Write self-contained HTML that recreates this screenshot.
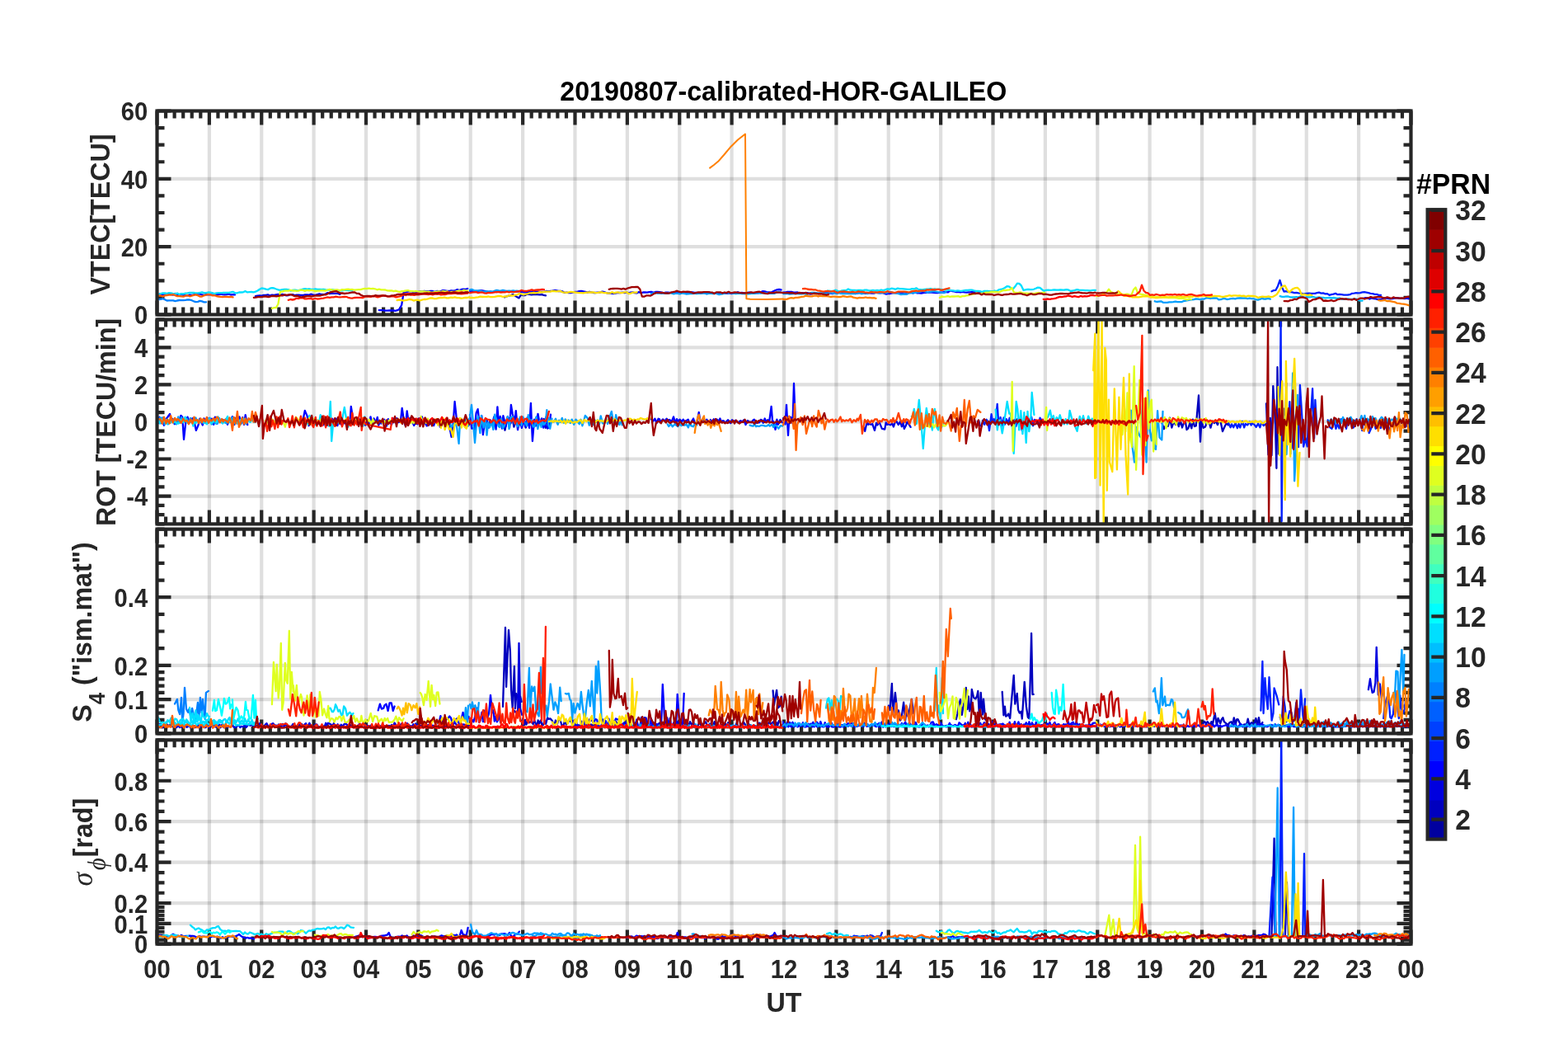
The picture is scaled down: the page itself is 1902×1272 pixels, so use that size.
<!DOCTYPE html><html><head><meta charset="utf-8"><title>20190807-calibrated-HOR-GALILEO</title>
<style>html,body{margin:0;padding:0;background:#fff;}svg{display:block;}text{font-family:"Liberation Sans",Arial,sans-serif;font-weight:bold;fill:#262626;}.tk{font-size:29.2px;}.lb{font-size:32.2px;}.cb{font-size:33.6px;}.pr{font-size:33.8px;}.sym{font-family:"Liberation Serif","DejaVu Serif",serif;font-style:italic;font-weight:normal;}</style></head><body>
<svg width="1902" height="1272" viewBox="0 0 1902 1272">
<rect width="100%" height="100%" fill="#fff"/>
<g>
<path d="M253.88 134.5V381.5M317.25 134.5V381.5M380.62 134.5V381.5M444 134.5V381.5M507.38 134.5V381.5M570.75 134.5V381.5M634.12 134.5V381.5M697.5 134.5V381.5M760.88 134.5V381.5M824.25 134.5V381.5M887.62 134.5V381.5M951 134.5V381.5M1014.38 134.5V381.5M1077.75 134.5V381.5M1141.12 134.5V381.5M1204.5 134.5V381.5M1267.88 134.5V381.5M1331.25 134.5V381.5M1394.62 134.5V381.5M1458 134.5V381.5M1521.38 134.5V381.5M1584.75 134.5V381.5M1648.12 134.5V381.5" stroke="#262626" stroke-opacity="0.15" stroke-width="4.2" fill="none"/>
<path d="M190.5 299.17H1711.5M190.5 216.83H1711.5" stroke="#262626" stroke-opacity="0.15" stroke-width="4.2" fill="none"/>
<path d="M190.5 134.5v17M190.5 381.5v-17M201.06 134.5v9M201.06 381.5v-9M211.62 134.5v9M211.62 381.5v-9M222.19 134.5v9M222.19 381.5v-9M232.75 134.5v9M232.75 381.5v-9M243.31 134.5v9M243.31 381.5v-9M253.88 134.5v17M253.88 381.5v-17M264.44 134.5v9M264.44 381.5v-9M275 134.5v9M275 381.5v-9M285.56 134.5v9M285.56 381.5v-9M296.12 134.5v9M296.12 381.5v-9M306.69 134.5v9M306.69 381.5v-9M317.25 134.5v17M317.25 381.5v-17M327.81 134.5v9M327.81 381.5v-9M338.38 134.5v9M338.38 381.5v-9M348.94 134.5v9M348.94 381.5v-9M359.5 134.5v9M359.5 381.5v-9M370.06 134.5v9M370.06 381.5v-9M380.62 134.5v17M380.62 381.5v-17M391.19 134.5v9M391.19 381.5v-9M401.75 134.5v9M401.75 381.5v-9M412.31 134.5v9M412.31 381.5v-9M422.88 134.5v9M422.88 381.5v-9M433.44 134.5v9M433.44 381.5v-9M444 134.5v17M444 381.5v-17M454.56 134.5v9M454.56 381.5v-9M465.12 134.5v9M465.12 381.5v-9M475.69 134.5v9M475.69 381.5v-9M486.25 134.5v9M486.25 381.5v-9M496.81 134.5v9M496.81 381.5v-9M507.38 134.5v17M507.38 381.5v-17M517.94 134.5v9M517.94 381.5v-9M528.5 134.5v9M528.5 381.5v-9M539.06 134.5v9M539.06 381.5v-9M549.62 134.5v9M549.62 381.5v-9M560.19 134.5v9M560.19 381.5v-9M570.75 134.5v17M570.75 381.5v-17M581.31 134.5v9M581.31 381.5v-9M591.88 134.5v9M591.88 381.5v-9M602.44 134.5v9M602.44 381.5v-9M613 134.5v9M613 381.5v-9M623.56 134.5v9M623.56 381.5v-9M634.12 134.5v17M634.12 381.5v-17M644.69 134.5v9M644.69 381.5v-9M655.25 134.5v9M655.25 381.5v-9M665.81 134.5v9M665.81 381.5v-9M676.38 134.5v9M676.38 381.5v-9M686.94 134.5v9M686.94 381.5v-9M697.5 134.5v17M697.5 381.5v-17M708.06 134.5v9M708.06 381.5v-9M718.62 134.5v9M718.62 381.5v-9M729.19 134.5v9M729.19 381.5v-9M739.75 134.5v9M739.75 381.5v-9M750.31 134.5v9M750.31 381.5v-9M760.88 134.5v17M760.88 381.5v-17M771.44 134.5v9M771.44 381.5v-9M782 134.5v9M782 381.5v-9M792.56 134.5v9M792.56 381.5v-9M803.12 134.5v9M803.12 381.5v-9M813.69 134.5v9M813.69 381.5v-9M824.25 134.5v17M824.25 381.5v-17M834.81 134.5v9M834.81 381.5v-9M845.38 134.5v9M845.38 381.5v-9M855.94 134.5v9M855.94 381.5v-9M866.5 134.5v9M866.5 381.5v-9M877.06 134.5v9M877.06 381.5v-9M887.62 134.5v17M887.62 381.5v-17M898.19 134.5v9M898.19 381.5v-9M908.75 134.5v9M908.75 381.5v-9M919.31 134.5v9M919.31 381.5v-9M929.88 134.5v9M929.88 381.5v-9M940.44 134.5v9M940.44 381.5v-9M951 134.5v17M951 381.5v-17M961.56 134.5v9M961.56 381.5v-9M972.12 134.5v9M972.12 381.5v-9M982.69 134.5v9M982.69 381.5v-9M993.25 134.5v9M993.25 381.5v-9M1003.81 134.5v9M1003.81 381.5v-9M1014.38 134.5v17M1014.38 381.5v-17M1024.94 134.5v9M1024.94 381.5v-9M1035.5 134.5v9M1035.5 381.5v-9M1046.06 134.5v9M1046.06 381.5v-9M1056.62 134.5v9M1056.62 381.5v-9M1067.19 134.5v9M1067.19 381.5v-9M1077.75 134.5v17M1077.75 381.5v-17M1088.31 134.5v9M1088.31 381.5v-9M1098.88 134.5v9M1098.88 381.5v-9M1109.44 134.5v9M1109.44 381.5v-9M1120 134.5v9M1120 381.5v-9M1130.56 134.5v9M1130.56 381.5v-9M1141.12 134.5v17M1141.12 381.5v-17M1151.69 134.5v9M1151.69 381.5v-9M1162.25 134.5v9M1162.25 381.5v-9M1172.81 134.5v9M1172.81 381.5v-9M1183.38 134.5v9M1183.38 381.5v-9M1193.94 134.5v9M1193.94 381.5v-9M1204.5 134.5v17M1204.5 381.5v-17M1215.06 134.5v9M1215.06 381.5v-9M1225.62 134.5v9M1225.62 381.5v-9M1236.19 134.5v9M1236.19 381.5v-9M1246.75 134.5v9M1246.75 381.5v-9M1257.31 134.5v9M1257.31 381.5v-9M1267.88 134.5v17M1267.88 381.5v-17M1278.44 134.5v9M1278.44 381.5v-9M1289 134.5v9M1289 381.5v-9M1299.56 134.5v9M1299.56 381.5v-9M1310.12 134.5v9M1310.12 381.5v-9M1320.69 134.5v9M1320.69 381.5v-9M1331.25 134.5v17M1331.25 381.5v-17M1341.81 134.5v9M1341.81 381.5v-9M1352.38 134.5v9M1352.38 381.5v-9M1362.94 134.5v9M1362.94 381.5v-9M1373.5 134.5v9M1373.5 381.5v-9M1384.06 134.5v9M1384.06 381.5v-9M1394.62 134.5v17M1394.62 381.5v-17M1405.19 134.5v9M1405.19 381.5v-9M1415.75 134.5v9M1415.75 381.5v-9M1426.31 134.5v9M1426.31 381.5v-9M1436.88 134.5v9M1436.88 381.5v-9M1447.44 134.5v9M1447.44 381.5v-9M1458 134.5v17M1458 381.5v-17M1468.56 134.5v9M1468.56 381.5v-9M1479.12 134.5v9M1479.12 381.5v-9M1489.69 134.5v9M1489.69 381.5v-9M1500.25 134.5v9M1500.25 381.5v-9M1510.81 134.5v9M1510.81 381.5v-9M1521.38 134.5v17M1521.38 381.5v-17M1531.94 134.5v9M1531.94 381.5v-9M1542.5 134.5v9M1542.5 381.5v-9M1553.06 134.5v9M1553.06 381.5v-9M1563.62 134.5v9M1563.62 381.5v-9M1574.19 134.5v9M1574.19 381.5v-9M1584.75 134.5v17M1584.75 381.5v-17M1595.31 134.5v9M1595.31 381.5v-9M1605.88 134.5v9M1605.88 381.5v-9M1616.44 134.5v9M1616.44 381.5v-9M1627 134.5v9M1627 381.5v-9M1637.56 134.5v9M1637.56 381.5v-9M1648.12 134.5v17M1648.12 381.5v-17M1658.69 134.5v9M1658.69 381.5v-9M1669.25 134.5v9M1669.25 381.5v-9M1679.81 134.5v9M1679.81 381.5v-9M1690.38 134.5v9M1690.38 381.5v-9M1700.94 134.5v9M1700.94 381.5v-9M1711.5 134.5v17M1711.5 381.5v-17M190.5 381.5h17M1711.5 381.5h-17M190.5 299.17h17M1711.5 299.17h-17M190.5 216.83h17M1711.5 216.83h-17M190.5 134.5h17M1711.5 134.5h-17M190.5 360.92h9M1711.5 360.92h-9M190.5 340.33h9M1711.5 340.33h-9M190.5 319.75h9M1711.5 319.75h-9M190.5 278.58h9M1711.5 278.58h-9M190.5 258h9M1711.5 258h-9M190.5 237.42h9M1711.5 237.42h-9M190.5 196.25h9M1711.5 196.25h-9M190.5 175.67h9M1711.5 175.67h-9M190.5 155.08h9M1711.5 155.08h-9" stroke="#262626" stroke-width="4.2" fill="none"/>
<clipPath id="c_vtec"><rect x="190.5" y="134.5" width="1521" height="247"/></clipPath>
<g clip-path="url(#c_vtec)" fill="none" stroke-linejoin="round" stroke-linecap="round">
<path d="M612.0 360.3L614.5 359.5L617.0 358.7L619.5 358.2L622.0 357.0L624.5 358.4L627.0 360.1L629.5 361.4L632.0 357.4L634.5 358.1L637.0 358.0L639.5 356.6L642.0 356.8L644.5 357.3L647.0 357.0L649.5 356.8L652.0 357.1L654.5 357.3L657.0 357.2L659.5 357.8L662.0 358.3" stroke="#0000bf" stroke-width="2.3"/>
<path d="M309.9 359.2L312.4 358.6L314.9 358.4L317.4 358.6L319.9 357.8L322.4 357.9L324.9 357.3L327.4 358.6L329.9 357.6L332.4 358.0L334.9 357.5L337.4 357.0L339.9 357.5L342.4 356.9L344.9 357.7L347.4 358.4L349.9 358.0L352.4 357.1L354.9 357.2L357.4 358.1L359.9 357.7L362.4 357.7L364.9 357.8L367.4 358.0L369.9 357.4L372.4 357.5L374.9 357.6L377.4 356.6L379.9 357.7L382.4 357.8L384.9 357.1L387.4 356.4L389.9 357.0L392.4 357.2L394.9 356.5L397.4 355.1L399.9 356.2L402.4 355.6L404.9 355.9L407.4 355.9L409.9 355.9L412.4 356.8" stroke="#0000df" stroke-width="2.3"/>
<path d="M190.0 358.1L192.5 357.0L195.0 356.5L197.5 357.0L200.0 356.7L202.5 356.9L205.0 356.8L207.5 357.2L210.0 357.6L212.5 356.0L215.0 357.3L217.5 357.8L220.0 356.9L222.5 357.8L225.0 358.4L227.5 358.4L230.0 357.7L232.5 358.0L235.0 357.4L237.5 356.3L240.0 356.4L242.5 356.5L245.0 357.5L247.5 357.9L250.0 357.1L252.5 357.3L255.0 357.4L257.5 357.6L260.0 357.9L262.5 357.1L265.0 357.2L267.5 356.7L270.0 357.2L272.5 357.4L275.0 357.2L277.5 356.7L280.0 357.5L282.5 357.2L285.0 357.4" stroke="#0000ff" stroke-width="2.3"/>
<path d="M459.7 376.1L462.2 376.1L464.7 376.1L467.2 376.7L469.7 376.7L472.2 376.4L474.7 376.5L477.2 376.5L479.7 376.8L482.2 376.2L484.7 374.6L487.2 369.7L489.7 354.3L492.2 354.0L494.7 353.6L497.2 353.1L499.7 353.4L502.2 354.3L504.7 353.8L507.2 353.8L509.7 353.2L512.2 353.3L514.7 353.0L517.2 353.3L519.7 353.1L522.2 353.0L524.7 353.0L527.2 353.8L529.7 353.0L532.2 353.1L534.7 353.1L537.2 352.2L539.7 352.4L542.2 352.8L544.7 353.0L547.2 352.3L549.7 352.7L552.2 352.4L554.7 351.1L557.2 352.0L559.7 351.0L562.2 350.6L564.7 350.8L567.2 350.0" stroke="#0000ff" stroke-width="2.3"/>
<path d="M570.0 352.9L572.5 352.8L575.0 353.1L577.5 353.8L580.0 353.1L582.5 352.2L585.0 352.3L587.5 352.8L590.0 353.4L592.5 353.9L595.0 353.7L597.5 353.8L600.0 353.5L602.5 354.2L605.0 353.1L607.5 353.3L610.0 353.3L612.5 352.9L615.0 353.2L617.5 353.3L620.0 354.0L622.5 353.6L625.0 353.5L627.5 353.5L630.0 353.0L632.5 354.1L635.0 354.1L637.5 354.5L640.0 354.2L642.5 354.1L645.0 353.5L647.5 353.6L650.0 353.6L652.5 353.7L655.0 353.8L657.5 354.0L660.0 353.8L662.5 353.0L665.0 353.1L667.5 353.0L670.0 352.6L672.5 352.0L675.0 352.5L677.5 353.0L680.0 353.0L682.5 353.5L685.0 354.9L687.5 354.7L690.0 355.1L692.5 355.2L695.0 354.3L697.5 353.8L700.0 353.8L702.5 353.2L705.0 352.8L707.5 353.3L710.0 353.8L712.5 354.6L715.0 353.8L717.5 354.4L720.0 355.0L722.5 355.0L725.0 354.7L727.5 354.7L730.0 353.7L732.5 354.0L735.0 354.9L737.5 355.6L740.0 355.4L742.5 355.8L745.0 356.0L747.5 355.4L750.0 354.8L752.5 355.0L755.0 354.7L757.5 355.0L760.0 354.5L762.5 355.3L765.0 354.6L767.5 354.4L770.0 355.1L772.5 355.4L775.0 354.1L777.5 355.3L780.0 354.5L782.5 354.5L785.0 354.7L787.5 354.1L790.0 353.8L792.5 354.9L795.0 354.0L797.5 353.8L800.0 354.2L802.5 354.7L805.0 355.4L807.5 354.6L810.0 354.6L812.5 354.9L815.0 354.8L817.5 354.4L820.0 354.6L822.5 354.5L825.0 354.6L827.5 354.1L830.0 355.0L832.5 355.1L835.0 355.0L837.5 354.5L840.0 354.4L842.5 354.8L845.0 355.0L847.5 355.4L850.0 355.6L852.5 355.2L855.0 355.2L857.5 356.1L860.0 354.4L862.5 355.5L865.0 355.9L867.5 355.7L870.0 356.2L872.5 355.6L875.0 355.8L877.5 355.4L880.0 355.7L882.5 355.9L885.0 355.3L887.5 356.2L890.0 355.5L892.5 355.5L895.0 354.2L897.5 355.2L900.0 354.9L902.5 355.4L905.0 355.4L907.5 354.7L910.0 354.6L912.5 355.3L915.0 355.7L917.5 355.0L920.0 355.3L922.5 354.2L925.0 353.2L927.5 353.4L930.0 354.2L932.5 354.4L935.0 354.7L937.5 353.5L940.0 352.3L942.5 351.3L945.0 351.0L947.5 351.5" stroke="#0000ff" stroke-width="2.3"/>
<path d="M950.0 354.7L952.5 354.5L955.0 353.9L957.5 353.9L960.0 353.8L962.5 354.7L965.0 354.7L967.5 354.5L970.0 355.3L972.5 355.2L975.0 355.3L977.5 355.8L980.0 355.2L982.5 356.6L985.0 355.8L987.5 355.6L990.0 355.8L992.5 355.8L995.0 356.0L997.5 355.6L1000.0 355.0L1002.5 355.0L1005.0 355.4L1007.5 355.6L1010.0 356.1L1012.5 355.0L1015.0 353.8L1017.5 354.8L1020.0 354.7L1022.5 355.2L1025.0 355.4L1027.5 355.2L1030.0 354.7L1032.5 355.4L1035.0 355.4L1037.5 356.0L1040.0 355.6L1042.5 354.8L1045.0 355.6L1047.5 355.3L1050.0 355.9L1052.5 355.4L1055.0 355.4L1057.5 355.5L1060.0 355.6L1062.5 354.7L1065.0 355.1L1067.5 355.4L1070.0 355.0L1072.5 355.6L1075.0 356.6L1077.5 355.9L1080.0 356.0L1082.5 355.3L1085.0 355.2L1087.5 355.0L1090.0 354.9L1092.5 355.5L1095.0 355.4L1097.5 355.7L1100.0 356.0L1102.5 355.2L1105.0 354.0L1107.5 355.5L1110.0 354.5L1112.5 355.4L1115.0 355.3L1117.5 355.5L1120.0 355.0L1122.5 354.6L1125.0 354.9L1127.5 354.6L1130.0 354.7L1132.5 354.9L1135.0 355.0L1137.5 355.1L1140.0 354.7L1142.5 354.6L1145.0 354.2L1147.5 354.1L1150.0 354.4L1152.5 352.4L1155.0 353.0L1157.5 353.4L1160.0 354.2L1162.5 353.9L1165.0 354.5L1167.5 353.9L1170.0 354.4L1172.5 354.6L1175.0 354.3L1177.5 354.1L1180.0 353.8L1182.5 354.0L1185.0 353.4L1187.5 354.6L1190.0 354.5L1192.5 354.2L1195.0 354.2L1197.5 354.2L1200.0 353.3L1202.5 353.7L1205.0 353.4L1207.5 353.1" stroke="#0000ff" stroke-width="2.3"/>
<path d="M1653.9 361.8L1656.4 361.2L1658.9 361.4L1661.4 362.5L1663.9 361.3L1666.4 362.2L1668.9 362.4L1671.4 363.1L1673.9 362.8L1676.4 362.6L1678.9 361.5L1681.4 361.5L1683.9 361.8L1686.4 362.3L1688.9 362.0L1691.4 361.5L1693.9 361.2L1696.4 361.5L1698.9 361.8L1701.4 361.9L1703.9 362.0L1706.4 361.7L1708.9 362.4" stroke="#0000ff" stroke-width="2.3"/>
<path d="M1542.5 353.2L1545.0 352.1L1547.5 351.8L1550.0 346.9L1552.5 339.8L1555.0 348.2L1557.5 353.5L1560.0 353.2L1562.5 353.8L1565.0 354.2L1567.5 354.4L1570.0 355.1L1572.5 354.9L1575.0 355.4L1577.5 355.7L1580.0 356.2L1582.5 356.5L1585.0 356.0L1587.5 355.7L1590.0 356.0L1592.5 355.8L1595.0 355.9L1597.5 355.1L1600.0 354.6L1602.5 355.6L1605.0 355.4L1607.5 356.4L1610.0 356.1L1612.5 357.8L1615.0 357.2L1617.5 356.7L1620.0 355.8L1622.5 357.2L1625.0 357.0L1627.5 357.1L1630.0 357.6L1632.5 357.6L1635.0 357.5L1637.5 357.2L1640.0 355.8L1642.5 355.6L1645.0 355.2L1647.5 355.3L1650.0 355.1L1652.5 354.4L1655.0 354.2L1657.5 354.6L1660.0 355.1L1662.5 355.8L1665.0 356.1L1667.5 356.9L1670.0 356.9L1672.5 357.8L1675.0 357.9" stroke="#0020ff" stroke-width="2.3"/>
<path d="M190.0 362.7L192.5 363.0L195.0 362.8L197.5 362.2L200.0 363.2L202.5 364.5L205.0 364.4L207.5 364.4L210.0 364.4L212.5 365.1L215.0 364.5L217.5 364.0L220.0 364.2L222.5 364.2L225.0 363.9L227.5 363.4L230.0 363.5L232.5 364.2L235.0 365.3L237.5 366.1L240.0 365.8L242.5 364.9L245.0 365.4L247.5 366.3L250.0 366.3" stroke="#0080ff" stroke-width="2.3"/>
<path d="M570.0 351.5L572.5 351.0L575.0 352.1L577.5 352.3L580.0 352.3L582.5 352.5L585.0 353.4L587.5 353.7L590.0 353.3L592.5 353.6L595.0 353.3L597.5 354.1L600.0 352.7L602.5 351.9L605.0 352.4L607.5 352.7L610.0 351.9L612.5 352.7L615.0 353.0L617.5 352.7L620.0 352.8L622.5 352.3L625.0 352.8L627.5 352.7" stroke="#009fff" stroke-width="2.3"/>
<path d="M789.8 356.1L792.3 355.5L794.8 355.0L797.3 355.6L799.8 355.3L802.3 355.8L804.8 355.3L807.3 355.5L809.8 355.9L812.3 355.2L814.8 355.7L817.3 356.4L819.8 355.7L822.3 355.9L824.8 356.3L827.3 355.5L829.8 355.8L832.3 356.5L834.8 356.3L837.3 356.1L839.8 356.0L842.3 355.6L844.8 356.0L847.3 355.8L849.8 355.7L852.3 355.3L854.8 355.6L857.3 356.4L859.8 355.8L862.3 355.8L864.8 356.0L867.3 355.8L869.8 355.9L872.3 357.2L874.8 356.6L877.3 356.1L879.8 355.0L882.3 355.4L884.8 355.4L887.3 355.5L889.8 355.6L892.3 356.1L894.8 355.8L897.3 355.7L899.8 356.1L902.3 356.0L904.8 356.3L907.3 356.4L909.8 356.2L912.3 355.6L914.8 355.9L917.3 355.6L919.8 355.1L922.3 355.6L924.8 355.4L927.3 355.3L929.8 355.5L932.3 355.8L934.8 355.7L937.3 355.8L939.8 355.8L942.3 354.5L944.8 354.1L947.3 354.5" stroke="#009fff" stroke-width="2.3"/>
<path d="M950.0 356.0L952.5 356.1L955.0 355.8L957.5 356.6L960.0 356.3L962.5 356.2L965.0 356.1L967.5 356.0L970.0 356.4L972.5 356.3L975.0 355.8L977.5 356.8L980.0 356.3L982.5 355.7L985.0 354.8L987.5 355.0L990.0 355.2L992.5 355.6L995.0 355.4L997.5 355.5L1000.0 356.0L1002.5 355.7L1005.0 355.6L1007.5 355.0L1010.0 355.6L1012.5 355.7L1015.0 356.2L1017.5 355.1L1020.0 355.9L1022.5 356.2L1025.0 356.2L1027.5 356.0L1030.0 355.9L1032.5 356.0L1035.0 355.8L1037.5 356.2L1040.0 355.7L1042.5 355.1L1045.0 356.3L1047.5 355.6L1050.0 355.2L1052.5 356.0L1055.0 354.6L1057.5 354.1L1060.0 354.8L1062.5 355.0L1065.0 354.8L1067.5 355.1L1070.0 354.8L1072.5 355.0L1075.0 355.1L1077.5 354.4L1080.0 353.8L1082.5 354.8L1085.0 355.3L1087.5 355.6L1090.0 356.1L1092.5 357.0L1095.0 356.9L1097.5 356.5L1100.0 356.8L1102.5 355.1L1105.0 355.3L1107.5 355.1L1110.0 355.0L1112.5 354.3L1115.0 354.0L1117.5 352.9L1120.0 352.8L1122.5 353.6L1125.0 354.8L1127.5 354.0L1130.0 353.5L1132.5 353.0L1135.0 353.5L1137.5 354.2L1140.0 354.4L1142.5 354.8L1145.0 355.2L1147.5 354.0" stroke="#009fff" stroke-width="2.3"/>
<path d="M1400.8 365.3L1403.3 366.0L1405.8 365.6L1408.3 365.3L1410.8 366.8L1413.3 366.9L1415.8 366.9L1418.3 366.3L1420.8 366.3L1423.3 366.2L1425.8 365.6L1428.3 366.1L1430.8 366.2L1433.3 366.2L1435.8 365.0L1438.3 364.6L1440.8 364.1L1443.3 363.7L1445.8 363.4L1448.3 363.1L1450.8 362.3L1453.3 362.6L1455.8 363.2L1458.3 362.6L1460.8 362.6L1463.3 361.2L1465.8 361.3L1468.3 362.0L1470.8 361.4L1473.3 361.5L1475.8 361.4L1478.3 363.3L1480.8 363.2L1483.3 362.2L1485.8 362.2L1488.3 363.0L1490.8 362.7L1493.3 362.2L1495.8 361.9L1498.3 362.4L1500.8 361.7L1503.3 361.5L1505.8 361.4L1508.3 361.7L1510.8 361.4L1513.3 362.1L1515.8 361.6L1518.3 362.1L1520.8 362.2L1523.3 363.2L1525.8 363.7L1528.3 362.9L1530.8 361.8L1533.3 362.6L1535.8 362.5L1538.3 361.9L1540.8 362.6" stroke="#009fff" stroke-width="2.3"/>
<path d="M1552.7 359.1L1555.2 359.9L1557.7 359.9L1560.2 359.4L1562.7 359.5L1565.2 360.3L1567.7 360.5L1570.2 360.4L1572.7 360.1L1575.2 360.6L1577.7 359.1L1580.2 359.9L1582.7 360.8L1585.2 360.1L1587.7 360.3L1590.2 360.2L1592.7 359.8L1595.2 360.8L1597.7 360.7L1600.2 360.5L1602.7 361.0L1605.2 361.0L1607.7 361.3L1610.2 361.1L1612.7 361.0L1615.2 361.5L1617.7 361.0L1620.2 361.5L1622.7 361.9L1625.2 361.5L1627.7 362.9L1630.2 362.6L1632.7 362.8L1635.2 362.5L1637.7 362.9L1640.2 362.8L1642.7 362.5L1645.2 362.6L1647.7 363.8L1650.2 364.6L1652.7 364.6" stroke="#00bfff" stroke-width="2.3"/>
<path d="M190.0 356.3L192.5 357.0L195.0 356.0L197.5 355.3L200.0 355.5L202.5 355.9L205.0 355.2L207.5 355.4L210.0 356.1L212.5 356.4L215.0 355.6L217.5 356.9L220.0 356.1L222.5 356.4L225.0 355.7L227.5 355.4L230.0 355.0L232.5 355.0L235.0 354.9L237.5 355.5L240.0 355.4L242.5 355.0L245.0 354.3L247.5 355.1L250.0 355.1L252.5 354.5L255.0 354.7L257.5 355.2L260.0 356.1L262.5 355.3L265.0 355.1L267.5 355.1L270.0 355.0L272.5 354.8L275.0 354.8L277.5 354.8L280.0 354.4L282.5 353.8L285.0 355.3L287.5 355.3L290.0 354.5L292.5 354.5L295.0 354.3L297.5 353.1L300.0 354.4L302.5 354.2L305.0 354.0L307.5 354.3L310.0 353.6L312.5 352.5L315.0 350.7L317.5 349.5L320.0 349.8L322.5 350.7L325.0 351.2L327.5 349.7L330.0 349.1L332.5 349.5L335.0 350.5L337.5 351.3L340.0 351.8L342.5 351.1L345.0 351.0L347.5 351.0L350.0 351.3L352.5 352.6L355.0 351.9L357.5 351.6L360.0 351.9L362.5 352.1L365.0 351.3L367.5 350.7L370.0 350.1L372.5 350.7L375.0 350.5L377.5 351.0L380.0 351.0L382.5 350.3L385.0 350.8L387.5 350.8L390.0 351.2L392.5 351.0L395.0 351.5L397.5 351.7L400.0 351.6L402.5 351.0L405.0 351.6L407.5 352.5L410.0 352.4L412.5 352.1L415.0 352.3L417.5 351.8L420.0 351.7L422.5 352.1L425.0 352.2L427.5 352.3" stroke="#00dfff" stroke-width="2.3"/>
<path d="M1003.9 352.6L1006.4 352.8L1008.9 353.2L1011.4 352.5L1013.9 351.7L1016.4 352.8L1018.9 353.6L1021.4 352.4L1023.9 352.1L1026.4 352.2L1028.9 350.4L1031.4 351.7L1033.9 351.8L1036.4 351.9L1038.9 352.2L1041.4 352.0L1043.9 351.8L1046.4 352.4L1048.9 351.7L1051.4 351.6L1053.9 352.3L1056.4 352.4L1058.9 351.9L1061.4 352.3L1063.9 352.0L1066.4 352.3L1068.9 351.5L1071.4 352.2L1073.9 351.4L1076.4 350.4L1078.9 350.7L1081.4 349.7L1083.9 350.2L1086.4 350.8L1088.9 349.6L1091.4 350.2L1093.9 350.1L1096.4 350.3L1098.9 350.6L1101.4 350.9L1103.9 350.9L1106.4 350.2L1108.9 350.5L1111.4 349.3L1113.9 350.9L1116.4 351.1L1118.9 351.4L1121.4 351.0L1123.9 350.6L1126.4 350.7L1128.9 350.0L1131.4 351.0L1133.9 350.3L1136.4 351.0L1138.9 350.6L1141.4 350.8L1143.9 351.4L1146.4 351.5L1148.9 351.7L1151.4 351.9L1153.9 352.2L1156.4 352.3L1158.9 352.9L1161.4 352.4L1163.9 352.7L1166.4 352.8L1168.9 352.3L1171.4 352.0L1173.9 352.0L1176.4 351.6L1178.9 351.7L1181.4 352.4L1183.9 352.8L1186.4 352.9L1188.9 353.2L1191.4 354.0L1193.9 352.9L1196.4 352.8L1198.9 353.0L1201.4 353.1L1203.9 353.4L1206.4 352.5L1208.9 353.2L1211.4 351.4L1213.9 350.8L1216.4 350.3L1218.9 349.0L1221.4 347.2L1223.9 347.4L1226.4 349.3L1228.9 350.3L1231.4 347.3L1233.9 343.7L1236.4 343.9L1238.9 346.4L1241.4 351.8L1243.9 351.4L1246.4 350.8L1248.9 351.0L1251.4 351.1L1253.9 350.8L1256.4 349.8L1258.9 348.6L1261.4 348.9L1263.9 351.0L1266.4 352.9L1268.9 351.8L1271.4 351.7L1273.9 351.8L1276.4 351.7L1278.9 351.4L1281.4 351.7L1283.9 351.7L1286.4 351.3L1288.9 351.7L1291.4 351.5L1293.9 351.1L1296.4 351.7L1298.9 353.0L1301.4 352.5L1303.9 351.9L1306.4 351.2L1308.9 351.6L1311.4 351.9L1313.9 351.9L1316.4 352.1L1318.9 352.1L1321.4 352.4L1323.9 352.2L1326.4 351.8L1328.9 351.9" stroke="#00dfff" stroke-width="2.3"/>
<path d="M329.9 374.0L332.4 373.2L334.9 373.1L337.4 368.7L339.9 353.6L342.4 353.6L344.9 352.7L347.4 352.7L349.9 352.6L352.4 351.8L354.9 352.5L357.4 352.4L359.9 352.8L362.4 352.5L364.9 351.6L367.4 351.9L369.9 352.9L372.4 351.8L374.9 352.3L377.4 351.8L379.9 352.2L382.4 353.1L384.9 352.6L387.4 352.7L389.9 352.2L392.4 352.4L394.9 352.5L397.4 351.5L399.9 350.8L402.4 351.4L404.9 351.8L407.4 351.4L409.9 351.5L412.4 352.1L414.9 351.2L417.4 351.5L419.9 350.9L422.4 350.7L424.9 351.1L427.4 351.0L429.9 351.6L432.4 351.3L434.9 351.2L437.4 351.2L439.9 350.4L442.4 350.0L444.9 350.2L447.4 349.6L449.9 350.1L452.4 349.9L454.9 350.3L457.4 351.3L459.9 350.6L462.4 351.3L464.9 351.4L467.4 351.5L469.9 352.3L472.4 352.5L474.9 352.4L477.4 353.1L479.9 352.6L482.4 353.3L484.9 353.9L487.4 353.1L489.9 353.0L492.4 352.5L494.9 352.2L497.4 353.0L499.9 353.1L502.4 353.4L504.9 353.0L507.4 353.7L509.9 353.3L512.4 353.5L514.9 353.5L517.4 353.8L519.9 353.7L522.4 354.6L524.9 354.7L527.4 354.0L529.9 353.7L532.4 353.4L534.9 354.1L537.4 353.0L539.9 353.7L542.4 353.3L544.9 355.0L547.4 353.8L549.9 354.0L552.4 353.7L554.9 352.9L557.4 352.5L559.9 353.2L562.4 351.9L564.9 352.4L567.4 352.9" stroke="#dfff20" stroke-width="2.3"/>
<path d="M1139.8 360.9L1142.3 359.5L1144.8 359.8L1147.3 359.6L1149.8 359.1L1152.3 359.8L1154.8 359.4L1157.3 359.5L1159.8 359.3L1162.3 359.2L1164.8 360.1L1167.3 359.2L1169.8 359.2L1172.3 358.3L1174.8 358.1L1177.3 357.0L1179.8 356.8L1182.3 356.3L1184.8 355.3L1187.3 356.0L1189.8 355.9L1192.3 355.9L1194.8 355.0L1197.3 354.6L1199.8 354.7L1202.3 353.8L1204.8 354.0L1207.3 353.8L1209.8 354.2L1212.3 354.3L1214.8 353.0L1217.3 351.9L1219.8 352.0L1222.3 351.6L1224.8 351.4L1227.3 349.0L1229.8 354.3L1232.3 355.0L1234.8 355.2L1237.3 354.3L1239.8 355.2L1242.3 355.6L1244.8 355.6L1247.3 355.9L1249.8 356.0L1252.3 355.8L1254.8 356.2L1257.3 355.3L1259.8 355.0L1262.3 355.6L1264.8 354.9L1267.3 354.8" stroke="#dfff20" stroke-width="2.3"/>
<path d="M1330.0 359.0L1332.5 358.6L1335.0 357.8L1337.5 357.2L1340.0 355.6L1342.5 354.3L1345.0 350.7L1347.5 354.1L1350.0 355.1L1352.5 355.3L1355.0 355.9L1357.5 357.2L1360.0 356.6L1362.5 357.1L1365.0 356.9L1367.5 356.6L1370.0 357.4L1372.5 357.7L1375.0 351.2L1377.5 348.5L1380.0 355.0L1382.5 356.4L1385.0 357.0L1387.5 357.3L1390.0 358.0L1392.5 358.5L1395.0 359.5L1397.5 359.4L1400.0 360.7L1402.5 360.0L1405.0 360.5L1407.5 360.5L1410.0 360.4L1412.5 360.8L1415.0 360.5L1417.5 361.0L1420.0 361.1L1422.5 360.8L1425.0 361.1L1427.5 361.3L1430.0 361.8L1432.5 361.9L1435.0 361.9L1437.5 362.6L1440.0 363.3L1442.5 362.4L1445.0 363.0" stroke="#dfff20" stroke-width="2.3"/>
<path d="M481.7 364.0L484.2 363.5L486.7 363.8L489.2 364.6L491.7 364.0L494.2 363.7L496.7 363.0L499.2 363.3L501.7 364.6L504.2 363.9L506.7 363.7L509.2 364.5L511.7 363.7L514.2 363.0L516.7 363.0L519.2 362.4L521.7 361.5L524.2 361.4L526.7 362.2L529.2 362.2L531.7 361.3L534.2 361.0L536.7 361.1L539.2 360.6L541.7 361.4L544.2 361.4L546.7 360.7L549.2 361.0L551.7 360.4L554.2 361.2L556.7 361.1L559.2 361.7L561.7 361.3L564.2 360.8L566.7 361.0L569.2 360.3" stroke="#ffdf00" stroke-width="2.3"/>
<path d="M570.0 361.0L572.5 361.0L575.0 361.1L577.5 360.7L580.0 360.4L582.5 359.7L585.0 360.0L587.5 359.8L590.0 359.9L592.5 359.5L595.0 360.1L597.5 360.1L600.0 359.9L602.5 359.4L605.0 358.9L607.5 359.2L610.0 360.0L612.5 359.3L615.0 359.6L617.5 358.2L620.0 358.5L622.5 358.5L625.0 357.7L627.5 357.3L630.0 355.9L632.5 356.4L635.0 357.3L637.5 356.7L640.0 356.3L642.5 355.3L645.0 355.3L647.5 355.0L650.0 355.4L652.5 354.9L655.0 354.2L657.5 354.4L660.0 353.9L662.5 353.6L665.0 353.7L667.5 353.6L670.0 352.9L672.5 353.0L675.0 353.4L677.5 353.1L680.0 353.1L682.5 354.4L685.0 354.6L687.5 354.9L690.0 354.4L692.5 353.9L695.0 354.1L697.5 354.5L700.0 354.8L702.5 355.1L705.0 355.1L707.5 355.4L710.0 354.9L712.5 354.6L715.0 354.3L717.5 354.5L720.0 354.5L722.5 355.2L725.0 354.9L727.5 354.5L730.0 354.3L732.5 355.2L735.0 355.2L737.5 355.7L740.0 355.4L742.5 354.2L745.0 355.4L747.5 354.7L750.0 354.5L752.5 355.2L755.0 355.0L757.5 354.3L760.0 354.3L762.5 356.0L765.0 355.8L767.5 354.7L770.0 354.6L772.5 354.5" stroke="#ffdf00" stroke-width="2.3"/>
<path d="M1356.3 352.9L1358.8 355.1L1361.3 357.5L1363.8 358.8L1366.3 358.7L1368.8 359.1L1371.3 359.7L1373.8 360.3L1376.3 360.4L1378.8 360.2L1381.3 360.3L1383.8 359.8L1386.3 359.4L1388.8 359.4L1391.3 359.2L1393.8 359.7L1396.3 360.7L1398.8 360.4L1401.3 361.0L1403.8 361.0L1406.3 360.5L1408.8 360.6L1411.3 360.4L1413.8 359.6L1416.3 360.6L1418.8 360.2L1421.3 359.9L1423.8 359.8L1426.3 360.2L1428.8 359.6L1431.3 359.5L1433.8 359.9L1436.3 359.8L1438.8 360.2L1441.3 359.9L1443.8 359.5L1446.3 359.8L1448.8 359.0L1451.3 359.3L1453.8 359.6L1456.3 358.9L1458.8 358.7L1461.3 358.9L1463.8 359.3L1466.3 359.9L1468.8 359.8L1471.3 359.2L1473.8 358.8L1476.3 359.1L1478.8 359.2L1481.3 359.7L1483.8 360.0L1486.3 359.3L1488.8 359.0L1491.3 358.2L1493.8 358.9L1496.3 358.4L1498.8 358.4L1501.3 358.7L1503.8 358.3L1506.3 359.0L1508.8 358.6L1511.3 359.7L1513.8 358.7L1516.3 358.8L1518.8 359.0L1521.3 359.2L1523.8 359.7L1526.3 361.0L1528.8 360.1L1531.3 359.7L1533.8 359.8L1536.3 359.8L1538.8 359.4L1541.3 360.1L1543.8 359.9L1546.3 358.6L1548.8 356.9L1551.3 353.1L1553.8 349.0L1556.3 346.8L1558.8 346.5L1561.3 351.6L1563.8 354.6L1566.3 352.0L1568.8 350.0L1571.3 349.1L1573.8 348.8L1576.3 351.3L1578.8 357.5L1581.3 357.0L1583.8 357.4L1586.3 358.1L1588.8 357.3L1591.3 358.1" stroke="#ffdf00" stroke-width="2.3"/>
<path d="M861.1 203.6L866.0 200.0L871.1 195.8L878.0 188.0L886.7 177.7L895.0 169.5L904.0 162.5L905.4 362.2L910.0 362.8L930.0 363.0L950.0 362.6" stroke="#ff8000" stroke-width="2.0"/>
<path d="M950.0 362.8L952.5 363.0L955.0 362.6L957.5 361.6L960.0 361.1L962.5 361.6L965.0 360.9L967.5 360.8L970.0 360.5L972.5 359.9L975.0 359.6L977.5 358.5L980.0 359.0L982.5 359.4L985.0 359.3L987.5 358.7L990.0 358.3L992.5 359.5L995.0 358.6L997.5 359.1L1000.0 359.2L1002.5 359.2L1005.0 359.3L1007.5 360.0L1010.0 359.6L1012.5 359.7L1015.0 359.8L1017.5 360.2L1020.0 360.0L1022.5 359.1L1025.0 359.5L1027.5 360.1L1030.0 359.7L1032.5 359.5L1035.0 360.6L1037.5 361.1L1040.0 361.7L1042.5 360.9L1045.0 361.2L1047.5 361.1L1050.0 360.5L1052.5 361.2L1055.0 360.9L1057.5 361.3L1060.0 361.1L1062.5 361.8" stroke="#ff8000" stroke-width="2.3"/>
<path d="M1672.1 364.0L1674.6 364.6L1677.1 364.3L1679.6 363.8L1682.1 365.1L1684.6 364.8L1687.1 365.3L1689.6 365.9L1692.1 366.3L1694.6 367.7L1697.1 367.8L1699.6 368.4L1702.1 368.7L1704.6 369.0L1707.1 369.6L1709.6 370.5" stroke="#ff8000" stroke-width="2.3"/>
<path d="M190.0 359.0L192.5 358.7L195.0 358.5L197.5 359.3L200.0 358.4L202.5 358.0L205.0 357.7L207.5 357.6L210.0 357.0L212.5 358.1L215.0 359.1L217.5 359.1L220.0 359.3L222.5 359.6L225.0 358.7L227.5 358.2L230.0 359.3L232.5 358.7L235.0 357.9L237.5 357.3L240.0 358.2L242.5 359.6L245.0 359.5L247.5 358.3L250.0 357.7L252.5 357.0L255.0 357.3L257.5 358.4L260.0 358.1L262.5 359.0L265.0 359.5L267.5 359.9L270.0 360.1L272.5 359.9L275.0 359.8L277.5 360.1L280.0 359.9L282.5 360.4" stroke="#ff6000" stroke-width="2.3"/>
<path d="M974.0 350.2L976.5 349.8L979.0 350.5L981.5 351.0L984.0 350.9L986.5 351.4L989.0 351.3L991.5 352.3L994.0 352.6L996.5 353.2L999.0 353.6L1001.5 353.1L1004.0 352.8L1006.5 353.3L1009.0 353.4L1011.5 352.8L1014.0 354.3L1016.5 354.9L1019.0 353.7L1021.5 353.7L1024.0 353.5L1026.5 353.9L1029.0 354.2L1031.5 354.4L1034.0 353.9L1036.5 354.3L1039.0 354.2L1041.5 353.3L1044.0 354.0L1046.5 354.0L1049.0 354.5L1051.5 354.7L1054.0 355.1L1056.5 354.0L1059.0 354.4L1061.5 354.5L1064.0 354.7L1066.5 354.1L1069.0 354.1L1071.5 354.4L1074.0 354.3L1076.5 353.2L1079.0 354.1L1081.5 354.3L1084.0 354.6L1086.5 354.8L1089.0 353.7L1091.5 353.6L1094.0 353.6L1096.5 353.6L1099.0 353.9L1101.5 354.3L1104.0 354.1L1106.5 353.1L1109.0 352.9L1111.5 352.5L1114.0 353.1L1116.5 352.7L1119.0 352.3L1121.5 352.7L1124.0 351.4L1126.5 351.5L1129.0 351.4L1131.5 351.0L1134.0 351.4L1136.5 350.9L1139.0 350.8L1141.5 351.9L1144.0 351.5L1146.5 350.6L1149.0 350.0L1151.5 349.4" stroke="#ff4000" stroke-width="2.3"/>
<path d="M349.8 363.8L352.3 363.0L354.8 363.5L357.3 363.0L359.8 361.6L362.3 362.0L364.8 361.2L367.3 361.3L369.8 362.4L372.3 362.4L374.8 361.9L377.3 362.1L379.8 362.8L382.3 361.8L384.8 362.5L387.3 362.4L389.8 361.9L392.3 361.7L394.8 361.0L397.3 360.4L399.8 360.9L402.3 360.3L404.8 360.3L407.3 359.6L409.8 360.2L412.3 360.3L414.8 360.2L417.3 360.0L419.8 359.8L422.3 360.8L424.8 361.4L427.3 361.7L429.8 361.0L432.3 360.8L434.8 360.9L437.3 360.9L439.8 361.1L442.3 360.0L444.8 359.3L447.3 359.6L449.8 359.9L452.3 358.7L454.8 359.3L457.3 360.3L459.8 360.0L462.3 359.1L464.8 358.2L467.3 358.9L469.8 359.4L472.3 359.7L474.8 359.3L477.3 359.2L479.8 360.3L482.3 360.0L484.8 359.4L487.3 358.6L489.8 357.3L492.3 358.0L494.8 356.5L497.3 357.5L499.8 357.4L502.3 357.9L504.8 357.4L507.3 357.4L509.8 356.8L512.3 356.1L514.8 356.7L517.3 356.8L519.8 357.0L522.3 356.6L524.8 357.4L527.3 356.6L529.8 356.4L532.3 356.5L534.8 357.3L537.3 357.0L539.8 357.2L542.3 356.4L544.8 355.8L547.3 356.2L549.8 355.9L552.3 355.5L554.8 356.1L557.3 356.1L559.8 356.3L562.3 356.1L564.8 355.8L567.3 355.7" stroke="#ff2000" stroke-width="2.3"/>
<path d="M570.0 355.1L572.5 354.7L575.0 354.3L577.5 354.2L580.0 355.1L582.5 354.7L585.0 354.5L587.5 355.3L590.0 355.7L592.5 354.9L595.0 355.1L597.5 354.8L600.0 354.4L602.5 354.1L605.0 354.2L607.5 354.5L610.0 354.4L612.5 354.4L615.0 353.7L617.5 354.5L620.0 353.7L622.5 354.1L625.0 353.8L627.5 353.3L630.0 353.3L632.5 352.0L635.0 352.7L637.5 353.0L640.0 352.6L642.5 352.0L645.0 351.3L647.5 352.1L650.0 351.7L652.5 351.5L655.0 351.4L657.5 350.9L660.0 351.2" stroke="#ff2000" stroke-width="2.3"/>
<path d="M1330.0 357.6L1332.5 358.7L1335.0 358.2L1337.5 357.8L1340.0 357.7L1342.5 358.6L1345.0 358.4L1347.5 358.3L1350.0 358.3L1352.5 358.2L1355.0 358.0L1357.5 357.9L1360.0 357.3L1362.5 358.2L1365.0 357.8L1367.5 358.5L1370.0 359.0L1372.5 358.6L1375.0 358.2L1377.5 358.0L1380.0 355.7L1382.5 353.6L1385.0 345.6L1387.5 352.5L1390.0 354.8L1392.5 355.4L1395.0 357.8L1397.5 357.4L1400.0 357.8L1402.5 356.9L1405.0 357.5L1407.5 358.2L1410.0 357.7L1412.5 357.9L1415.0 357.0L1417.5 357.3L1420.0 357.2L1422.5 357.5L1425.0 356.9L1427.5 357.7L1430.0 357.2L1432.5 357.7L1435.0 356.8L1437.5 357.6L1440.0 357.8L1442.5 357.2L1445.0 356.9L1447.5 357.7L1450.0 358.3L1452.5 358.6L1455.0 358.2L1457.5 358.0L1460.0 357.0L1462.5 358.1L1465.0 357.9L1467.5 357.8L1470.0 357.5" stroke="#ff2000" stroke-width="2.3"/>
<path d="M489.7 357.0L492.2 356.7L494.7 356.4L497.2 356.2L499.7 356.4L502.2 356.6L504.7 355.8L507.2 356.0L509.7 356.5L512.2 356.1L514.7 355.7L517.2 356.2L519.7 356.2L522.2 355.3L524.7 355.3L527.2 355.3L529.7 355.1L532.2 354.9L534.7 354.8L537.2 354.6L539.7 355.3L542.2 354.5L544.7 354.7L547.2 355.2L549.7 354.5L552.2 354.4L554.7 354.7L557.2 354.9L559.7 354.4L562.2 355.1L564.7 354.6L567.2 354.3" stroke="#ff0000" stroke-width="2.3"/>
<path d="M1265.7 362.8L1268.2 363.0L1270.7 362.5L1273.2 362.8L1275.7 362.3L1278.2 362.2L1280.7 361.6L1283.2 360.7L1285.7 359.9L1288.2 360.2L1290.7 359.5L1293.2 359.4L1295.7 358.5L1298.2 359.0L1300.7 359.9L1303.2 359.1L1305.7 359.7L1308.2 360.2L1310.7 358.9L1313.2 359.7L1315.7 359.1L1318.2 359.4L1320.7 358.9L1323.2 357.9L1325.7 358.1L1328.2 358.4" stroke="#ff0000" stroke-width="2.3"/>
<path d="M307.9 360.9L310.4 360.6L312.9 360.1L315.4 360.2L317.9 360.1L320.4 359.5L322.9 359.5L325.4 360.0L327.9 359.5L330.4 358.9L332.9 359.0L335.4 359.4L337.9 358.9L340.4 358.1L342.9 358.3L345.4 357.5L347.9 357.8L350.4 357.3L352.9 357.2L355.4 358.1L357.9 359.2L360.4 358.7L362.9 359.8L365.4 360.3L367.9 360.0L370.4 359.5L372.9 359.1L375.4 359.1L377.9 359.5L380.4 358.9L382.9 358.4L385.4 358.5L387.9 358.7L390.4 358.0L392.9 357.4L395.4 357.3L397.9 355.9L400.4 354.4L402.9 353.9L405.4 353.4L407.9 353.1L410.4 354.2L412.9 355.5L415.4 355.5L417.9 356.0L420.4 355.6L422.9 355.3L425.4 354.8L427.9 354.4L430.4 354.5L432.9 355.9L435.4 356.0L437.9 357.9L440.4 358.8L442.9 359.1L445.4 358.8L447.9 359.0L450.4 359.2L452.9 359.4L455.4 358.1L457.9 358.6L460.4 358.6L462.9 358.3L465.4 358.7L467.9 358.5L470.4 359.3L472.9 359.2L475.4 358.3L477.9 358.2L480.4 357.7L482.9 356.9L485.4 357.0L487.9 356.7L490.4 356.7L492.9 356.8L495.4 357.4L497.9 356.5L500.4 356.1L502.9 356.1L505.4 356.5L507.9 356.6L510.4 356.1L512.9 356.4L515.4 355.9L517.9 355.5L520.4 356.0L522.9 355.8L525.4 356.1L527.9 355.6L530.4 356.1L532.9 355.1L535.4 354.9L537.9 355.5L540.4 355.3L542.9 355.3L545.4 355.0L547.9 355.2L550.4 354.6L552.9 355.0L555.4 355.9L557.9 355.5L560.4 355.0L562.9 354.8L565.4 354.5L567.9 354.6" stroke="#9f0000" stroke-width="2.3"/>
<path d="M738.8 350.8L741.3 350.1L743.8 350.0L746.3 349.9L748.8 349.8L751.3 350.2L753.8 350.7L756.3 349.9L758.8 350.8L761.3 349.5L763.8 348.8L766.3 348.1L768.8 348.1L771.3 348.0L773.8 347.9L776.3 350.7L778.8 359.5L781.3 359.7L783.8 358.4L786.3 358.4L788.8 358.7L791.3 357.4L793.8 355.8L796.3 354.9L798.8 354.8L801.3 355.0L803.8 354.9L806.3 355.5L808.8 355.3L811.3 355.7L813.8 354.7L816.3 354.2L818.8 353.6L821.3 352.7L823.8 353.7L826.3 354.3L828.8 353.7L831.3 353.8L833.8 353.6L836.3 354.0L838.8 354.5L841.3 355.7L843.8 355.1L846.3 354.5L848.8 354.3L851.3 354.5L853.8 354.2L856.3 354.2L858.8 354.1L861.3 354.4L863.8 354.6L866.3 356.0L868.8 354.4L871.3 354.4L873.8 354.3L876.3 355.5L878.8 354.5L881.3 355.1L883.8 353.8L886.3 355.2L888.8 354.9L891.3 354.5L893.8 354.6L896.3 354.8L898.8 355.2L901.3 355.4L903.8 355.3L906.3 355.2L908.8 354.8L911.3 354.3L913.8 354.8L916.3 354.4L918.8 354.0L921.3 353.7L923.8 354.8L926.3 355.3L928.8 355.9L931.3 356.1L933.8 354.9L936.3 355.1L938.8 355.1L941.3 354.4L943.8 354.7L946.3 354.7L948.8 354.9" stroke="#9f0000" stroke-width="2.3"/>
<path d="M950.0 355.1L952.5 355.2L955.0 354.9L957.5 355.3L960.0 355.0L962.5 355.3L965.0 356.1L967.5 355.3L970.0 355.0L972.5 355.4L975.0 355.5L977.5 354.8L980.0 356.2L982.5 355.7L985.0 356.3L987.5 355.7L990.0 355.9L992.5 356.5L995.0 356.2L997.5 356.6L1000.0 357.0L1002.5 357.6L1005.0 356.8" stroke="#9f0000" stroke-width="2.3"/>
<path d="M1175.8 356.8L1178.3 356.3L1180.8 355.7L1183.3 356.0L1185.8 355.6L1188.3 355.9L1190.8 357.4L1193.3 356.1L1195.8 357.1L1198.3 356.8L1200.8 357.0L1203.3 357.0L1205.8 358.0L1208.3 357.3L1210.8 356.8L1213.3 357.5L1215.8 357.8L1218.3 357.2L1220.8 357.0L1223.3 356.8L1225.8 356.2L1228.3 356.7L1230.8 356.6L1233.3 356.4L1235.8 356.2L1238.3 356.0L1240.8 356.9L1243.3 357.3L1245.8 358.3L1248.3 357.1L1250.8 356.1L1253.3 357.2L1255.8 357.2L1258.3 356.5L1260.8 355.8L1263.3 356.0L1265.8 357.0L1268.3 356.7L1270.8 357.1L1273.3 357.6L1275.8 357.6L1278.3 356.8L1280.8 356.5L1283.3 356.4L1285.8 356.0L1288.3 355.9L1290.8 356.2L1293.3 356.2L1295.8 356.4L1298.3 355.5L1300.8 355.3L1303.3 354.8L1305.8 354.8L1308.3 354.3L1310.8 355.0L1313.3 355.3L1315.8 355.3L1318.3 355.6L1320.8 355.0L1323.3 355.0L1325.8 355.3L1328.3 354.7" stroke="#9f0000" stroke-width="2.3"/>
<path d="M1330.0 355.3L1332.5 355.5L1335.0 355.4L1337.5 354.9L1340.0 354.9L1342.5 355.4L1345.0 355.6L1347.5 355.7L1350.0 355.4L1352.5 355.7L1355.0 354.4" stroke="#9f0000" stroke-width="2.3"/>
<path d="M1557.7 365.1L1560.2 365.1L1562.7 365.3L1565.2 364.1L1567.7 363.9L1570.2 362.7L1572.7 363.2L1575.2 361.3L1577.7 360.7L1580.2 360.4L1582.7 361.1L1585.2 362.0L1587.7 366.0L1590.2 364.7L1592.7 363.2L1595.2 363.1L1597.7 362.1L1600.2 361.1L1602.7 362.0L1605.2 364.8L1607.7 364.5L1610.2 364.8L1612.7 364.6L1615.2 364.2L1617.7 365.2L1620.2 364.5L1622.7 363.1L1625.2 362.7L1627.7 362.1L1630.2 362.6L1632.7 362.3L1635.2 363.1L1637.7 363.1L1640.2 363.5L1642.7 362.3L1645.2 363.9L1647.7 362.7L1650.2 361.6L1652.7 361.6L1655.2 362.5L1657.7 361.6L1660.2 361.2L1662.7 360.0L1665.2 360.9L1667.7 360.5L1670.2 360.2L1672.7 360.2L1675.2 360.2L1677.7 361.1L1680.2 361.3L1682.7 360.4L1685.2 361.2L1687.7 361.9L1690.2 360.4L1692.7 361.3L1695.2 361.4L1697.7 361.6L1700.2 361.3L1702.7 361.7L1705.2 360.4L1707.7 359.9L1710.2 359.7" stroke="#9f0000" stroke-width="2.3"/>
</g>
<rect x="190.5" y="134.5" width="1521" height="247" stroke="#262626" stroke-width="4.2" fill="none"/>
<text class="tk" transform="translate(179.2,393.3) scale(1,1.06)" text-anchor="end">0</text>
<text class="tk" transform="translate(179.2,310.97) scale(1,1.06)" text-anchor="end">20</text>
<text class="tk" transform="translate(179.2,228.63) scale(1,1.06)" text-anchor="end">40</text>
<text class="tk" transform="translate(179.2,146.3) scale(1,1.06)" text-anchor="end">60</text>
</g>
<g>
<path d="M253.88 387.5V635.4M317.25 387.5V635.4M380.62 387.5V635.4M444 387.5V635.4M507.38 387.5V635.4M570.75 387.5V635.4M634.12 387.5V635.4M697.5 387.5V635.4M760.88 387.5V635.4M824.25 387.5V635.4M887.62 387.5V635.4M951 387.5V635.4M1014.38 387.5V635.4M1077.75 387.5V635.4M1141.12 387.5V635.4M1204.5 387.5V635.4M1267.88 387.5V635.4M1331.25 387.5V635.4M1394.62 387.5V635.4M1458 387.5V635.4M1521.38 387.5V635.4M1584.75 387.5V635.4M1648.12 387.5V635.4" stroke="#262626" stroke-opacity="0.15" stroke-width="4.2" fill="none"/>
<path d="M190.5 601.6H1711.5M190.5 556.52H1711.5M190.5 511.45H1711.5M190.5 466.38H1711.5M190.5 421.3H1711.5" stroke="#262626" stroke-opacity="0.15" stroke-width="4.2" fill="none"/>
<path d="M190.5 387.5v17M190.5 635.4v-17M201.06 387.5v9M201.06 635.4v-9M211.62 387.5v9M211.62 635.4v-9M222.19 387.5v9M222.19 635.4v-9M232.75 387.5v9M232.75 635.4v-9M243.31 387.5v9M243.31 635.4v-9M253.88 387.5v17M253.88 635.4v-17M264.44 387.5v9M264.44 635.4v-9M275 387.5v9M275 635.4v-9M285.56 387.5v9M285.56 635.4v-9M296.12 387.5v9M296.12 635.4v-9M306.69 387.5v9M306.69 635.4v-9M317.25 387.5v17M317.25 635.4v-17M327.81 387.5v9M327.81 635.4v-9M338.38 387.5v9M338.38 635.4v-9M348.94 387.5v9M348.94 635.4v-9M359.5 387.5v9M359.5 635.4v-9M370.06 387.5v9M370.06 635.4v-9M380.62 387.5v17M380.62 635.4v-17M391.19 387.5v9M391.19 635.4v-9M401.75 387.5v9M401.75 635.4v-9M412.31 387.5v9M412.31 635.4v-9M422.88 387.5v9M422.88 635.4v-9M433.44 387.5v9M433.44 635.4v-9M444 387.5v17M444 635.4v-17M454.56 387.5v9M454.56 635.4v-9M465.12 387.5v9M465.12 635.4v-9M475.69 387.5v9M475.69 635.4v-9M486.25 387.5v9M486.25 635.4v-9M496.81 387.5v9M496.81 635.4v-9M507.38 387.5v17M507.38 635.4v-17M517.94 387.5v9M517.94 635.4v-9M528.5 387.5v9M528.5 635.4v-9M539.06 387.5v9M539.06 635.4v-9M549.62 387.5v9M549.62 635.4v-9M560.19 387.5v9M560.19 635.4v-9M570.75 387.5v17M570.75 635.4v-17M581.31 387.5v9M581.31 635.4v-9M591.88 387.5v9M591.88 635.4v-9M602.44 387.5v9M602.44 635.4v-9M613 387.5v9M613 635.4v-9M623.56 387.5v9M623.56 635.4v-9M634.12 387.5v17M634.12 635.4v-17M644.69 387.5v9M644.69 635.4v-9M655.25 387.5v9M655.25 635.4v-9M665.81 387.5v9M665.81 635.4v-9M676.38 387.5v9M676.38 635.4v-9M686.94 387.5v9M686.94 635.4v-9M697.5 387.5v17M697.5 635.4v-17M708.06 387.5v9M708.06 635.4v-9M718.62 387.5v9M718.62 635.4v-9M729.19 387.5v9M729.19 635.4v-9M739.75 387.5v9M739.75 635.4v-9M750.31 387.5v9M750.31 635.4v-9M760.88 387.5v17M760.88 635.4v-17M771.44 387.5v9M771.44 635.4v-9M782 387.5v9M782 635.4v-9M792.56 387.5v9M792.56 635.4v-9M803.12 387.5v9M803.12 635.4v-9M813.69 387.5v9M813.69 635.4v-9M824.25 387.5v17M824.25 635.4v-17M834.81 387.5v9M834.81 635.4v-9M845.38 387.5v9M845.38 635.4v-9M855.94 387.5v9M855.94 635.4v-9M866.5 387.5v9M866.5 635.4v-9M877.06 387.5v9M877.06 635.4v-9M887.62 387.5v17M887.62 635.4v-17M898.19 387.5v9M898.19 635.4v-9M908.75 387.5v9M908.75 635.4v-9M919.31 387.5v9M919.31 635.4v-9M929.88 387.5v9M929.88 635.4v-9M940.44 387.5v9M940.44 635.4v-9M951 387.5v17M951 635.4v-17M961.56 387.5v9M961.56 635.4v-9M972.12 387.5v9M972.12 635.4v-9M982.69 387.5v9M982.69 635.4v-9M993.25 387.5v9M993.25 635.4v-9M1003.81 387.5v9M1003.81 635.4v-9M1014.38 387.5v17M1014.38 635.4v-17M1024.94 387.5v9M1024.94 635.4v-9M1035.5 387.5v9M1035.5 635.4v-9M1046.06 387.5v9M1046.06 635.4v-9M1056.62 387.5v9M1056.62 635.4v-9M1067.19 387.5v9M1067.19 635.4v-9M1077.75 387.5v17M1077.75 635.4v-17M1088.31 387.5v9M1088.31 635.4v-9M1098.88 387.5v9M1098.88 635.4v-9M1109.44 387.5v9M1109.44 635.4v-9M1120 387.5v9M1120 635.4v-9M1130.56 387.5v9M1130.56 635.4v-9M1141.12 387.5v17M1141.12 635.4v-17M1151.69 387.5v9M1151.69 635.4v-9M1162.25 387.5v9M1162.25 635.4v-9M1172.81 387.5v9M1172.81 635.4v-9M1183.38 387.5v9M1183.38 635.4v-9M1193.94 387.5v9M1193.94 635.4v-9M1204.5 387.5v17M1204.5 635.4v-17M1215.06 387.5v9M1215.06 635.4v-9M1225.62 387.5v9M1225.62 635.4v-9M1236.19 387.5v9M1236.19 635.4v-9M1246.75 387.5v9M1246.75 635.4v-9M1257.31 387.5v9M1257.31 635.4v-9M1267.88 387.5v17M1267.88 635.4v-17M1278.44 387.5v9M1278.44 635.4v-9M1289 387.5v9M1289 635.4v-9M1299.56 387.5v9M1299.56 635.4v-9M1310.12 387.5v9M1310.12 635.4v-9M1320.69 387.5v9M1320.69 635.4v-9M1331.25 387.5v17M1331.25 635.4v-17M1341.81 387.5v9M1341.81 635.4v-9M1352.38 387.5v9M1352.38 635.4v-9M1362.94 387.5v9M1362.94 635.4v-9M1373.5 387.5v9M1373.5 635.4v-9M1384.06 387.5v9M1384.06 635.4v-9M1394.62 387.5v17M1394.62 635.4v-17M1405.19 387.5v9M1405.19 635.4v-9M1415.75 387.5v9M1415.75 635.4v-9M1426.31 387.5v9M1426.31 635.4v-9M1436.88 387.5v9M1436.88 635.4v-9M1447.44 387.5v9M1447.44 635.4v-9M1458 387.5v17M1458 635.4v-17M1468.56 387.5v9M1468.56 635.4v-9M1479.12 387.5v9M1479.12 635.4v-9M1489.69 387.5v9M1489.69 635.4v-9M1500.25 387.5v9M1500.25 635.4v-9M1510.81 387.5v9M1510.81 635.4v-9M1521.38 387.5v17M1521.38 635.4v-17M1531.94 387.5v9M1531.94 635.4v-9M1542.5 387.5v9M1542.5 635.4v-9M1553.06 387.5v9M1553.06 635.4v-9M1563.62 387.5v9M1563.62 635.4v-9M1574.19 387.5v9M1574.19 635.4v-9M1584.75 387.5v17M1584.75 635.4v-17M1595.31 387.5v9M1595.31 635.4v-9M1605.88 387.5v9M1605.88 635.4v-9M1616.44 387.5v9M1616.44 635.4v-9M1627 387.5v9M1627 635.4v-9M1637.56 387.5v9M1637.56 635.4v-9M1648.12 387.5v17M1648.12 635.4v-17M1658.69 387.5v9M1658.69 635.4v-9M1669.25 387.5v9M1669.25 635.4v-9M1679.81 387.5v9M1679.81 635.4v-9M1690.38 387.5v9M1690.38 635.4v-9M1700.94 387.5v9M1700.94 635.4v-9M1711.5 387.5v17M1711.5 635.4v-17M190.5 601.6h17M1711.5 601.6h-17M190.5 556.52h17M1711.5 556.52h-17M190.5 511.45h17M1711.5 511.45h-17M190.5 466.38h17M1711.5 466.38h-17M190.5 421.3h17M1711.5 421.3h-17M190.5 635.4h9M1711.5 635.4h-9M190.5 624.13h9M1711.5 624.13h-9M190.5 612.86h9M1711.5 612.86h-9M190.5 590.33h9M1711.5 590.33h-9M190.5 579.06h9M1711.5 579.06h-9M190.5 567.79h9M1711.5 567.79h-9M190.5 545.25h9M1711.5 545.25h-9M190.5 533.99h9M1711.5 533.99h-9M190.5 522.72h9M1711.5 522.72h-9M190.5 500.18h9M1711.5 500.18h-9M190.5 488.91h9M1711.5 488.91h-9M190.5 477.65h9M1711.5 477.65h-9M190.5 455.11h9M1711.5 455.11h-9M190.5 443.84h9M1711.5 443.84h-9M190.5 432.57h9M1711.5 432.57h-9M190.5 410.04h9M1711.5 410.04h-9M190.5 398.77h9M1711.5 398.77h-9M190.5 387.5h9M1711.5 387.5h-9" stroke="#262626" stroke-width="4.2" fill="none"/>
<clipPath id="c_rot"><rect x="190.5" y="387.5" width="1521" height="247.9"/></clipPath>
<g clip-path="url(#c_rot)" fill="none" stroke-linejoin="round" stroke-linecap="round">
<path d="M600.0 506.8L601.9 513.4L603.8 507.5L605.8 509.7L608.2 515.0L609.9 506.2L612.5 521.7L614.8 510.3L617.2 507.0L619.4 513.4L621.4 505.8L623.4 517.6L625.7 511.3L627.4 511.1L628.8 517.6L631.1 511.4L633.3 516.4L635.4 508.8L637.8 518.6L639.8 510.3L642.0 516.8L643.9 509.0L646.1 514.1L648.7 515.5L650.6 506.3L652.9 513.9L655.2 510.7L657.8 516.0L659.6 507.8L661.8 518.8L663.8 516.4L665.6 515.9" stroke="#0000bf" stroke-width="2.3"/>
<path d="M1409.3 512.4L1411.9 520.2L1413.8 516.3L1415.4 513.6L1416.9 516.7L1418.9 506.6L1421.4 518.5L1423.8 511.1L1426.0 515.0L1427.9 509.8L1429.8 517.1L1431.9 510.3L1434.0 518.5L1435.5 514.0L1437.8 510.9L1439.5 521.0L1441.3 519.3L1443.3 513.1L1445.4 519.4L1446.9 508.7L1448.9 517.0L1450.8 516.3L1454.0 479.5L1456.0 535.6L1457.5 509.6L1459.7 518.8L1462.1 517.4L1464.3 511.1L1466.7 511.6L1468.5 518.7L1470.8 510.1L1472.9 513.0L1474.5 510.4L1477.0 515.1L1478.4 510.0L1480.2 509.2L1483.0 523.1L1485.9 516.5L1488.3 512.4L1489.7 515.4" stroke="#0000bf" stroke-width="2.3"/>
<path d="M1536.0 489.3L1538.5 551.4L1540.8 506.8L1542.5 552.2L1544.3 468.1L1547.0 515.7L1548.4 567.8L1549.5 445.2L1551.3 550.7L1553.0 485.7L1555.2 541.1L1556.9 495.4L1558.4 548.3L1560.4 464.9" stroke="#0000bf" stroke-width="2.3"/>
<path d="M1045.9 517.6L1047.8 518.6L1049.2 522.8L1051.6 511.9L1053.3 514.9L1054.7 513.6L1056.5 514.8L1058.3 514.1L1060.9 521.9L1063.0 512.9L1064.4 515.4L1066.3 511.3L1069.9 519.9L1073.2 520.5L1074.7 512.3L1076.2 514.8L1077.8 514.2L1080.0 515.3L1082.3 513.5L1083.9 517.5L1085.9 511.5L1087.7 511.2L1089.7 515.1L1092.0 511.3L1093.8 517.2L1095.2 510.9L1096.8 519.9L1098.8 516.2L1100.4 511.7L1102.8 514.9L1104.6 517.9" stroke="#0000df" stroke-width="2.3"/>
<path d="M190.0 513.9L191.6 513.4L193.3 505.7L195.2 513.1L197.2 509.2L198.9 515.8L200.6 508.9L202.8 506.5L206.0 501.9L207.9 509.9L209.3 507.9L211.6 514.2L213.5 513.6L215.5 508.7L217.4 512.2L219.4 503.8L221.2 505.5L223.0 532.9L225.3 511.9L227.5 505.6L229.3 510.1L231.5 511.3L233.4 507.2L235.9 513.1L237.9 521.9L240.6 515.2L242.4 507.6L244.3 511.8L245.8 515.5L247.4 507.3L249.2 510.3L251.7 507.0L253.2 512.1L255.2 509.9L256.8 507.7L259.2 514.8L260.9 505.7L263.3 513.9L265.7 507.1L268.2 511.7L270.6 509.0L272.1 511.2L274.4 507.9L276.0 514.8L277.8 508.3L279.5 511.5L281.8 505.1L284.3 514.9L286.3 506.6L288.1 511.1L290.4 505.4L292.6 513.4L294.3 506.2L296.0 514.8L297.7 503.2L300.2 515.0" stroke="#0000ff" stroke-width="2.3"/>
<path d="M365.8 512.3L367.5 509.3L369.8 497.9L372.6 504.4L374.5 516.2L376.1 509.4L378.6 513.8L381.0 511.2L383.2 512.3L384.7 510.9L386.2 513.8L388.5 510.3L390.8 513.8L393.0 515.2L395.1 509.5L397.2 515.4L399.3 510.5L400.9 510.1L403.2 507.8L405.8 513.4L407.7 507.7L409.3 516.2L410.9 507.5L412.4 512.2L414.1 514.8L415.8 512.0L418.2 513.4L420.3 511.0L422.4 514.3L424.3 515.0L425.8 492.9L428.6 510.4L430.5 510.3L432.5 512.9L434.8 507.2L436.7 508.8L438.8 508.7L441.0 512.4L443.2 515.6L445.0 508.4L447.2 516.0L449.5 505.3L452.0 516.5L453.5 507.3L456.0 512.5L457.8 505.8L459.2 515.8L460.8 511.6L462.4 513.6L464.3 510.6L466.2 508.8L468.8 516.6L470.9 508.1L473.0 512.8L475.1 514.6L477.3 507.7L479.3 512.3L481.0 507.2L483.5 512.0L485.9 510.9L487.7 494.9L490.0 510.4L491.9 516.3L493.7 498.3L495.8 513.5L497.3 506.9L499.8 510.8L502.2 516.0L504.8 510.7L506.4 514.4L508.2 507.4L509.7 512.6L511.9 505.4L513.6 515.4L515.0 511.0L517.6 516.4L520.1 515.4L522.0 513.5L523.6 510.9L526.1 516.1L528.2 510.2L530.6 513.5L532.5 511.1L533.9 517.7L535.6 516.1L537.6 508.5L539.4 515.5L541.3 509.9L543.2 512.4L544.6 514.1L547.6 529.9L549.6 514.6L551.6 487.0L554.4 513.1L556.4 508.4L558.7 508.3L561.1 513.9L563.6 508.1L565.2 515.0L566.7 512.5L568.8 515.4" stroke="#0000ff" stroke-width="2.3"/>
<path d="M570.0 503.2L572.2 519.7L574.3 519.2L575.7 520.9L577.6 501.0L579.6 496.1L581.1 508.8L582.9 518.5L584.3 504.2L585.9 527.2L588.2 511.3L590.4 508.8L592.9 518.7L594.6 509.2L597.0 514.5L599.3 505.4L601.6 520.7L603.4 493.4L605.2 516.7L606.8 504.9L609.0 519.7L610.4 504.2L611.9 510.0L613.4 517.4L615.7 505.3L618.1 518.3L619.9 490.9L621.7 502.0L624.3 511.4L625.8 498.1L628.0 521.2L630.3 508.0L632.9 518.9L635.4 507.6L637.3 517.4L639.7 506.3L642.1 518.9L643.9 488.9L645.9 534.9L648.0 508.7L650.1 516.4L652.5 501.8L654.5 513.1L657.1 507.4L659.1 518.6L660.6 515.9L662.3 506.0L664.1 519.5L666.5 518.4L667.9 502.6" stroke="#0000ff" stroke-width="2.3"/>
<path d="M789.8 508.0L792.2 510.6L794.4 507.7L796.5 513.0L798.6 507.7L800.0 508.4L801.5 512.0L804.0 508.4L806.5 510.6L808.6 507.6L810.2 509.7L812.3 509.0L814.7 511.4L817.0 505.4L819.2 512.8L820.9 508.1L822.3 510.7L824.7 508.7L827.0 511.5L828.7 508.6L830.6 511.4L832.9 509.9L834.7 508.7L836.8 515.0L838.8 511.5L841.1 507.5L843.2 514.3L845.5 511.8L847.7 499.9L849.2 509.5L851.0 510.0L853.5 508.8L855.0 510.4L857.4 508.8L860.0 514.1L861.9 509.0L864.1 513.5L865.8 508.3L867.4 510.9L869.3 508.4L871.9 510.8L873.4 507.5L875.0 511.6L877.4 510.1L879.0 512.0L880.5 512.1L883.0 509.2L884.4 511.4L886.2 513.1L888.0 509.2L890.0 511.1L892.5 509.8L894.7 512.1L896.3 511.8L898.3 510.1L900.5 511.7L902.3 509.2L904.5 515.0L907.0 510.0L908.7 511.8L910.3 511.6L911.8 512.4L913.3 509.7L914.9 508.6L917.1 513.0L919.6 512.4L921.2 512.4L922.7 508.9L924.2 509.3L925.7 512.9L927.7 507.5L929.5 511.6L931.2 509.1L933.2 510.8L935.6 492.9L937.0 510.1L938.4 511.8L940.6 520.9L942.4 508.7L943.8 514.8L946.4 509.0L948.8 512.2" stroke="#0000ff" stroke-width="2.3"/>
<path d="M950.0 507.1L952.6 514.5L954.0 490.9L956.0 527.9L957.3 506.9L959.1 505.8L961.5 513.3L963.0 465.0L965.0 516.9" stroke="#0000ff" stroke-width="2.3"/>
<path d="M1185.8 511.1L1187.2 510.1L1188.8 516.0L1190.8 517.0L1192.2 509.7L1194.2 514.9L1196.7 508.8L1198.4 511.5L1200.0 522.0L1202.6 502.1L1204.1 512.3L1205.7 508.2L1207.4 513.1L1209.7 489.9L1211.4 515.4L1213.6 506.0L1216.0 516.3L1217.5 506.4L1219.0 514.7L1220.8 508.1L1222.9 512.9L1224.6 506.8L1227.0 515.7L1228.6 518.1L1230.5 509.2L1232.5 516.8L1234.1 508.2L1235.7 514.5L1237.5 510.0L1239.7 522.1L1241.2 511.5L1243.5 514.3L1245.3 509.7L1247.3 513.3L1248.8 509.2L1251.2 505.6L1253.1 516.3L1254.8 508.9L1257.4 511.3L1259.6 514.9L1261.5 506.7L1263.0 508.8L1264.9 510.9L1267.2 514.0L1269.6 511.5L1271.6 512.5L1274.0 508.2L1275.6 513.7" stroke="#0020ff" stroke-width="2.3"/>
<path d="M1490.3 513.3L1492.6 518.3L1494.0 514.4L1496.2 518.2L1498.6 513.0L1500.9 519.2L1502.6 514.0L1504.3 518.5L1506.9 510.9L1509.2 518.3L1510.8 514.0L1513.3 515.4L1515.8 511.4L1517.6 515.6L1519.3 513.2L1521.2 514.5L1523.7 517.8L1526.2 513.7L1528.4 518.2L1530.3 512.1L1532.8 516.1L1535.3 514.3" stroke="#0020ff" stroke-width="2.3"/>
<path d="M1552.6 511.7L1553.6 388.1L1554.7 632.1L1555.7 511.7" stroke="#0020ff" stroke-width="2.3"/>
<path d="M1550.5 498.7L1553.0 519.0L1554.7 490.4L1557.0 523.6L1559.1 511.9L1560.6 503.3L1562.3 522.4L1564.4 487.2L1566.7 543.6L1568.4 512.1L1570.4 521.4L1572.9 493.0L1575.0 542.1L1576.9 467.0L1579.3 504.2L1581.2 541.6L1583.6 531.4L1585.7 541.4L1587.4 500.9L1589.2 515.9L1592.1 471.2L1594.1 531.4L1595.4 485.0L1597.8 525.5" stroke="#0020ff" stroke-width="2.3"/>
<path d="M1610.7 509.4L1613.3 518.4L1615.5 519.8L1618.1 509.5L1620.5 519.9L1622.2 513.9L1624.5 519.5L1627.1 508.1L1629.4 510.8L1631.5 509.2L1633.0 519.8L1634.5 511.8L1636.0 515.2L1637.5 511.3L1639.6 508.3L1641.7 518.7L1643.5 511.0L1645.6 508.1L1647.3 515.6L1649.8 508.6L1652.3 522.0L1654.0 508.4L1656.4 517.4L1658.5 509.2L1660.7 525.1L1662.9 520.0L1665.2 512.3L1667.0 510.7L1668.6 519.9L1670.5 514.0L1672.8 517.4L1674.8 519.0L1677.3 513.4L1679.7 519.1L1681.9 508.4L1683.3 513.7L1685.3 524.1L1687.8 514.0L1690.2 516.8L1692.2 510.2L1694.7 517.8L1697.2 512.0L1699.6 520.2L1701.4 516.3L1703.5 513.6L1705.6 517.3L1707.7 511.7L1709.1 518.9L1711.7 509.2" stroke="#0020ff" stroke-width="2.3"/>
<path d="M190.0 507.0L191.6 512.3L194.1 506.3L196.1 506.8L198.1 506.2L199.9 514.7L202.3 510.1L203.9 514.4L206.0 510.8L207.9 507.2L210.4 512.4L211.9 507.1L213.9 514.4L216.3 505.3L218.2 512.7L220.0 506.1L222.5 511.6L224.7 511.0L226.7 507.6L229.1 513.3L231.0 507.0L233.3 512.8L234.9 510.4L237.3 506.4L239.3 511.2L240.8 509.9L242.6 509.0L245.1 512.2L247.3 511.6L248.9 512.7L250.8 507.4L252.7 513.0L254.4 506.6L256.7 514.5L259.1 509.2L261.0 513.2L263.4 513.9L265.9 507.4L268.5 512.2L271.1 509.8L273.4 512.7L275.0 513.3L276.4 507.6L277.9 510.9L279.5 512.0L281.8 506.0L283.7 514.1L285.7 510.1L288.0 513.5L290.5 509.9L292.1 514.4L293.6 510.0L295.3 511.8L297.1 508.3L298.5 514.0L300.2 509.1" stroke="#009fff" stroke-width="2.3"/>
<path d="M545.6 511.9L547.4 518.1L549.9 515.2L552.0 511.4L554.2 518.2L556.6 537.9L557.8 514.1L560.3 510.5L562.0 509.5L563.4 511.4L565.8 516.1L567.7 516.6L569.2 507.6" stroke="#009fff" stroke-width="2.3"/>
<path d="M570.0 505.3L572.0 490.9L574.0 512.8L576.0 536.9L578.1 512.7L579.8 504.8L582.4 525.1L583.9 503.9L586.4 518.6L588.8 507.6L590.5 527.6L592.2 512.1L594.0 518.2L596.2 511.6L598.4 520.9L600.1 502.7L602.5 509.5L604.7 516.9L606.1 518.1L608.1 507.8L609.9 519.4L611.3 517.2L613.4 512.5L615.9 505.0L617.5 520.2L619.5 506.0L621.7 505.4L624.0 513.2L626.1 510.5L628.3 517.3L630.9 505.7L632.7 515.7L634.3 505.5L636.5 512.2L639.0 516.4L640.8 503.2L642.5 510.6L644.9 509.1L646.6 517.4L648.4 517.3L650.6 505.3L652.3 520.2L654.8 509.9L656.6 518.0L658.1 511.2L659.7 515.0L661.8 512.2L663.3 497.2L665.3 515.8L667.2 519.8L669.5 507.7" stroke="#009fff" stroke-width="2.3"/>
<path d="M665.9 506.9L667.8 511.9L669.2 510.8L671.6 511.5L674.0 507.8L676.6 514.8L678.2 509.6L679.8 511.7L681.8 506.9L683.8 512.7L685.7 508.4L688.0 511.7L689.6 509.4L691.7 512.9L693.7 508.6L696.2 514.8L698.5 508.7L700.1 510.6L702.7 514.2L704.5 508.8L706.4 516.3L709.9 503.9L712.7 507.0L714.8 515.7L716.4 507.9L718.0 510.0L719.9 515.1L721.5 509.3L723.1 511.8L724.7 509.5L726.9 514.7L728.7 504.4L731.1 513.4L733.3 513.3L735.1 507.4L737.1 514.0L738.7 508.0L741.8 498.9L743.2 507.0L745.6 514.1L747.1 503.1L749.2 512.4L751.5 515.1L753.0 507.6L754.7 515.4" stroke="#009fff" stroke-width="2.3"/>
<path d="M809.7 514.4L811.2 517.0L813.7 514.2L815.8 517.3L817.3 515.8L818.9 514.2L820.3 515.8L822.3 517.1L824.3 514.2L826.5 516.2L828.4 514.7L830.4 515.7L832.4 514.4L834.9 518.4L836.8 512.1L838.2 516.1L840.8 517.3L842.8 514.4L845.2 515.5" stroke="#009fff" stroke-width="2.3"/>
<path d="M909.6 515.6L911.9 516.3L913.6 516.6L915.2 514.2L917.1 517.2L918.8 516.5L920.8 517.0L923.4 515.8L925.5 515.8L928.1 516.6L930.5 516.4L932.4 514.9L933.9 516.7L936.5 514.6L938.3 518.1L939.8 515.2L941.8 516.6L944.4 519.7L946.8 516.2L949.1 516.6" stroke="#009fff" stroke-width="2.3"/>
<path d="M1371.9 497.7L1373.5 541.7L1376.1 560.5L1378.7 518.0L1381.0 525.9L1383.5 530.0L1386.1 489.6L1387.7 498.9L1390.6 560.5L1392.7 473.3L1394.8 522.0L1396.9 534.4L1398.3 521.8L1400.2 543.7L1402.0 544.9L1404.1 498.2L1406.5 530.5L1409.3 533.5L1410.5 498.9" stroke="#009fff" stroke-width="2.3"/>
<path d="M1558.8 504.8L1560.5 551.0L1562.3 511.1L1564.0 515.1L1565.6 550.2L1568.2 452.5L1570.2 583.3L1572.3 544.2L1574.0 478.9" stroke="#009fff" stroke-width="2.3"/>
<path d="M1610.7 511.1L1612.8 510.7L1614.8 508.3L1616.5 511.6L1618.9 507.0L1620.5 512.4L1622.6 511.0L1624.7 508.0L1627.0 512.9L1629.0 505.9L1630.8 509.5L1633.4 510.3L1635.9 507.9L1638.5 505.8L1640.8 510.6L1643.0 515.3L1645.2 509.0L1647.4 512.7L1649.6 509.6L1651.5 504.2L1653.9 511.4L1655.4 504.0L1656.9 514.1L1658.6 507.6L1661.0 509.6L1663.3 511.5L1665.0 505.2L1666.6 510.5L1668.4 507.0L1670.2 511.7L1671.7 512.5L1674.3 507.9L1675.9 505.8L1677.8 508.0L1680.3 511.4L1682.1 508.0L1683.6 511.4L1685.5 512.3L1687.7 508.7L1689.8 509.2L1692.2 506.0L1694.5 509.5L1696.6 506.4L1698.6 508.3L1700.4 512.7L1702.9 507.5L1704.6 509.6L1706.0 509.2L1708.2 511.5L1710.6 511.7L1712.0 502.1" stroke="#009fff" stroke-width="2.3"/>
<path d="M190.0 508.1L192.2 510.0L194.0 513.5L196.4 508.9L198.9 511.3L201.0 508.7L203.2 514.3L204.9 509.2L207.0 512.0L209.1 511.4L210.6 512.5L212.2 510.7L214.0 513.4L216.6 513.5L218.4 509.4L220.2 509.5L222.1 512.2L224.6 505.6L226.5 512.0L228.8 513.5L231.2 510.6L232.6 510.0L234.5 516.6L235.9 508.3L237.4 513.2L239.7 509.6L241.9 512.3L244.4 509.7L246.5 512.7L248.9 512.7L251.0 514.3L252.8 508.1L254.5 509.1L256.1 513.3L258.1 512.3L260.1 508.6L262.6 512.4L264.5 505.4L266.3 509.7L268.6 509.5L270.1 513.6L272.3 510.7L274.2 508.5L276.0 504.9L277.6 512.3L280.1 508.5L281.8 512.5L284.1 510.2L286.0 512.1L288.2 512.9L290.5 510.2L292.2 508.5L293.8 508.0L296.2 507.9L297.9 510.8L299.5 511.4L301.6 510.1L303.5 511.9L305.9 508.4L308.0 512.0L309.7 508.9" stroke="#00dfff" stroke-width="2.3"/>
<path d="M369.8 508.9L371.4 510.7L373.9 514.8L375.4 503.9L376.9 508.4L379.0 515.5L380.8 510.8L383.2 515.1L385.2 509.5L387.1 512.5L388.7 503.1L390.6 513.4L392.5 509.9L394.1 515.1L396.6 510.2L399.0 516.7L400.8 487.0L402.2 534.9L404.3 510.9L406.3 514.0L408.7 510.7L411.1 513.3L413.0 507.9L415.0 509.3L417.8 493.9L420.6 511.0L422.4 517.6L424.3 509.3L426.4 513.5L428.1 510.7L430.7 512.4L432.1 513.1L433.6 508.7L435.8 512.9L438.1 510.3L440.5 516.6L442.2 505.4" stroke="#00dfff" stroke-width="2.3"/>
<path d="M1105.8 505.0L1107.3 505.1L1108.8 495.9L1111.8 514.0L1114.8 485.0L1117.5 513.9L1119.8 543.9L1122.6 505.8L1123.8 494.9L1126.9 516.4L1128.4 508.6L1130.9 521.5L1132.6 501.3L1133.8 495.9L1136.6 518.6L1138.2 521.3L1139.8 511.9L1141.9 518.3L1144.2 514.1" stroke="#00dfff" stroke-width="2.3"/>
<path d="M1207.7 496.6L1209.8 521.4L1211.4 510.0L1213.1 509.3L1215.7 525.4L1218.2 511.4L1221.7 487.0L1224.2 501.5L1225.7 501.4L1228.0 519.4L1229.7 549.9L1232.7 487.0L1234.3 496.1L1236.2 521.4L1238.3 498.2L1240.4 526.1L1242.3 500.1L1244.7 536.9L1246.5 498.9L1248.3 523.1L1250.3 508.0L1251.7 476.0L1254.4 503.0" stroke="#00dfff" stroke-width="2.3"/>
<path d="M1269.7 507.2L1271.5 505.0L1273.9 497.7L1276.0 509.7L1277.8 504.0L1279.6 513.8L1281.7 506.1L1283.6 509.9L1285.7 503.3L1288.3 512.0L1290.8 514.4L1292.7 508.1L1294.6 514.3L1296.0 511.8L1297.6 497.9L1300.4 508.6L1302.9 514.1L1306.6 522.9L1309.7 504.9L1312.0 512.4L1314.0 504.2L1315.7 511.4L1318.2 513.9L1320.2 504.6L1322.8 512.9L1324.7 507.7L1326.2 512.5L1328.0 506.5L1329.6 510.2" stroke="#00dfff" stroke-width="2.3"/>
<path d="M321.9 510.0L324.0 512.7L325.9 511.0L327.7 509.1L329.2 514.4L330.6 508.6L333.2 513.9L334.8 507.7L336.7 507.8L338.3 511.8L340.3 508.2L342.4 512.6L344.1 512.7L345.8 517.7L348.1 509.8L350.1 512.0L352.5 512.6L354.6 509.7L356.6 511.5L358.9 505.8L361.4 508.7L362.8 511.6L364.7 505.6L366.8 512.3L368.7 507.4L370.3 513.8L372.0 510.3L373.5 511.6L375.4 506.6L377.2 514.2L379.6 510.6L381.8 507.1L383.8 512.7L385.6 509.8L387.8 513.5L389.5 508.1L391.3 512.1L393.4 508.7L395.9 514.2L398.2 510.5L399.9 513.2L401.3 511.5L402.9 510.8L405.3 512.7L407.0 511.1L408.7 509.9L410.4 511.0L412.8 509.7L415.4 511.3L418.0 510.4L419.9 507.7L422.4 510.1L423.9 512.1L426.5 510.2L428.5 513.8L430.0 511.2L431.6 508.2L433.0 514.0L435.0 507.8L437.0 514.3L439.4 507.2L441.4 513.1L444.0 507.7L446.2 511.4L447.8 508.6L450.2 513.9L452.3 508.4L454.0 513.3L455.5 510.9L457.8 513.1L459.2 511.8L461.6 510.3L464.2 512.9L466.2 510.3L468.3 513.7L470.1 512.0L472.4 509.3L474.4 511.8L476.1 509.4L477.9 511.6L479.8 508.6L482.4 509.9L484.7 508.8L486.5 512.7L488.9 508.1L491.5 512.9L493.8 513.8L496.3 509.0L498.4 513.3L500.0 509.9L501.6 513.1L503.2 510.8L504.9 512.2L507.4 509.9L509.1 513.9L510.6 505.0L512.9 512.3L515.2 507.6L516.7 512.8L518.8 507.6L520.7 512.3L522.9 511.0L524.9 511.0L527.3 509.0L529.3 513.1L531.0 508.6L533.3 511.3L535.7 511.9L537.1 507.4L539.5 508.9L541.2 512.2L543.0 510.9L545.4 512.3L547.9 510.2L549.6 511.6L551.5 509.5L553.3 508.9L554.9 512.0L557.3 513.1L559.4 507.5L560.8 513.4L562.2 509.6L564.4 516.7L566.3 509.2L567.8 511.3" stroke="#dfff20" stroke-width="2.3"/>
<path d="M1119.8 514.6L1122.0 516.2L1123.9 516.8L1125.7 515.1L1127.6 518.0L1129.7 515.1L1131.3 514.1L1133.1 518.5L1134.7 514.7L1137.1 516.7L1139.7 515.1L1141.2 516.7L1142.8 514.7L1145.1 516.7L1147.1 516.2L1149.3 512.9" stroke="#dfff20" stroke-width="2.3"/>
<path d="M1226.7 511.9L1227.7 463.0L1228.7 546.9L1229.7 511.9" stroke="#dfff20" stroke-width="2.3"/>
<path d="M1267.7 511.9L1269.1 493.9L1270.1 521.9L1271.1 511.9" stroke="#dfff20" stroke-width="2.3"/>
<path d="M1361.5 527.0L1363.9 494.9L1365.4 523.1L1367.4 476.3L1369.0 538.0L1370.8 524.1L1372.9 542.2L1375.7 444.2L1378.1 569.8L1382.3 460.8L1383.7 517.2L1385.4 551.8L1387.8 483.3L1389.4 540.1L1391.9 474.9L1393.4 520.0L1395.6 488.0L1396.8 484.7L1399.2 547.5L1401.1 509.4L1402.8 538.8" stroke="#dfff20" stroke-width="2.3"/>
<path d="M1403.1 510.6L1405.4 511.4L1406.9 509.8L1409.2 511.8L1410.8 509.0L1412.8 506.0L1414.4 519.3L1416.4 512.7L1418.1 506.9L1420.4 508.8L1422.8 512.5L1424.9 509.9L1426.9 515.2L1429.0 505.3L1431.4 510.8L1433.7 506.2L1435.3 507.0L1437.2 508.4L1438.9 506.8L1441.5 512.2L1442.9 508.4L1444.4 509.0L1445.9 512.3L1447.9 510.1L1449.5 510.9L1451.2 507.8L1453.3 511.9L1455.3 508.4L1457.8 508.1L1460.3 512.9L1462.7 507.0L1464.5 514.1" stroke="#dfff20" stroke-width="2.3"/>
<path d="M529.6 508.0L531.3 515.6L533.2 509.9L534.9 518.9L537.4 506.8L539.6 521.1L541.1 516.6L542.7 512.9L544.8 520.7L546.7 519.5L549.6 529.9L551.5 514.4L553.5 511.7L555.5 515.4L557.7 506.8L559.8 518.6L561.8 508.9L563.3 517.2L565.8 519.7L567.7 511.6" stroke="#ffdf00" stroke-width="2.3"/>
<path d="M665.9 511.2L667.4 510.9L669.3 510.4L670.8 511.8L672.4 510.1L674.4 510.8L676.0 510.5L678.2 511.4L680.1 510.0L681.8 512.3L684.3 510.0L686.2 513.8L687.8 509.6L690.0 511.9L691.6 510.1L694.0 512.3L696.2 512.3L697.8 511.3L700.1 511.8L702.5 509.9L704.3 509.3L706.5 513.1L708.7 509.0L711.2 511.0L713.6 509.6L716.1 510.6L717.5 510.8L719.5 509.7L721.6 512.8L724.0 509.8L725.5 509.6L727.1 511.0L729.2 509.7L731.8 511.4L733.4 510.0L735.6 511.2L737.1 509.6L739.4 509.7L741.8 509.5L743.6 510.4L745.6 508.0L747.2 510.1L749.7 509.8L751.2 510.2L753.7 509.3L755.6 510.2L757.8 509.7L759.2 509.5L761.2 508.9L763.5 507.7L765.4 508.0L767.0 509.8L769.2 508.6L771.4 509.4L773.2 508.4L775.3 508.6L777.0 506.8L778.8 507.7L781.3 508.4L783.6 508.4L785.2 507.1L786.8 508.3L788.7 507.0" stroke="#ffdf00" stroke-width="2.3"/>
<path d="M1327.2 511.9L1327.6 440.0L1328.2 579.9" stroke="#ffdf00" stroke-width="2.3"/>
<path d="M1326.2 449.3L1328.3 404.7L1329.3 579.2L1332.5 388.1L1334.5 588.5L1336.6 388.1L1338.7 634.2L1340.3 421.9L1341.8 436.9L1342.8 594.8L1344.9 484.7L1346.0 560.5L1349.3 572.0L1351.8 471.4L1354.9 569.4L1357.4 481.6L1359.5 544.9L1363.0 458.0L1365.5 551.9L1368.2 599.6L1369.8 453.5L1370.9 530.4" stroke="#ffdf00" stroke-width="2.3"/>
<path d="M1465.4 510.5L1467.6 513.6L1469.1 511.8L1470.7 510.3L1472.5 511.3L1475.0 510.2L1477.1 510.7L1479.0 511.6L1481.3 510.4L1483.3 512.4L1485.8 510.1L1488.0 512.0L1490.1 510.5L1492.2 512.0L1494.5 510.9L1496.0 511.0L1498.3 512.3L1500.7 511.0L1502.3 512.0L1504.0 510.2L1506.6 512.3L1509.1 510.9L1511.6 510.3L1513.3 511.8L1515.2 512.0L1516.7 511.9L1519.1 511.0L1521.0 512.4L1522.9 510.1L1525.0 511.7L1527.0 511.6L1528.9 510.6L1530.9 513.4L1533.3 512.5L1535.4 510.6" stroke="#ffdf00" stroke-width="2.3"/>
<path d="M1550.5 469.1L1552.2 552.2L1553.6 488.5L1555.3 462.2L1557.5 537.8L1558.8 606.2L1559.9 438.0L1562.1 539.2L1563.6 503.7L1565.3 553.7L1567.9 482.8L1570.2 434.8L1572.5 507.8L1574.4 589.6L1576.5 548.8" stroke="#ffdf00" stroke-width="2.3"/>
<path d="M842.7 524.9L844.1 514.9L846.3 506.2L847.7 502.9L849.9 514.4L851.8 508.7L853.9 504.4L855.3 514.2L856.8 510.7L858.5 515.6L860.7 510.0L862.2 518.9L864.2 513.6L866.7 516.4L868.3 511.9L870.0 515.2L871.4 511.6L874.7 522.9" stroke="#ff8000" stroke-width="2.3"/>
<path d="M1652.3 520.2L1654.7 522.7L1657.3 514.1L1659.5 522.7L1661.3 511.5L1662.8 509.9L1664.7 515.3L1667.2 515.6L1669.7 509.6L1671.8 522.5L1673.8 511.9L1675.5 508.8L1677.5 518.5L1679.7 512.6L1682.1 514.9L1683.8 519.8L1685.6 531.3L1687.7 512.6L1689.2 512.8L1691.1 523.4L1693.3 509.7L1695.1 522.1L1696.9 500.2L1698.6 530.1L1700.7 514.3L1702.4 518.8L1704.7 500.5L1706.6 502.4L1708.5 523.8L1710.9 519.4" stroke="#ff8000" stroke-width="2.3"/>
<path d="M190.0 508.8L192.2 508.3L194.4 508.2L196.9 513.7L198.9 505.6L201.4 513.5L203.0 508.7L205.5 513.5L207.1 504.2L209.6 512.4L212.1 506.9L213.9 510.2L215.4 507.9L217.4 509.5L219.8 512.8L222.3 507.8L224.6 510.9L226.7 509.7L229.0 514.2L231.1 508.6L233.5 513.6L235.4 505.7L236.9 510.2L239.4 509.0L241.1 513.0L243.5 507.5L245.0 512.2L246.5 508.0L249.0 511.4L250.8 505.9L253.0 512.7L255.1 509.1L256.7 510.3L259.1 507.3L260.9 510.3L262.9 505.6L264.4 506.5L266.6 512.4L269.1 508.0L270.6 511.4L272.3 508.9L274.5 510.5L276.9 512.4L278.4 506.4L280.3 510.7L281.9 521.9L283.8 505.9L286.0 513.6L287.9 498.9L289.9 517.9L291.9 512.9L293.7 506.7L296.2 514.1L297.8 507.3L299.3 512.8L301.7 507.2L304.3 510.1L305.9 498.9L307.6 511.7L309.9 499.9L312.9 510.6" stroke="#ff6000" stroke-width="2.3"/>
<path d="M950.0 515.4L951.6 508.6L954.0 505.8L955.9 512.3L957.3 504.6L959.0 512.3L961.2 508.5L962.7 519.9L964.0 489.9L965.6 545.9L967.2 514.9L968.9 509.8L971.3 506.0L973.7 515.1L975.9 504.4L978.0 525.9L981.6 511.6L983.5 508.8L985.2 517.2L987.1 504.3L988.7 513.8L990.7 517.6L992.8 497.8L995.1 505.9L996.6 513.4L998.3 506.3L1000.3 520.7L1002.6 510.6" stroke="#ff6000" stroke-width="2.3"/>
<path d="M1105.8 508.1L1107.8 499.7L1109.8 515.5L1111.7 501.2L1113.9 496.1L1115.8 520.9L1117.8 501.1L1119.5 519.4L1121.1 517.1L1123.5 503.3L1124.9 516.9L1127.0 501.9L1128.8 517.0L1130.8 495.9L1133.0 502.7L1135.0 499.3L1137.2 517.1L1139.6 503.5L1141.1 522.7L1143.1 505.6L1144.8 512.7L1147.3 514.0L1149.5 510.3L1151.1 512.0L1153.7 522.5L1156.2 500.0L1158.5 507.2L1160.8 494.9L1163.8 534.9L1165.7 516.1L1167.9 516.6L1169.8 485.0L1171.4 517.0L1173.8 495.7L1175.8 486.0L1178.1 512.5L1180.7 504.4L1183.1 506.0L1185.8 496.9L1187.1 498.0L1189.4 499.8" stroke="#ff6000" stroke-width="2.3"/>
<path d="M1003.9 508.6L1005.5 511.6L1007.8 509.1L1010.1 508.7L1011.6 511.7L1013.7 508.7L1015.4 511.0L1017.4 509.3L1019.5 505.5L1021.2 511.2L1022.6 509.2L1024.7 510.6L1026.4 509.3L1028.7 510.3L1031.3 507.9L1033.4 512.3L1035.8 509.2L1038.3 511.0L1039.8 507.6L1041.2 509.7L1043.9 502.9L1045.9 525.9L1049.0 508.9L1051.1 512.5L1052.7 509.3L1055.2 512.8L1057.4 509.8L1058.8 511.7L1061.3 508.3L1063.8 508.4L1065.5 512.8L1067.2 510.2L1069.5 511.2L1071.1 508.0L1073.5 509.4L1075.7 509.0L1078.1 512.9L1080.6 509.3L1082.0 512.3L1083.4 506.9L1085.1 511.9L1087.7 508.3L1089.9 500.9L1091.8 507.9L1093.9 512.5L1096.3 508.1L1097.8 512.0L1099.3 508.2L1101.5 509.3L1103.3 514.1L1104.9 508.6" stroke="#ff4000" stroke-width="2.3"/>
<path d="M317.9 507.5L320.3 517.5L322.4 511.2L324.1 522.8L326.1 512.7L327.9 504.8L329.3 517.3L331.0 509.6L333.4 520.1L335.6 505.4L337.1 518.4L339.7 505.0L341.5 514.7L343.0 510.0L345.2 510.7L347.5 511.8L349.4 507.2L351.1 518.0L352.8 513.3L354.7 504.3L356.9 518.3L359.0 506.3L360.5 510.1L363.0 515.4L364.9 504.7L366.3 511.8L367.9 518.2L369.6 506.4L371.3 511.6L373.3 508.1L375.5 514.9L377.4 506.1L378.8 515.6L380.3 518.1L382.8 505.8L384.4 516.6L386.6 510.2L388.7 516.6L390.8 516.2L392.7 504.4L395.1 518.4L397.3 504.7L399.8 515.8L401.7 507.5L404.0 512.9L406.3 516.9L408.3 513.0L410.4 509.9L412.7 499.5L414.9 517.3L417.4 510.1L419.9 511.6L422.3 505.8L424.2 515.6L425.7 516.2L427.3 500.7L429.6 515.7L431.4 510.3L433.0 515.0L434.8 508.4L437.7 493.9L438.7 521.9L440.8 506.7L442.8 513.9" stroke="#ff2000" stroke-width="2.3"/>
<path d="M443.7 514.3L473.7 520.9L475.7 507.9" stroke="#ff2000" stroke-width="2.3"/>
<path d="M570.0 509.9L572.1 513.2L573.6 512.4L575.8 510.4L577.3 511.4L579.0 509.6L580.7 516.6L582.9 507.2L585.2 508.9L587.4 511.1L588.8 507.0L591.3 508.6L593.7 508.9L595.5 512.3L597.1 510.5L598.7 509.1L600.3 510.4L602.4 513.3L604.6 509.8L606.6 509.1L609.0 512.3L611.1 511.8L612.7 513.5L615.1 508.3L616.9 510.6L619.0 509.8L620.6 511.0L622.5 507.1L624.9 513.6L627.4 507.5L629.2 513.8L631.1 511.9L632.6 504.9L634.5 511.9L637.0 507.8L639.2 507.8L641.0 511.9L642.9 510.2L645.2 513.5L646.7 510.3L649.2 511.5L650.8 509.3L652.6 513.1L654.6 511.4L657.0 510.0L659.3 509.7L661.8 510.6L663.6 507.7L665.9 498.9" stroke="#ff2000" stroke-width="2.3"/>
<path d="M1378.1 492.0L1380.2 508.8L1382.7 501.0L1385.4 406.8L1386.5 575.0L1389.6 482.6L1390.6 534.5L1392.5 528.3" stroke="#ff2000" stroke-width="2.3"/>
<path d="M1320.0 513.8L1322.0 511.2L1323.6 512.4L1325.5 513.3L1327.8 511.3L1330.1 513.1L1331.8 511.1L1333.5 510.2L1335.9 512.3L1337.5 511.1L1340.0 513.1L1341.4 510.4L1343.0 513.6L1345.2 510.6L1346.9 513.7L1348.9 510.3L1351.4 513.4L1353.5 514.3L1355.1 511.3L1357.2 515.0L1359.5 510.8L1361.0 512.3L1363.1 514.0L1365.1 514.3L1367.5 511.8L1369.3 512.4L1371.0 511.4L1373.4 511.9L1375.6 512.1L1377.7 511.2" stroke="#ff2000" stroke-width="2.3"/>
<path d="M1394.8 512.0L1396.9 508.9L1398.6 511.1L1400.9 508.5L1403.0 510.3L1404.7 508.7L1406.4 511.1L1408.5 506.6L1410.6 511.1L1412.2 509.8L1414.4 508.4L1416.5 511.3L1418.4 509.0L1420.9 511.7L1422.9 507.0L1424.9 508.2L1427.5 510.7L1429.2 508.0L1431.2 510.9L1432.7 508.6L1434.9 509.6L1436.8 513.3L1438.5 509.4L1441.1 509.8L1442.5 510.8L1444.7 508.9L1447.2 510.8L1449.7 509.2L1451.6 510.0L1453.6 510.2L1456.1 508.4L1458.4 510.1L1460.9 508.2L1462.4 510.4L1464.1 509.3L1466.0 511.4L1468.0 509.7L1470.0 510.7L1472.0 511.8L1474.3 509.2L1476.2 511.0L1478.5 508.2L1480.0 508.6L1482.5 510.1L1483.9 508.7L1486.2 512.5L1487.7 510.3" stroke="#ff2000" stroke-width="2.3"/>
<path d="M475.7 506.7L477.7 511.5L479.7 509.6L482.0 511.4L484.6 509.5L487.1 512.6L489.5 509.7L491.8 508.3L493.4 510.3L495.1 507.0L496.6 512.5L498.6 509.4L500.1 508.2L502.2 510.1L504.7 507.5L507.3 513.5L509.6 507.1L511.4 511.0L513.1 512.8L514.5 507.3L516.5 511.3L518.1 509.6L520.3 513.1L522.0 508.9L524.4 507.0L525.9 512.9L528.1 508.7L529.6 512.6L531.8 509.6L533.5 511.0L536.0 505.9L537.4 510.0L540.0 509.3L541.6 506.8L543.4 512.0L545.5 509.3L547.2 512.0L549.4 511.7L550.9 508.8L552.7 511.3L554.9 507.4L556.6 510.3L558.4 511.6L560.0 508.6L562.5 513.6L564.3 515.5L566.0 512.9L567.6 509.8" stroke="#ff0000" stroke-width="2.3"/>
<path d="M1235.7 509.5L1237.4 509.0L1239.8 519.7L1241.7 511.2L1243.5 514.4L1245.2 505.2L1247.8 508.9L1250.2 512.6L1252.6 510.0L1254.8 512.0L1256.8 509.3L1258.4 509.9L1260.6 509.3L1262.8 515.3L1264.9 508.7L1266.6 515.4L1268.5 511.6L1271.0 515.7L1273.3 508.5L1275.0 514.6L1276.9 508.1L1279.2 516.1L1281.2 509.8L1283.1 508.9L1285.3 514.6L1286.8 515.2L1289.3 508.9L1290.7 511.3L1292.8 512.1L1295.1 509.3L1297.3 513.6L1298.8 509.6L1300.3 512.9L1302.4 508.5L1303.9 516.6L1306.0 515.2L1308.2 514.7L1309.8 509.4L1311.9 514.7L1314.1 508.8L1316.6 512.3L1318.8 509.5L1320.7 513.2L1323.3 509.6L1325.5 517.0L1327.1 511.6L1328.9 513.7" stroke="#ff0000" stroke-width="2.3"/>
<path d="M1320.0 509.3L1322.2 511.6L1324.2 510.3L1325.6 511.7L1328.1 509.5L1330.5 511.8L1332.0 509.8L1333.9 512.0L1336.4 512.2L1337.8 509.1L1339.5 512.7L1342.0 509.3L1343.9 511.5L1346.0 510.9L1347.8 515.1L1349.8 510.5L1351.6 512.9L1353.4 509.6L1355.3 512.8L1357.6 510.1L1360.1 512.6L1362.0 510.6L1364.2 511.3L1366.1 515.9L1368.1 511.4L1369.6 510.1L1371.6 512.0L1373.4 510.5L1375.2 513.2L1377.1 509.8" stroke="#bf0000" stroke-width="2.3"/>
<path d="M307.9 504.2L309.9 511.6L311.4 504.6L314.0 517.0L315.8 506.4L317.9 491.9L318.9 531.9L320.7 515.4L322.5 511.8L324.6 503.2L327.1 521.9L328.9 504.9L331.9 497.9L333.6 505.1L335.6 513.5L337.9 506.4L339.7 514.0L341.8 496.9L344.6 510.2L346.9 511.7L349.4 509.1L351.9 513.8L354.4 510.2L356.3 515.8L358.8 508.8L360.9 510.6L363.4 515.5L365.9 510.4L368.2 507.5L369.6 519.4L372.2 510.4L374.3 508.8L375.7 515.0L378.1 503.8L380.0 513.1L382.4 509.0L384.0 515.3L386.6 511.5L389.1 516.5L391.0 504.7L393.3 513.9L395.1 505.5L396.6 515.8L399.0 506.1L400.4 516.0L401.9 509.5L404.3 512.3L406.2 507.1L407.7 515.7L410.1 505.8L412.0 513.7L414.4 506.7L417.0 512.6L419.0 509.6L420.9 520.8L422.5 510.4L424.2 513.7L425.6 509.7L427.9 514.7L430.4 506.7L432.7 505.9L435.1 516.9L436.9 509.2L438.7 516.9L440.7 510.5L442.6 506.1L444.5 508.5L447.1 516.4L449.6 520.6L452.1 514.6L454.6 512.9L456.5 510.5L458.4 513.8L460.5 509.7L462.3 511.9L464.3 507.7L466.6 522.5L469.1 509.3L470.9 514.3L473.2 511.6L475.2 510.2L477.4 512.2L479.0 504.9L481.0 517.2L482.6 507.7L484.4 511.1L486.5 508.2L488.2 514.1L489.7 506.3L492.1 517.5L493.7 509.5L495.1 516.0L496.7 512.4L499.3 504.3L501.8 507.5L503.3 508.5L504.8 513.9L507.3 507.7L509.5 516.9L511.1 509.1L513.3 517.4L515.8 506.5L517.6 510.5L519.6 515.9L521.9 509.8L524.0 516.5L526.1 508.4L528.4 511.5L530.3 508.2L532.1 508.5L534.1 515.5L535.9 515.3L538.0 509.2L540.1 517.2L542.5 506.7L544.5 514.4L545.9 511.9L548.5 510.5L550.1 504.9L552.3 511.5L553.9 507.2L556.4 515.9L558.0 513.8L560.1 509.3L562.3 512.0L564.7 503.2L567.3 510.4L569.4 514.3" stroke="#9f0000" stroke-width="2.3"/>
<path d="M713.8 508.8L715.8 505.9L717.9 517.0L719.8 499.9L721.8 519.9L723.3 522.1L725.5 511.6L727.4 520.0L730.8 524.9L733.8 511.6L735.8 503.9L738.0 504.2L740.0 513.4L741.7 506.0L743.8 522.9L745.9 509.5L748.1 517.0L750.8 505.9L753.0 506.6L755.4 512.5L757.8 518.9L759.8 518.9L761.6 507.6L763.7 513.3L766.1 510.0L767.7 515.1L770.2 509.9L771.9 513.6L774.2 511.4L776.2 511.6L778.1 514.1L780.4 511.9L782.7 512.9L784.8 510.0L786.6 512.8L789.8 488.9L791.2 512.1L792.8 527.9L795.8 513.1L797.8 511.2L799.8 511.2L801.8 513.3L803.5 509.7L806.0 510.2L807.9 512.5L809.6 508.9L811.2 511.6L812.9 513.0L815.2 511.6L816.7 510.7L818.3 512.3L820.6 511.8L822.1 516.4L824.6 510.9L826.9 513.3L828.6 515.4L831.2 510.6L832.7 512.5L835.3 511.3L837.4 513.9L839.4 510.8L841.0 511.9L843.6 513.2L845.2 514.1L847.0 511.6L849.4 515.8L850.9 510.7L852.5 512.1L854.6 511.1L856.7 512.4L859.0 510.5L861.4 512.0L863.1 513.1L864.7 509.4L866.3 513.9L868.0 508.0L870.6 511.3L872.3 513.2L873.9 510.3L875.8 512.7L877.8 511.9L879.5 513.4L881.0 512.1L883.0 513.1L885.0 510.6L887.4 512.2L889.1 510.0L891.1 513.6L892.8 509.6L895.1 512.3L896.9 513.5L899.1 511.8L901.7 511.9L903.5 508.7L905.0 511.3L906.4 512.7L908.4 511.8L910.4 512.2L912.9 511.6L915.3 513.9L917.0 510.0L918.8 512.7L920.3 510.1L922.1 509.9L923.5 510.5L925.4 510.4L927.6 511.9L929.9 512.4L931.4 510.5L933.7 512.6L935.5 511.6L937.1 512.6L939.6 512.5L942.1 511.0L944.1 511.7L945.5 512.7L947.6 510.8" stroke="#9f0000" stroke-width="2.3"/>
<path d="M950.0 509.1L951.8 505.3L953.6 510.1L956.0 508.1L958.5 513.0L960.3 508.8L962.1 510.6L964.2 508.3L965.6 509.7L968.0 507.8L970.4 511.4L972.9 507.0L974.4 512.0L975.9 506.0L977.5 509.4L979.6 505.1L982.1 510.5L984.6 506.3L986.6 510.2L988.5 507.7L990.3 506.4L992.6 511.7L994.9 507.6L997.1 507.7L999.9 500.9L1001.7 507.8" stroke="#9f0000" stroke-width="2.3"/>
<path d="M1149.8 510.6L1151.4 507.8L1153.6 502.9L1155.2 518.7L1157.2 511.5L1159.1 523.6L1160.5 507.1L1163.1 515.2L1165.3 499.1L1166.9 517.9L1168.5 511.7L1170.5 512.8L1171.8 537.9L1174.3 522.5L1176.8 506.2L1178.2 505.3L1180.4 522.8L1181.9 507.5L1184.4 518.7L1186.9 509.4L1188.6 528.7L1191.2 513.8L1193.7 508.1L1195.8 510.2L1197.6 515.4L1199.4 511.1L1201.6 514.2L1203.6 511.0L1205.0 511.5L1207.5 514.8L1209.9 509.3L1211.4 514.9L1213.4 511.7L1215.3 513.5L1217.4 511.2L1219.1 513.1L1221.4 511.8L1223.5 514.9L1225.6 511.3L1227.3 515.8L1229.0 509.8L1230.4 513.4L1232.6 509.5L1234.3 512.4L1235.9 510.9L1237.9 509.1L1239.5 512.8L1241.5 513.4L1243.6 511.7L1246.0 516.8L1247.4 509.6L1248.9 510.6L1251.5 514.6L1254.0 514.5L1256.6 514.1L1258.5 511.3L1260.9 518.5L1262.8 510.0L1264.7 512.7L1267.2 511.3L1269.8 512.3L1271.2 510.1L1273.4 511.6L1275.0 512.4L1277.2 513.6L1279.5 510.0L1281.4 516.3L1283.1 513.2L1284.9 511.4L1287.1 516.3L1288.5 509.2L1290.9 513.1L1292.7 512.1L1294.3 512.8L1296.8 510.9L1298.5 514.0L1300.4 513.3L1302.2 511.2L1303.8 513.5L1305.9 508.4L1307.8 515.6L1309.3 512.1L1311.6 514.9L1313.6 514.0L1315.9 513.4L1317.4 511.2L1320.0 514.5L1321.9 509.6L1324.5 514.9L1326.1 511.0L1328.2 509.7" stroke="#9f0000" stroke-width="2.3"/>
<path d="M1537.0 511.7L1538.1 388.1L1539.1 634.2L1540.1 511.7" stroke="#9f0000" stroke-width="2.3"/>
<path d="M1536.0 514.5L1537.8 538.6L1539.3 523.6L1541.2 564.6L1545.3 484.7L1548.6 510.1L1550.0 525.3L1551.6 495.6L1553.6 527.5L1555.1 486.1L1556.7 534.4L1558.1 508.8L1560.6 515.8L1563.1 495.2L1565.3 535.9L1568.2 473.3L1569.2 544.9L1571.2 510.6L1573.3 493.5L1574.8 515.0L1576.4 492.2L1578.3 537.1L1580.7 508.9L1583.0 533.1L1584.6 490.2L1586.4 471.2L1587.9 554.3L1589.3 496.0L1591.1 508.5L1593.5 535.1L1595.2 495.5L1597.5 526.5L1599.6 514.2L1602.1 505.3L1603.5 480.5L1606.6 556.3L1608.1 516.4L1610.5 518.2" stroke="#9f0000" stroke-width="2.3"/>
<path d="M1610.7 511.3L1612.2 516.8L1614.7 508.8L1616.5 518.0L1618.4 506.4L1620.7 507.7L1622.2 512.8L1623.8 507.8L1626.2 516.9L1628.0 523.3L1630.4 509.0L1632.0 517.7L1634.2 507.1L1635.7 515.5L1637.4 507.3L1639.9 519.3L1641.9 509.3L1643.8 517.1L1645.6 508.9L1647.4 516.1L1649.1 508.8L1651.7 519.0L1653.2 507.6L1654.7 514.7L1657.0 508.0L1658.5 512.6L1660.9 519.6L1662.4 504.9L1664.4 518.1L1666.5 507.3L1668.2 514.8L1670.2 519.0L1672.2 514.3L1673.6 509.5L1675.4 516.4L1677.0 508.9L1678.9 520.6L1680.5 505.8L1682.8 526.0L1685.1 507.4L1687.0 516.4L1689.3 517.1L1691.7 505.4L1693.5 516.1L1696.0 513.9L1698.4 508.9L1700.3 512.9L1702.0 507.5L1704.2 518.2L1706.1 509.1L1707.7 513.4L1709.2 508.8L1711.5 513.6" stroke="#9f0000" stroke-width="2.3"/>
</g>
<rect x="190.5" y="387.5" width="1521" height="247.9" stroke="#262626" stroke-width="4.2" fill="none"/>
<text class="tk" transform="translate(179.2,613.4) scale(1,1.06)" text-anchor="end">-4</text>
<text class="tk" transform="translate(179.2,568.32) scale(1,1.06)" text-anchor="end">-2</text>
<text class="tk" transform="translate(179.2,523.25) scale(1,1.06)" text-anchor="end">0</text>
<text class="tk" transform="translate(179.2,478.18) scale(1,1.06)" text-anchor="end">2</text>
<text class="tk" transform="translate(179.2,433.1) scale(1,1.06)" text-anchor="end">4</text>
</g>
<g>
<path d="M253.88 641.6V889.4M317.25 641.6V889.4M380.62 641.6V889.4M444 641.6V889.4M507.38 641.6V889.4M570.75 641.6V889.4M634.12 641.6V889.4M697.5 641.6V889.4M760.88 641.6V889.4M824.25 641.6V889.4M887.62 641.6V889.4M951 641.6V889.4M1014.38 641.6V889.4M1077.75 641.6V889.4M1141.12 641.6V889.4M1204.5 641.6V889.4M1267.88 641.6V889.4M1331.25 641.6V889.4M1394.62 641.6V889.4M1458 641.6V889.4M1521.38 641.6V889.4M1584.75 641.6V889.4M1648.12 641.6V889.4" stroke="#262626" stroke-opacity="0.15" stroke-width="4.2" fill="none"/>
<path d="M190.5 848.1H1711.5M190.5 806.8H1711.5M190.5 724.2H1711.5" stroke="#262626" stroke-opacity="0.15" stroke-width="4.2" fill="none"/>
<path d="M190.5 641.6v17M190.5 889.4v-17M201.06 641.6v9M201.06 889.4v-9M211.62 641.6v9M211.62 889.4v-9M222.19 641.6v9M222.19 889.4v-9M232.75 641.6v9M232.75 889.4v-9M243.31 641.6v9M243.31 889.4v-9M253.88 641.6v17M253.88 889.4v-17M264.44 641.6v9M264.44 889.4v-9M275 641.6v9M275 889.4v-9M285.56 641.6v9M285.56 889.4v-9M296.12 641.6v9M296.12 889.4v-9M306.69 641.6v9M306.69 889.4v-9M317.25 641.6v17M317.25 889.4v-17M327.81 641.6v9M327.81 889.4v-9M338.38 641.6v9M338.38 889.4v-9M348.94 641.6v9M348.94 889.4v-9M359.5 641.6v9M359.5 889.4v-9M370.06 641.6v9M370.06 889.4v-9M380.62 641.6v17M380.62 889.4v-17M391.19 641.6v9M391.19 889.4v-9M401.75 641.6v9M401.75 889.4v-9M412.31 641.6v9M412.31 889.4v-9M422.88 641.6v9M422.88 889.4v-9M433.44 641.6v9M433.44 889.4v-9M444 641.6v17M444 889.4v-17M454.56 641.6v9M454.56 889.4v-9M465.12 641.6v9M465.12 889.4v-9M475.69 641.6v9M475.69 889.4v-9M486.25 641.6v9M486.25 889.4v-9M496.81 641.6v9M496.81 889.4v-9M507.38 641.6v17M507.38 889.4v-17M517.94 641.6v9M517.94 889.4v-9M528.5 641.6v9M528.5 889.4v-9M539.06 641.6v9M539.06 889.4v-9M549.62 641.6v9M549.62 889.4v-9M560.19 641.6v9M560.19 889.4v-9M570.75 641.6v17M570.75 889.4v-17M581.31 641.6v9M581.31 889.4v-9M591.88 641.6v9M591.88 889.4v-9M602.44 641.6v9M602.44 889.4v-9M613 641.6v9M613 889.4v-9M623.56 641.6v9M623.56 889.4v-9M634.12 641.6v17M634.12 889.4v-17M644.69 641.6v9M644.69 889.4v-9M655.25 641.6v9M655.25 889.4v-9M665.81 641.6v9M665.81 889.4v-9M676.38 641.6v9M676.38 889.4v-9M686.94 641.6v9M686.94 889.4v-9M697.5 641.6v17M697.5 889.4v-17M708.06 641.6v9M708.06 889.4v-9M718.62 641.6v9M718.62 889.4v-9M729.19 641.6v9M729.19 889.4v-9M739.75 641.6v9M739.75 889.4v-9M750.31 641.6v9M750.31 889.4v-9M760.88 641.6v17M760.88 889.4v-17M771.44 641.6v9M771.44 889.4v-9M782 641.6v9M782 889.4v-9M792.56 641.6v9M792.56 889.4v-9M803.12 641.6v9M803.12 889.4v-9M813.69 641.6v9M813.69 889.4v-9M824.25 641.6v17M824.25 889.4v-17M834.81 641.6v9M834.81 889.4v-9M845.38 641.6v9M845.38 889.4v-9M855.94 641.6v9M855.94 889.4v-9M866.5 641.6v9M866.5 889.4v-9M877.06 641.6v9M877.06 889.4v-9M887.62 641.6v17M887.62 889.4v-17M898.19 641.6v9M898.19 889.4v-9M908.75 641.6v9M908.75 889.4v-9M919.31 641.6v9M919.31 889.4v-9M929.88 641.6v9M929.88 889.4v-9M940.44 641.6v9M940.44 889.4v-9M951 641.6v17M951 889.4v-17M961.56 641.6v9M961.56 889.4v-9M972.12 641.6v9M972.12 889.4v-9M982.69 641.6v9M982.69 889.4v-9M993.25 641.6v9M993.25 889.4v-9M1003.81 641.6v9M1003.81 889.4v-9M1014.38 641.6v17M1014.38 889.4v-17M1024.94 641.6v9M1024.94 889.4v-9M1035.5 641.6v9M1035.5 889.4v-9M1046.06 641.6v9M1046.06 889.4v-9M1056.62 641.6v9M1056.62 889.4v-9M1067.19 641.6v9M1067.19 889.4v-9M1077.75 641.6v17M1077.75 889.4v-17M1088.31 641.6v9M1088.31 889.4v-9M1098.88 641.6v9M1098.88 889.4v-9M1109.44 641.6v9M1109.44 889.4v-9M1120 641.6v9M1120 889.4v-9M1130.56 641.6v9M1130.56 889.4v-9M1141.12 641.6v17M1141.12 889.4v-17M1151.69 641.6v9M1151.69 889.4v-9M1162.25 641.6v9M1162.25 889.4v-9M1172.81 641.6v9M1172.81 889.4v-9M1183.38 641.6v9M1183.38 889.4v-9M1193.94 641.6v9M1193.94 889.4v-9M1204.5 641.6v17M1204.5 889.4v-17M1215.06 641.6v9M1215.06 889.4v-9M1225.62 641.6v9M1225.62 889.4v-9M1236.19 641.6v9M1236.19 889.4v-9M1246.75 641.6v9M1246.75 889.4v-9M1257.31 641.6v9M1257.31 889.4v-9M1267.88 641.6v17M1267.88 889.4v-17M1278.44 641.6v9M1278.44 889.4v-9M1289 641.6v9M1289 889.4v-9M1299.56 641.6v9M1299.56 889.4v-9M1310.12 641.6v9M1310.12 889.4v-9M1320.69 641.6v9M1320.69 889.4v-9M1331.25 641.6v17M1331.25 889.4v-17M1341.81 641.6v9M1341.81 889.4v-9M1352.38 641.6v9M1352.38 889.4v-9M1362.94 641.6v9M1362.94 889.4v-9M1373.5 641.6v9M1373.5 889.4v-9M1384.06 641.6v9M1384.06 889.4v-9M1394.62 641.6v17M1394.62 889.4v-17M1405.19 641.6v9M1405.19 889.4v-9M1415.75 641.6v9M1415.75 889.4v-9M1426.31 641.6v9M1426.31 889.4v-9M1436.88 641.6v9M1436.88 889.4v-9M1447.44 641.6v9M1447.44 889.4v-9M1458 641.6v17M1458 889.4v-17M1468.56 641.6v9M1468.56 889.4v-9M1479.12 641.6v9M1479.12 889.4v-9M1489.69 641.6v9M1489.69 889.4v-9M1500.25 641.6v9M1500.25 889.4v-9M1510.81 641.6v9M1510.81 889.4v-9M1521.38 641.6v17M1521.38 889.4v-17M1531.94 641.6v9M1531.94 889.4v-9M1542.5 641.6v9M1542.5 889.4v-9M1553.06 641.6v9M1553.06 889.4v-9M1563.62 641.6v9M1563.62 889.4v-9M1574.19 641.6v9M1574.19 889.4v-9M1584.75 641.6v17M1584.75 889.4v-17M1595.31 641.6v9M1595.31 889.4v-9M1605.88 641.6v9M1605.88 889.4v-9M1616.44 641.6v9M1616.44 889.4v-9M1627 641.6v9M1627 889.4v-9M1637.56 641.6v9M1637.56 889.4v-9M1648.12 641.6v17M1648.12 889.4v-17M1658.69 641.6v9M1658.69 889.4v-9M1669.25 641.6v9M1669.25 889.4v-9M1679.81 641.6v9M1679.81 889.4v-9M1690.38 641.6v9M1690.38 889.4v-9M1700.94 641.6v9M1700.94 889.4v-9M1711.5 641.6v17M1711.5 889.4v-17M190.5 889.4h17M1711.5 889.4h-17M190.5 848.1h17M1711.5 848.1h-17M190.5 806.8h17M1711.5 806.8h-17M190.5 724.2h17M1711.5 724.2h-17M190.5 881.14h9M1711.5 881.14h-9M190.5 872.88h9M1711.5 872.88h-9M190.5 864.62h9M1711.5 864.62h-9M190.5 856.36h9M1711.5 856.36h-9M190.5 839.84h9M1711.5 839.84h-9M190.5 831.58h9M1711.5 831.58h-9M190.5 823.32h9M1711.5 823.32h-9M190.5 815.06h9M1711.5 815.06h-9M190.5 786.15h9M1711.5 786.15h-9M190.5 765.5h9M1711.5 765.5h-9M190.5 744.85h9M1711.5 744.85h-9M190.5 703.55h9M1711.5 703.55h-9M190.5 682.9h9M1711.5 682.9h-9M190.5 662.25h9M1711.5 662.25h-9M190.5 641.6h9M1711.5 641.6h-9" stroke="#262626" stroke-width="4.2" fill="none"/>
<clipPath id="c_s4"><rect x="190.5" y="641.6" width="1521" height="247.8"/></clipPath>
<g clip-path="url(#c_s4)" fill="none" stroke-linejoin="round" stroke-linecap="round">
<path d="M610.0 856.9L613.0 761.0L614.1 832.9L617.0 764.0L618.9 789.9L620.1 837.0L621.7 858.4L623.9 807.9L625.0 859.1L626.4 841.1L628.3 846.1L629.6 859.0L631.1 844.6L632.6 850.9" stroke="#0000bf" stroke-width="2.3"/>
<path d="M633.9 871.3L635.7 879.8L637.1 872.9L638.4 878.7L640.1 874.1L641.6 876.2L642.9 875.3L644.6 875.2L646.7 878.2L648.1 872.9L650.0 877.8L651.5 879.6L652.6 873.4L653.9 877.6L656.1 873.4L657.4 879.6L658.8 879.1L660.6 873.6L662.1 877.8L664.1 870.2L665.6 871.9L667.7 871.4L669.8 873.9L671.3 878.7L672.6 879.2L673.9 873.5L676.1 877.4L678.0 870.8L679.5 872.7L681.5 879.8L683.6 879.2L684.8 874.7L686.9 878.4L688.8 876.5" stroke="#0000bf" stroke-width="2.3"/>
<path d="M937.6 837.4L938.9 855.2L940.8 844.3L942.1 836.8L944.0 858.3L946.0 856.0L947.7 844.7L949.0 858.6" stroke="#0000bf" stroke-width="2.3"/>
<path d="M1077.9 855.6L1079.5 861.0L1081.9 828.9L1083.2 866.0L1085.9 839.9L1087.0 850.2L1088.4 863.3L1089.9 861.4L1092.1 873.5L1093.9 867.8L1096.1 851.7L1098.2 873.3L1099.9 857.3L1101.4 868.7L1102.8 863.1L1105.8 847.9L1108.2 865.0" stroke="#0000bf" stroke-width="2.3"/>
<path d="M1159.8 872.1L1161.5 865.2L1162.8 855.1L1165.0 848.3L1166.8 866.9L1168.2 858.0L1169.7 851.5L1171.8 833.9L1173.4 860.2L1174.8 844.4L1176.2 862.3L1177.7 857.7L1178.8 835.9L1181.1 845.9L1183.3 847.4L1185.1 844.1L1186.3 838.0L1188.1 873.0L1189.7 839.9L1191.8 866.5L1193.0 847.7L1195.2 872.6L1197.1 870.7" stroke="#0000bf" stroke-width="2.3"/>
<path d="M1215.7 838.9L1217.4 867.3L1218.9 856.6L1220.1 868.6L1221.8 867.8L1223.1 865.5L1225.2 871.0L1226.7 853.0L1229.7 818.9L1231.3 853.6L1233.7 840.9L1235.1 860.8L1236.7 864.6L1238.6 862.7L1239.8 871.5L1242.7 826.9L1244.9 856.9L1246.8 869.7L1248.3 871.2L1249.7 825.9L1251.1 767.9L1252.5 842.1L1253.7 841.9" stroke="#0000bf" stroke-width="2.3"/>
<path d="M1459.5 877.2L1461.0 874.8L1462.9 877.2L1464.6 875.1L1465.9 876.7L1467.4 879.4L1469.5 875.1L1470.7 879.7L1473.7 864.7L1475.9 879.7L1477.5 870.8L1479.0 874.2L1480.2 877.4L1481.8 872.4L1483.4 870.1L1484.9 875.2L1486.6 876.6L1488.1 877.7L1490.0 878.9L1491.3 876.3L1493.5 875.3L1495.1 879.3L1496.8 870.3L1498.8 878.9L1500.1 872.3L1501.5 872.1L1503.3 875.7L1505.4 879.6L1507.4 879.8L1509.3 878.3L1511.2 878.7L1512.5 876.9L1513.7 871.7L1515.6 879.5L1516.9 877.3L1518.2 876.2L1519.8 876.9L1521.5 877.7L1523.4 871.0L1525.3 879.9L1526.9 870.1L1528.5 878.5L1529.9 879.1L1531.4 876.0" stroke="#0000bf" stroke-width="2.3"/>
<path d="M689.9 881.7L691.4 881.0L693.4 882.1L695.1 879.5L697.1 880.9L698.8 879.8L700.7 882.2L701.9 879.2L703.8 880.3L705.1 882.2L706.9 876.5L708.6 876.1L710.1 881.9L711.3 879.6L713.5 881.9L715.1 881.8L716.9 878.5L718.7 879.4L720.8 878.4L722.6 879.2L724.6 882.1L725.9 879.5L727.7 881.3L729.0 880.9L730.5 881.4L731.8 879.3L733.5 875.7L734.7 874.6L736.0 880.4L737.6 878.1L739.1 881.2L740.9 877.4L742.3 873.9L743.6 878.3L745.6 881.8L747.3 875.1L749.0 878.3L750.6 882.1L752.6 879.9L754.4 881.6L756.2 878.9L758.3 873.9L760.0 882.2L761.3 881.1L763.2 877.7L764.8 879.0L766.8 880.8L768.7 879.9L770.3 876.5L771.5 879.4L772.8 882.2L774.3 881.3L775.9 882.0L778.0 874.1L779.6 880.6L781.3 875.9L783.1 879.6L784.8 882.2L786.7 881.7L788.3 880.6L790.4 880.1L792.5 876.0L794.2 878.0L795.9 882.2L797.9 878.7L800.0 876.6L801.3 876.8L802.5 882.2L804.4 879.2L805.8 876.3L808.0 878.5L810.0 879.1L812.0 881.5L813.2 877.8L815.2 878.5L816.7 881.6L818.1 882.2L819.7 879.8L821.8 875.2L823.7 876.5L825.5 874.2L826.8 876.5L828.9 877.0L830.6 874.4L832.0 882.1L833.7 877.6L835.0 880.1L837.1 875.1L839.0 879.4L841.2 875.6L842.7 882.2L844.6 881.8L846.7 880.0L848.4 875.1L849.8 878.0L851.4 882.2L853.0 877.7L854.6 876.7L856.0 875.3L858.0 880.3L859.2 880.3L861.1 877.5L862.8 881.1L864.5 881.4L866.7 875.0L868.6 880.8L870.3 878.6L872.1 882.0L874.2 881.4L876.3 878.7L878.2 881.6L880.0 877.5L881.9 882.1L883.2 876.1L884.6 879.4L886.8 880.3L888.7 882.2L890.8 882.0L892.4 880.2L893.6 876.5L895.8 882.1L897.4 882.1L899.2 881.3L900.8 880.0L902.1 875.9L903.9 878.5L906.0 882.1L907.9 877.3L909.2 879.6L910.7 879.5L912.6 882.2L914.4 879.6L916.3 880.3L918.4 881.5L919.9 876.8L921.7 876.7L923.0 882.2L924.9 880.3L926.6 881.7L928.6 876.6L930.1 881.2L931.3 877.8L933.5 875.5L934.7 878.1L936.2 876.9L938.0 875.3L939.9 880.7L941.6 875.8L942.9 881.2L944.7 874.2L946.4 874.4L947.9 882.3" stroke="#0000bf" stroke-width="2.3"/>
<path d="M190.0 880.5L191.4 882.2L193.2 878.1L195.4 878.1L196.8 882.2L198.7 880.9L200.7 879.7L202.5 878.3L204.2 880.4L206.3 878.8L207.9 880.2L209.3 881.1L211.0 879.0L212.4 882.1L214.4 882.2L215.9 878.0L217.8 882.0L219.1 881.4L220.9 881.5L222.9 879.7L225.0 879.4L226.6 881.8L227.9 881.0L229.6 878.8L230.9 882.2L233.1 880.8L234.3 882.0L235.5 880.2L236.8 882.2L238.3 881.7L240.3 878.3L241.5 882.2L243.6 880.8L245.0 878.6L246.4 880.7L247.8 882.2L249.6 882.1L250.9 878.2L252.3 880.1L253.8 882.2L255.7 877.9L257.8 882.2L259.9 879.2L262.0 881.7L263.3 881.7L265.1 879.7L266.4 878.6L267.6 882.2L269.4 878.4L271.6 882.1L273.6 878.5L275.5 881.7L277.5 880.9L279.7 881.4L281.9 879.0L283.8 881.9L285.9 882.2L288.1 880.0L289.6 879.3L291.4 882.1L293.2 880.7L295.3 881.5L296.9 878.2L298.6 882.0L300.4 879.8L301.9 878.2L303.3 879.7L305.2 878.6L307.0 880.0L309.0 880.7" stroke="#0000df" stroke-width="2.3"/>
<path d="M623.9 861.7L625.9 864.3L628.1 865.4L629.5 780.0L631.0 859.0L633.2 866.8" stroke="#0000df" stroke-width="2.3"/>
<path d="M1659.9 836.2L1662.0 823.2L1663.4 833.4L1664.7 839.9L1666.5 839.0L1668.4 828.1L1669.7 784.8L1671.8 842.5L1673.8 829.4L1675.8 846.4L1677.4 838.6" stroke="#0000df" stroke-width="2.3"/>
<path d="M309.9 879.4L311.2 880.5L313.0 880.1L314.9 877.2L316.9 880.3L318.6 880.4L320.2 880.9L322.0 878.3L323.4 877.1L325.5 881.4L327.7 879.3L329.3 878.1L331.3 877.1L333.0 879.3L335.2 879.7L336.6 880.7L337.9 878.5L339.4 879.6L341.4 881.1L342.7 878.0L344.8 881.4L346.6 877.2L348.5 881.1L350.2 880.6L351.6 881.0L353.4 881.0L355.3 878.0L357.5 880.4L359.3 881.3L361.4 881.4L362.9 877.8L364.7 879.7L366.0 877.9L367.3 880.9L369.0 878.9L371.0 877.1L372.6 881.4L374.0 879.4L375.4 876.7L377.4 880.7L378.8 881.3L380.4 880.9L382.1 878.6L384.2 878.3L386.4 881.4L388.3 881.3L389.9 880.9L391.4 879.9L393.5 881.4L395.3 876.7L396.5 881.0L397.9 876.8L399.8 877.6L401.8 878.8L403.0 881.0L404.9 877.0L406.6 880.3L408.4 881.4L409.6 878.3L411.0 880.2L412.4 880.9L413.8 878.7L415.7 880.7L417.3 878.3L419.0 877.2L421.2 879.2L423.4 881.4L424.6 878.7L426.4 881.0L428.0 881.5L429.2 880.9L431.4 881.4L433.1 881.5L434.4 881.0L436.0 877.7L438.2 879.4L439.9 878.0L441.2 877.2L443.3 881.4L444.6 879.6L446.4 880.1L448.3 880.8L450.3 879.4L451.6 880.8L453.6 881.4L455.3 880.7L456.9 879.2L458.8 881.2L460.5 881.2L462.3 880.1L464.3 880.1L466.3 880.2L467.9 880.3L470.1 880.5L471.9 879.9L473.7 881.4L475.1 878.9L477.2 880.4L478.5 876.5L480.2 879.0L482.1 881.3L483.6 881.4L485.1 879.7L487.1 877.4L488.4 879.3L490.5 881.3L491.8 879.0L493.9 877.1L496.0 879.1L497.3 880.3L498.7 880.4L500.1 881.0L501.4 878.1L502.6 881.2L504.2 877.4L506.4 879.8L508.5 880.2L510.6 880.1L512.3 880.3L513.5 877.8L515.5 878.9L516.7 881.4L518.9 879.1L520.6 878.9L522.1 881.4L524.2 879.7L525.8 879.8L527.2 881.2L529.0 880.9L531.2 881.4L532.5 880.1L533.8 881.3L535.1 880.8L536.6 881.0L538.1 880.4L540.3 881.4L542.3 881.0L544.0 881.4L546.1 877.8L547.6 880.9L549.1 879.7L550.8 876.8L552.2 876.4L554.0 879.7L555.5 881.2L557.2 879.7L559.0 880.5L560.2 878.9L562.1 878.3L564.0 878.8L566.0 880.7L567.4 878.3L568.6 880.3" stroke="#0000df" stroke-width="2.3"/>
<path d="M458.7 861.3L460.9 853.6L462.9 859.6L465.1 859.0L466.5 855.1L468.5 853.8L470.6 861.9L472.6 852.3L474.8 852.4L476.8 861.9L478.6 856.5" stroke="#0000ff" stroke-width="2.3"/>
<path d="M529.6 874.7L531.0 877.2L532.6 875.7L534.4 868.1L536.4 877.6L538.4 872.9L539.9 877.7L541.2 872.4L543.3 871.5L545.2 868.5L546.8 870.2L549.0 877.3L550.9 874.7L552.5 872.5L554.5 871.2L556.1 876.5L558.2 877.9L559.4 872.7L561.6 863.9L563.3 871.4L565.1 874.5L566.9 873.5L568.5 868.9" stroke="#0000ff" stroke-width="2.3"/>
<path d="M570.0 870.6L571.8 872.9L573.2 873.2L574.4 875.4L576.1 869.2L578.3 859.0L579.8 858.4L581.0 875.7L582.5 874.2L584.5 863.7L586.0 875.2L587.5 861.6L589.5 865.6L591.5 869.9L593.1 865.2L595.0 842.9L597.0 864.0L598.4 861.2L599.8 874.7L601.4 868.4L602.8 875.3L604.1 873.2L605.7 864.4L607.0 875.8L609.1 873.3" stroke="#0000ff" stroke-width="2.3"/>
<path d="M689.9 873.7L691.9 874.9L693.8 872.4L695.1 876.7L696.7 879.1L698.8 874.4L700.4 880.9L702.0 880.0L704.1 880.5L705.7 874.8L707.2 878.7L708.6 874.3L710.5 880.9L712.0 873.7L713.3 877.9L715.0 872.4L716.5 873.3L718.3 873.8L720.4 877.7L721.9 871.8L724.1 872.8L725.8 880.6L727.2 880.6L729.2 881.7L731.1 872.3L732.9 876.5L734.5 873.9L735.8 881.7L737.0 879.7L738.5 871.6L740.2 881.8L741.9 875.1L743.8 873.9L745.2 876.0L747.0 871.4L749.0 872.5L751.0 872.5L752.3 881.5L754.3 878.6L756.1 877.0L757.3 878.6L759.3 881.4L761.4 873.7L763.3 878.0L765.0 879.0L766.2 881.2L768.2 881.2L770.1 881.4L772.3 872.5L774.2 881.8L776.3 881.6L778.0 869.9L780.1 881.3L781.5 870.2L783.5 870.4L785.0 875.7L786.8 881.6L788.1 880.9L789.8 871.2L791.8 881.8L793.3 879.5L794.8 876.7L796.4 878.7L798.2 878.2L800.1 880.1L802.0 881.8L803.8 829.9L806.1 872.4L807.3 881.2L809.3 870.4L811.3 881.6L812.7 870.8L814.5 881.8L816.0 881.3L817.2 876.2L818.5 881.8L820.2 878.3L821.7 841.9L823.9 871.2L825.9 878.6L828.0 881.0L829.7 840.9" stroke="#0000ff" stroke-width="2.3"/>
<path d="M950.0 879.5L952.0 879.4L953.3 880.3L954.5 880.3L956.1 877.9L958.1 880.1L960.0 881.4L961.7 880.1L963.4 881.0L964.8 878.4L966.0 880.0L967.4 879.5L969.4 879.5L971.0 880.7L972.9 879.4L974.4 880.1L975.6 878.1L977.1 881.2L978.9 879.6L980.3 880.8L981.7 878.9L983.8 878.2L985.7 881.4L987.0 879.7L988.3 879.2L989.9 879.9L991.3 881.4L992.5 878.9L993.8 878.7L995.4 881.3L996.8 880.2L998.2 881.4L999.6 881.4L1001.2 879.3L1003.1 881.2L1004.7 880.2L1006.1 879.2L1007.7 878.7L1008.9 881.4L1010.7 881.4L1012.1 879.8L1014.0 878.3L1015.7 880.9L1017.3 879.0L1019.3 881.4L1021.0 880.9L1023.2 881.4L1025.1 879.9L1027.0 879.1L1029.0 880.7L1030.8 878.9L1032.5 880.5L1034.5 879.2L1036.4 881.4L1038.4 880.8L1039.6 880.9L1041.4 879.2L1043.1 878.7L1044.4 879.5L1045.9 878.9L1047.5 881.0L1049.0 878.0L1050.4 879.2L1052.1 878.0L1053.7 879.8L1055.2 879.8L1056.7 878.6L1058.9 878.5L1060.2 878.7L1061.8 880.9L1063.4 881.1L1064.6 878.2L1066.3 881.2L1067.5 880.2L1069.6 880.6L1071.6 881.3L1073.3 878.9L1074.6 881.0L1076.5 878.7L1078.2 879.7L1080.3 877.9L1081.5 881.1L1083.0 877.9L1084.5 881.3L1086.5 878.2L1088.6 880.8L1089.9 879.0L1091.9 879.8L1094.0 880.7L1095.8 881.4L1097.9 880.3L1099.9 878.9L1101.8 878.7L1103.5 879.2L1105.0 878.8L1106.4 878.7L1108.0 880.2L1109.9 878.1L1111.8 880.7L1113.6 880.2L1115.5 881.3L1116.8 880.1L1118.8 878.2L1120.4 878.8L1122.2 879.5L1123.5 881.0L1125.5 880.6L1126.9 879.7L1128.3 880.6L1130.4 880.9L1132.0 878.0L1133.4 878.0L1135.0 881.3L1136.4 878.7L1138.1 880.4L1139.3 878.6L1141.4 881.1L1142.8 881.2L1144.9 880.9L1146.7 880.8L1148.0 881.4L1149.8 880.0L1151.7 878.3L1153.4 878.8L1154.6 879.8L1156.8 880.9L1158.7 878.9L1160.2 879.9L1162.2 881.0L1163.7 879.6L1165.4 879.9L1167.6 879.8L1169.7 878.7L1171.7 880.4L1173.3 879.0L1175.4 879.9L1176.8 880.9L1178.2 880.7L1179.5 881.4L1181.4 880.9L1182.6 878.4L1184.7 878.4L1186.2 880.1L1187.4 879.8L1188.9 881.0L1190.6 878.7L1192.8 881.0L1194.8 881.4L1196.1 881.4L1198.1 878.3L1199.3 878.0L1201.5 881.2L1202.7 878.7L1204.0 878.3L1205.3 881.3L1207.1 878.1L1208.3 879.2L1210.2 879.0L1211.9 878.6L1214.1 878.2L1215.8 878.5L1217.9 880.2L1219.1 881.4L1221.0 880.8L1223.1 878.5L1224.5 881.1L1226.1 879.2L1228.1 878.5L1230.3 880.5L1232.0 880.6L1233.5 879.3L1235.2 880.8L1237.0 880.8L1238.6 878.0L1240.0 881.0L1241.9 878.5L1243.9 880.9L1245.8 879.8L1247.2 878.0L1248.5 881.1L1250.1 881.1L1251.7 879.0L1253.6 881.3L1255.5 879.2L1257.7 879.9L1259.9 878.9L1261.6 879.4L1263.3 880.8L1265.1 878.9L1267.0 880.4L1268.7 879.9L1270.6 881.4L1272.0 880.8L1273.3 878.2L1275.2 881.4L1277.4 878.9L1278.8 879.4L1280.3 880.8L1282.1 878.5L1284.2 878.0L1286.1 880.6L1288.1 881.4L1289.4 879.3L1291.5 880.2L1293.0 878.3L1295.0 881.3L1296.5 878.2L1298.1 881.4L1299.5 878.4L1301.5 878.6L1302.7 879.6L1304.5 881.0L1306.4 880.6L1307.9 879.5L1309.5 878.0L1311.6 881.3L1312.9 877.8L1314.4 880.0L1315.6 880.3L1317.6 879.4L1319.2 881.3L1321.0 881.3L1322.5 879.9L1324.3 879.6L1326.5 879.8L1328.2 880.9" stroke="#0000ff" stroke-width="2.3"/>
<path d="M950.0 875.5L951.5 881.1L953.2 881.4L954.8 875.7L956.3 881.4L957.9 875.9L959.5 879.0L961.4 875.7L963.4 881.2L965.5 878.5L967.2 881.3L968.4 881.2L970.0 877.1L971.3 880.0L972.7 879.9L973.9 876.1L975.5 881.3L977.0 881.4L978.9 880.8L980.6 877.7L982.0 880.2L983.3 877.7L984.8 878.2L986.3 875.8L987.8 881.3L989.1 877.8L990.4 875.4L992.1 877.0L993.7 880.9L995.3 875.0L997.5 880.6L999.5 879.8L1000.7 876.2L1002.4 880.0L1004.2 881.3L1006.0 881.2L1007.6 875.2L1009.0 877.4L1011.0 881.4L1013.0 880.3L1014.5 880.3L1016.3 876.0L1017.6 881.3L1019.3 881.1L1021.3 879.0L1023.4 879.6L1024.7 878.1L1026.7 879.4L1028.4 877.1L1030.0 877.4L1031.7 876.9L1033.9 877.1L1035.7 876.9L1037.3 880.2L1039.2 880.9L1040.6 879.5L1041.9 880.1L1043.3 879.6L1044.8 878.4L1046.9 880.7L1048.4 876.4L1050.2 878.6L1051.6 880.9L1052.9 880.0L1054.9 880.3L1056.7 879.1L1057.9 879.7L1059.9 879.3L1061.1 878.4L1062.8 877.9L1064.6 879.0L1066.5 876.6L1067.9 880.9L1069.6 875.4L1071.2 881.4L1073.1 879.0L1074.4 881.2L1076.1 878.3L1078.2 880.0L1080.0 875.2L1081.5 879.7L1083.2 880.9L1085.0 880.2L1086.4 878.1L1088.3 880.9L1090.4 881.4L1092.4 879.9L1093.8 876.9L1095.2 879.0L1097.1 877.2L1098.3 875.7L1100.2 881.4L1102.0 878.8L1103.3 876.4L1104.6 879.8L1106.6 879.9L1107.9 880.0L1109.2 875.6L1111.0 876.3L1112.7 881.2L1114.5 881.4L1115.8 880.9L1117.3 880.5L1119.2 878.1L1121.4 878.4L1123.0 881.0L1125.0 879.4L1126.4 881.4L1128.1 880.7L1129.7 875.9L1131.8 875.5L1134.0 881.2L1136.1 878.1L1137.6 880.8L1139.8 876.9L1141.3 876.5L1143.4 880.8L1144.9 880.5L1146.3 880.3L1148.3 879.8L1150.0 881.0L1151.9 876.7L1153.1 881.4L1154.9 880.2L1156.5 880.1L1158.2 879.4L1160.3 881.3L1162.1 880.1L1163.5 876.3L1165.5 878.0L1167.4 879.8L1169.1 881.0L1170.9 876.8L1173.1 881.4L1174.3 875.7L1175.6 881.3L1177.1 878.2L1178.2 881.4L1180.4 880.3L1181.8 878.4L1183.7 879.6L1185.2 876.0L1187.0 880.9L1189.2 876.7L1190.5 881.2L1192.2 879.8L1193.9 876.1L1195.3 878.0L1197.4 881.4L1199.1 879.6L1201.1 879.5L1202.3 880.9L1203.8 875.4L1205.0 880.8L1207.1 879.7L1208.6 878.2L1210.5 881.2L1212.1 878.9L1213.6 880.3L1214.9 878.7L1216.5 877.5L1217.9 879.1L1219.8 879.7L1221.4 879.9L1223.0 881.3L1224.6 875.6L1226.0 881.3L1227.4 881.3L1228.9 881.3L1230.9 875.1L1232.4 880.7L1233.9 878.8L1235.4 875.4L1236.7 878.7L1238.5 880.8L1240.0 879.8L1241.4 880.8L1243.2 879.0L1244.8 876.2L1246.2 881.4L1248.4 875.3L1250.3 881.4L1251.9 876.3L1253.4 878.9L1255.5 879.9L1256.8 875.8L1258.2 880.6L1259.8 880.8L1261.5 881.2L1263.5 879.1L1265.5 879.0L1266.9 877.6L1268.5 880.4L1270.4 877.4L1271.8 880.0L1273.3 875.6L1275.3 881.0L1277.3 878.8L1279.4 875.9L1281.0 881.4L1282.4 881.0L1284.1 879.2L1285.5 880.0L1287.0 881.4L1288.7 880.1L1290.4 878.0L1292.6 880.8L1294.4 881.0L1295.8 875.4L1297.4 880.2L1299.6 876.9L1301.8 875.6L1303.9 881.0L1305.6 874.9L1307.3 879.2L1308.8 880.5L1310.7 879.0L1312.1 880.7L1313.8 881.1L1315.2 880.1L1317.4 880.9L1319.3 881.4L1320.7 878.1L1322.5 878.5L1323.8 881.3L1325.3 877.2L1326.9 876.7L1328.8 876.6" stroke="#0000ff" stroke-width="2.3"/>
<path d="M1330.0 879.6L1331.3 881.3L1333.0 880.0L1334.8 878.4L1336.3 880.5L1337.6 878.7L1339.5 880.9L1341.2 881.2L1343.1 878.9L1344.8 881.0L1346.4 881.2L1348.5 880.1L1350.4 881.1L1351.7 881.2L1352.9 879.0L1354.9 881.3L1356.7 878.9L1358.5 881.3L1360.4 880.9L1362.2 880.5L1364.2 881.0L1365.6 880.2L1367.1 880.0L1368.9 880.1L1371.0 878.8L1372.7 880.1L1374.2 881.2L1376.3 879.5L1377.8 880.7L1379.4 880.3L1381.2 879.6L1382.9 879.6L1384.1 878.3L1385.5 880.8L1387.5 881.2L1389.5 881.3L1391.6 881.3L1393.5 879.0L1395.7 880.0L1397.5 880.2L1399.3 880.5L1400.6 881.0L1402.3 880.3L1404.4 880.6L1406.5 879.5L1408.4 878.0L1409.7 880.8L1411.3 879.9L1413.1 881.2L1414.5 881.2L1415.9 881.2L1417.5 880.5L1419.6 880.8L1421.0 881.2L1422.5 881.3L1424.1 880.4L1425.6 881.1L1427.4 881.0L1429.2 878.4L1430.6 880.1L1432.8 879.4L1434.1 881.2L1435.7 878.5L1437.2 880.9L1438.8 881.3L1440.8 880.0L1442.1 881.2L1443.9 880.5L1445.5 880.5L1446.9 881.0L1448.4 878.7L1450.2 881.3L1451.7 880.1L1453.8 879.4L1456.0 881.3L1457.5 879.8L1458.7 881.3L1460.7 880.5L1462.6 879.1L1464.3 878.7L1466.3 880.2L1467.6 881.2L1469.6 881.0L1471.6 878.9L1473.0 881.3L1475.2 879.1L1476.8 878.7L1478.0 881.2L1480.1 879.7L1481.9 881.3L1483.3 880.4L1485.1 880.0L1486.8 879.2L1488.5 880.1L1490.7 880.5L1492.1 881.0L1493.7 880.4L1495.7 880.8L1497.4 878.0L1499.1 878.6L1500.3 881.3L1502.3 881.0L1503.8 879.0L1505.8 878.4L1507.3 881.3L1509.5 880.6L1510.7 880.6L1512.7 881.1L1514.0 879.8L1515.7 881.2L1517.0 879.8L1518.7 879.6L1520.4 881.1L1522.6 880.8L1524.1 881.2L1525.7 878.0L1527.8 879.0L1529.6 878.8L1531.4 878.4L1533.6 879.9L1535.5 881.2L1537.4 881.2L1539.3 880.1L1541.0 879.0L1543.1 879.2L1544.7 881.2L1546.8 878.3L1548.7 880.4L1550.6 879.3L1552.5 879.1L1554.5 881.0L1556.5 880.0L1558.2 879.9L1560.4 879.4L1561.7 880.9L1563.8 881.3L1565.6 877.9L1567.7 879.9L1569.5 881.2L1571.6 881.0L1572.9 881.0L1574.2 879.7L1576.2 880.7L1578.2 878.7L1580.3 881.2L1581.5 879.0L1583.6 881.3L1584.9 880.3L1587.0 878.6L1588.4 881.1L1590.0 878.0L1591.6 880.2L1593.4 878.5L1595.4 879.6L1597.6 879.6L1599.4 880.7L1600.7 880.5L1602.1 880.4L1604.1 880.8L1606.2 880.0L1607.5 881.3L1609.5 881.1L1611.3 880.5L1613.3 880.5L1614.5 880.7L1616.0 880.7L1617.3 878.0L1619.4 881.3L1621.6 881.3L1623.4 881.3L1624.7 880.9L1626.0 881.2L1627.4 878.9L1629.1 881.2L1630.8 880.9L1632.9 880.6L1634.8 878.1L1636.3 880.1L1638.1 881.3L1639.4 881.3L1641.1 881.1L1642.4 880.2L1643.6 881.1L1645.0 878.6L1646.6 881.3L1648.5 880.0L1650.3 878.7L1652.0 878.4L1653.2 881.3L1654.5 879.7L1656.1 881.1L1657.7 881.0L1658.9 880.9L1660.3 880.9L1662.1 881.1L1663.7 880.3L1665.5 881.0L1667.1 881.1L1669.1 880.5L1671.2 880.8L1672.4 879.7L1674.6 881.3L1676.3 880.7L1678.1 878.1L1680.3 881.3L1681.8 881.3L1683.1 880.6L1684.9 881.2L1686.3 880.5L1687.8 878.9L1689.8 879.1L1691.5 879.0L1692.8 880.7L1694.6 880.6L1696.3 880.8L1697.5 879.9L1699.1 880.4L1700.8 880.7L1702.4 881.2L1703.7 879.6L1705.7 881.3L1707.5 881.2L1709.7 879.4" stroke="#0000ff" stroke-width="2.3"/>
<path d="M1529.4 861.7L1531.4 802.0L1532.6 865.0L1534.4 822.2L1535.8 841.1L1537.8 859.8L1539.5 821.2L1541.2 851.3L1542.6 873.7L1544.5 865.1L1545.6 834.4L1548.6 843.5L1551.3 854.4" stroke="#0020ff" stroke-width="2.3"/>
<path d="M1552.7 869.6L1554.7 875.4L1556.7 844.5L1558.6 856.8L1560.5 875.4L1562.4 870.8L1564.5 862.1L1566.4 864.0L1568.5 875.3L1570.2 872.0L1572.3 852.2L1573.5 874.9L1574.8 859.7L1576.0 873.3L1578.0 836.4L1580.3 866.6L1581.5 875.8L1583.0 847.5" stroke="#0020ff" stroke-width="2.3"/>
<path d="M1678.2 871.0L1679.4 858.4L1681.1 850.0L1684.2 840.4L1686.3 869.8L1687.7 871.3L1689.9 866.0L1692.3 837.4L1694.7 854.1L1696.8 871.1L1698.2 843.1L1699.9 859.2L1701.8 865.1L1703.9 859.6L1705.2 846.9L1707.5 854.6" stroke="#0020ff" stroke-width="2.3"/>
<path d="M212.0 853.5L215.0 847.9L216.3 860.8L218.1 866.1L220.0 845.9L221.2 875.8L222.6 864.8L224.0 833.9L226.0 859.9L228.1 863.8L229.4 859.6L231.1 867.9L233.1 858.8L235.0 866.9L237.1 875.0L239.9 851.9L241.3 871.7L242.9 845.9L244.5 864.1L245.9 847.9L248.6 871.8L249.9 839.9L252.9 837.9" stroke="#0080ff" stroke-width="2.3"/>
<path d="M563.6 873.6L564.9 858.2L566.6 877.8L568.0 855.6" stroke="#009fff" stroke-width="2.3"/>
<path d="M570.0 854.1L571.5 859.1L572.9 851.4L574.6 859.4L576.4 855.3L577.9 860.1L579.2 868.8L580.8 852.1" stroke="#009fff" stroke-width="2.3"/>
<path d="M635.9 859.9L638.0 862.2L639.5 863.4L641.9 809.9L643.1 862.7L645.1 832.3L646.8 837.8L648.4 832.8L650.3 861.7L651.9 864.9L653.7 868.5L655.9 808.9L657.1 840.9L658.4 835.6L660.3 861.8L662.4 855.6L663.8 868.6L666.0 850.7L667.7 829.5L669.7 845.6L671.5 860.7L673.4 851.3L675.3 856.1L677.1 864.9L679.2 833.6L680.7 850.2" stroke="#009fff" stroke-width="2.3"/>
<path d="M685.9 840.9L687.2 841.6L689.9 840.9L691.3 848.1L692.6 849.6L694.2 871.9L695.6 852.8L697.4 864.5L698.9 859.0L700.5 853.0L701.7 854.6L703.1 860.2L704.9 838.8L706.4 854.1L708.3 868.2L709.8 871.2L711.8 851.8L713.8 836.9L715.8 856.3L717.8 825.9L719.5 851.0L721.0 871.1L722.8 807.9L724.3 840.5L725.8 801.9L728.4 843.1L729.6 871.8" stroke="#009fff" stroke-width="2.3"/>
<path d="M950.0 879.7L951.9 877.8L953.9 880.8L955.8 877.6L957.9 878.8L960.1 877.8L961.6 878.9L963.1 880.4L964.5 876.5L966.7 880.5L968.0 876.8L969.6 876.9L971.2 879.6L972.9 878.7L974.7 877.2L976.2 880.7L977.5 876.1L979.2 878.4L981.0 879.0L982.5 880.8L984.3 878.7L985.5 879.0L986.8 878.9L988.3 879.7L990.1 876.7L992.2 880.8L993.6 878.4L995.6 880.6L997.5 878.9L999.5 880.8L1001.2 878.1L1003.1 878.6L1005.2 876.9L1007.0 879.6L1008.9 878.5L1011.1 880.0L1012.9 878.0L1014.3 879.0L1016.4 880.0L1018.5 877.6L1020.1 879.8L1022.1 880.7L1024.2 877.8L1025.5 879.5L1027.4 880.8L1029.4 879.6L1030.7 878.7L1031.9 880.3L1033.8 880.6L1035.1 877.2L1036.8 878.0L1038.1 880.8L1039.9 879.9L1041.9 877.7L1043.8 879.4L1045.2 880.6L1047.0 876.7L1048.3 879.9L1050.2 879.5L1052.1 878.0L1053.9 880.6L1055.3 880.8L1057.3 877.6L1059.4 879.8L1061.5 876.0L1063.6 880.0L1065.7 879.7L1067.4 877.0L1069.2 880.8L1071.1 880.5L1072.4 877.8L1074.2 877.1L1076.2 879.4L1078.3 880.0L1080.5 880.7L1082.1 875.9L1083.5 879.9L1085.3 876.4L1087.0 877.8L1088.9 880.2L1090.1 878.2L1091.7 880.8L1093.7 878.5L1095.4 878.4L1097.6 880.8L1099.8 880.3L1101.5 877.4L1103.0 880.0L1104.5 879.5L1106.4 879.3L1108.5 879.9L1110.6 879.9L1112.7 880.6L1114.8 880.4L1117.0 878.2L1119.0 876.0L1120.3 877.5L1122.2 879.3L1123.4 880.2L1124.9 880.4L1126.6 880.7L1128.8 878.9" stroke="#009fff" stroke-width="2.3"/>
<path d="M1398.8 838.5L1400.8 834.4L1402.5 851.3L1403.8 849.6L1405.9 865.0L1407.3 851.6L1408.9 822.2L1410.3 855.1L1413.0 844.5L1414.1 856.1L1415.9 854.7L1417.1 855.0L1419.0 855.2L1420.8 848.2L1422.1 848.5L1424.1 857.8" stroke="#009fff" stroke-width="2.3"/>
<path d="M1429.2 863.9L1431.2 865.4L1432.4 865.8L1433.9 870.1L1435.4 870.2L1437.5 868.9L1439.0 864.3L1441.0 860.3L1442.9 872.9" stroke="#009fff" stroke-width="2.3"/>
<path d="M1690.3 839.9L1691.6 852.1L1693.4 813.7L1695.5 814.3L1696.7 861.3L1698.6 821.8L1700.4 787.8L1702.3 840.5L1703.5 793.9" stroke="#009fff" stroke-width="2.3"/>
<path d="M1593.1 878.9L1595.2 879.3L1597.2 878.3L1599.3 877.4L1600.7 877.5L1602.3 876.5L1603.5 877.1L1605.7 875.3L1607.3 879.9L1608.6 879.5L1610.7 878.3L1612.3 879.2L1614.3 876.3L1616.1 878.1L1617.5 879.8L1619.2 879.8L1620.7 879.9L1622.5 879.5L1623.7 875.4L1625.2 879.0L1626.5 878.2L1628.6 876.3L1630.0 876.2L1631.2 879.2L1632.5 878.2L1634.1 874.1L1635.7 879.6L1637.9 879.0L1639.7 878.0L1641.4 875.5L1643.1 879.9L1644.9 877.1L1646.2 877.0L1647.4 879.5L1648.8 878.0L1650.8 875.7L1652.2 874.5L1653.5 879.9L1655.4 877.9L1657.0 874.0L1658.6 874.8L1660.2 879.9L1661.7 874.0L1663.7 876.9L1665.4 876.8L1667.3 876.7L1668.8 875.7L1670.6 875.2L1672.5 879.7L1674.6 877.4L1676.0 879.7L1677.3 879.9L1678.9 879.5L1680.5 878.1L1682.6 875.7L1684.2 877.8L1685.8 874.4L1687.2 878.9L1689.1 879.9L1690.9 877.4L1692.4 876.1L1694.3 878.9L1695.7 875.8L1697.2 879.6L1698.7 874.2L1700.6 877.8L1702.0 876.5L1703.9 878.6L1705.8 877.6L1707.3 879.2L1708.7 878.6" stroke="#009fff" stroke-width="2.3"/>
<path d="M729.8 881.4L731.4 878.9L733.2 882.2L734.7 881.0L736.7 878.6L738.1 882.2L740.1 882.2L741.8 880.4L743.6 882.1L745.7 881.4L747.7 879.2L749.4 882.2L750.6 881.5L752.6 880.2L754.3 881.6L755.9 882.2L758.1 879.2L760.1 880.8L761.7 882.0L763.6 880.4L764.8 881.5L766.2 878.9L767.9 881.7L769.2 882.1L770.5 882.2L771.8 880.5L773.3 882.0L775.0 881.3L777.1 878.4L779.1 882.1L780.4 882.0L782.5 881.2L783.7 880.9L785.0 878.1L786.7 878.3L788.3 882.2L789.8 881.4L792.0 881.0L794.0 880.7L795.8 882.2L797.1 882.2L799.3 880.1L800.7 879.4L802.7 882.2L803.9 881.3L805.6 881.7L807.4 882.1L808.6 882.0L810.0 882.2L811.3 880.3L813.4 882.0L815.1 881.0L817.3 879.6L819.2 881.9L820.7 881.5L822.4 881.7L823.9 880.5L825.8 879.4L827.8 882.3L829.5 881.2L831.1 879.5L833.1 880.8L835.1 879.0L836.7 882.2L838.6 882.2L840.3 882.2L841.9 881.4L844.0 878.1L845.3 881.5L847.2 882.0L849.2 882.2L850.8 880.4L852.7 881.4L854.4 881.6L856.5 880.8L858.6 879.7L860.8 878.6L862.3 881.9L864.3 879.3L866.0 880.0L867.7 880.6L869.1 880.4L870.4 882.2L871.8 881.2L873.7 882.1L875.3 881.5L877.0 881.3L878.8 880.7L880.3 882.0L881.8 882.2L883.2 878.2L885.1 881.6L887.0 880.0L888.2 880.0L889.7 879.3L891.0 880.9L893.1 880.1L894.9 880.3L896.1 882.0L897.6 880.4L898.9 882.3L900.7 879.9L902.0 882.3L903.7 881.7L905.4 880.2L907.5 878.3L909.7 882.2L911.0 879.5L912.5 880.4L913.9 882.3L915.8 881.1L917.8 880.3L919.0 881.9L920.6 880.2L922.6 878.0L924.2 881.0L925.5 877.9L927.1 882.2L928.9 880.2L930.1 882.2L931.4 878.9L932.8 881.1L934.4 882.0L936.2 881.7L938.2 879.1L939.8 881.7L941.8 880.8L943.6 881.7L945.4 880.9L947.5 881.6L948.7 879.9" stroke="#009fff" stroke-width="2.3"/>
<path d="M1491.9 881.1L1493.7 878.7L1494.9 880.2L1496.5 881.3L1498.1 879.7L1499.5 880.9L1501.1 881.3L1503.2 881.3L1505.2 880.7L1507.0 879.7L1508.8 880.6L1511.0 880.3L1512.6 878.2L1514.4 880.5L1516.5 881.3L1518.4 879.0L1520.5 880.9L1522.3 878.3L1523.9 881.3L1525.5 880.5L1526.9 880.6L1528.2 880.9L1530.0 880.2L1532.0 881.3L1533.9 879.5L1535.9 880.4L1537.1 879.6L1538.8 879.7L1541.0 878.9L1542.7 881.3L1544.2 881.0L1545.9 878.5L1547.2 881.0L1548.4 880.6L1550.5 878.5L1552.3 880.4L1553.9 881.2L1555.6 880.9L1556.8 880.1L1558.2 881.1L1559.6 880.9L1561.2 879.2L1563.3 878.5L1564.8 878.5L1566.5 880.9L1568.5 878.3L1570.7 879.1L1572.9 881.3L1574.3 880.0L1575.8 880.9L1577.4 879.9L1578.8 881.3L1580.8 881.3L1582.1 880.1L1583.8 879.3L1585.3 879.4L1587.3 881.3L1589.2 880.4L1590.9 881.0L1592.2 879.8L1593.9 880.9L1595.8 878.0L1597.1 881.3L1598.7 881.1L1600.2 880.4L1602.0 878.8L1604.2 881.3L1606.0 879.5L1607.7 879.8L1609.3 881.3L1610.5 880.7L1612.5 879.3L1613.7 880.7L1615.7 878.3L1617.2 879.2L1618.8 879.4L1620.0 880.0L1621.9 881.0L1624.1 879.2L1625.4 880.3L1627.6 880.6L1629.2 881.3L1631.3 880.5L1632.7 880.2L1634.2 880.1L1636.1 878.5L1637.7 880.8L1639.5 881.2L1641.4 880.1L1643.5 880.9L1644.8 881.3L1646.4 879.8L1647.7 881.3L1649.6 881.3L1651.2 880.7L1652.7 879.0L1654.2 880.0L1656.0 880.9L1658.0 880.5L1659.9 879.6L1661.1 880.2L1662.4 879.1L1664.3 879.5L1665.7 881.3L1667.7 879.4L1669.6 878.9L1671.4 880.7L1673.3 880.5L1674.9 880.5L1676.3 879.5L1678.5 879.7L1680.1 881.3L1681.5 879.5L1683.3 881.3L1685.3 880.9L1686.6 880.3L1688.3 881.0L1690.3 879.9L1691.7 880.8L1693.3 879.9L1694.5 881.2L1696.1 878.9L1697.7 880.9L1699.1 880.4L1700.3 881.1L1701.7 879.0L1703.7 881.2L1705.7 879.0L1707.7 881.1L1709.2 880.5" stroke="#009fff" stroke-width="2.3"/>
<path d="M230.0 858.0L231.4 874.5L233.5 864.8L235.3 875.4L237.3 861.4L239.1 875.0L240.5 866.8L242.2 872.5L243.9 875.5L245.1 863.2L246.4 868.1L248.4 870.7L249.7 869.5L251.0 865.1L252.4 868.3L253.9 868.9" stroke="#00dfff" stroke-width="2.3"/>
<path d="M190.0 876.3L191.9 870.1L193.7 875.0L195.3 876.4L197.1 875.7L199.2 877.2L201.2 875.7L202.6 875.4L203.9 874.6L205.9 874.1L208.0 870.1L209.2 872.9L210.7 875.2L212.4 871.5L214.3 872.3L216.4 877.9L218.5 873.4L219.9 872.6L222.1 871.4L224.1 876.5L226.1 872.4L228.0 874.8L229.7 877.7L231.1 877.6L232.4 873.1L234.4 877.7L236.4 872.0L237.9 875.2L239.8 875.0L241.1 871.1L242.4 870.3L243.7 876.8L245.4 876.3L246.7 874.7L248.5 876.9L250.1 872.9L252.1 873.5L253.4 870.9L255.3 876.9L256.7 874.2L258.0 874.1L259.8 873.1L261.3 877.8L263.3 876.8L265.4 873.4L266.8 872.8L268.7 874.5L269.9 874.6L271.4 872.5L273.1 871.9L275.0 876.4L277.0 872.0L278.5 869.9L279.9 876.2L281.4 870.3L282.6 875.1L284.8 873.1L286.7 875.9L288.7 871.4L290.3 875.9L292.3 877.5L293.8 877.9L295.5 877.6L296.9 871.1L299.1 877.1L301.2 872.1L303.4 877.9L305.6 872.9L307.6 877.7L309.7 875.8" stroke="#00dfff" stroke-width="2.3"/>
<path d="M397.8 860.6L399.2 858.8L400.7 858.6L402.8 863.1L404.1 863.1L405.8 860.0L407.0 854.2L408.5 857.3L410.3 862.7L412.0 860.6L414.2 867.4L415.5 867.1L417.1 856.3L419.1 859.2L421.0 867.7L422.7 865.3L424.4 863.7L425.7 865.4L427.0 867.5L428.5 864.9" stroke="#00dfff" stroke-width="2.3"/>
<path d="M1001.9 858.5L1003.8 848.0L1005.3 846.4L1007.5 861.5L1008.7 849.0L1010.9 861.1L1013.0 848.0L1015.0 847.8L1016.7 849.9L1018.4 862.6L1020.1 844.0L1021.8 845.2" stroke="#00dfff" stroke-width="2.3"/>
<path d="M1133.8 861.9L1135.8 809.9L1137.1 867.0L1139.2 855.2L1140.7 871.8L1142.8 821.9L1144.0 865.1" stroke="#00dfff" stroke-width="2.3"/>
<path d="M190.0 879.2L191.2 879.7L193.1 879.2L194.5 878.8L195.8 878.4L197.5 879.4L199.2 878.1L201.2 878.9L203.3 873.3L205.0 874.4L206.9 877.4L208.5 874.2L210.1 879.7L212.2 876.1L213.9 879.1L215.6 877.6L217.5 876.7L219.2 879.5L220.6 874.1L222.6 879.9L224.8 875.7L226.5 875.9L228.6 879.7L230.0 879.2L231.8 879.8L233.2 879.1L235.2 875.7L236.7 876.8L238.6 879.1L240.4 877.4L242.6 877.0L244.0 873.5L246.0 879.1L247.3 878.8L248.9 878.1L250.7 874.9L252.4 877.9L254.6 878.8L255.9 879.5L257.8 874.2L259.3 878.2L261.5 874.6L262.9 879.0L264.3 877.9L265.9 874.8L267.9 876.1L269.2 874.1L271.0 879.5L273.1 879.2L274.8 873.7L276.4 875.8L278.3 877.8L280.5 875.4L281.8 875.5L283.2 878.2L284.9 874.0L286.1 879.8L288.3 878.8L290.5 879.4L292.1 874.7L293.6 873.4L295.4 878.0L296.7 878.2L298.7 877.8L300.9 878.6L302.9 878.4L305.0 877.3L306.9 878.8L309.0 879.2" stroke="#00dfff" stroke-width="2.3"/>
<path d="M257.9 861.7L259.9 848.9L261.1 862.1L262.9 861.3L264.9 847.9L267.6 859.9L268.9 867.7L270.7 856.8L271.9 846.9L273.7 853.6L275.3 852.8L277.9 845.9L279.2 859.3L280.7 854.4" stroke="#00ffff" stroke-width="2.3"/>
<path d="M281.9 848.4L283.2 871.9L285.0 863.8L286.5 857.8L288.5 861.1L290.6 872.6L292.7 868.4L294.8 871.6L296.3 867.8L297.9 850.9L299.0 860.9L300.6 861.4L302.5 871.5L304.6 871.4L306.9 842.9L308.4 870.6L309.9 848.9L311.1 873.7L313.0 871.7" stroke="#00ffff" stroke-width="2.3"/>
<path d="M1275.7 839.9L1277.0 857.7L1278.5 865.5L1279.8 865.9L1281.1 836.7L1282.6 846.3L1284.4 865.5L1285.9 857.3L1287.6 861.7L1289.6 829.8L1291.5 867.7" stroke="#00ffff" stroke-width="2.3"/>
<path d="M1249.7 871.8L1251.5 865.5L1253.0 873.5L1254.8 870.3L1256.2 873.3L1258.2 873.4L1260.0 877.7L1261.9 875.2L1264.0 873.7L1265.9 867.7L1267.9 874.2L1269.6 865.1" stroke="#00ffff" stroke-width="2.3"/>
<path d="M1069.9 880.3L1071.4 880.1L1073.4 881.0L1075.5 880.7L1077.0 880.6L1078.4 880.1L1080.2 880.1L1081.9 880.5L1084.1 880.3L1086.0 880.1L1087.4 881.4L1089.0 881.2L1090.9 880.4L1092.2 880.8L1094.0 881.4L1096.1 880.4L1097.5 880.2L1099.2 880.3L1101.0 880.6L1102.2 881.3L1103.8 881.1L1105.9 880.4L1107.3 881.3L1108.9 880.3L1111.0 881.4L1113.2 880.1L1114.8 880.8L1116.9 881.3L1118.4 881.2L1120.4 879.9L1122.3 881.4L1124.1 881.2L1125.9 880.9L1127.1 880.0L1128.6 880.8L1130.4 880.4L1131.6 880.8L1133.2 881.3L1134.4 880.8L1135.7 880.7L1137.3 881.4L1139.1 881.2L1140.3 881.3L1142.5 880.8L1144.0 881.2L1145.6 880.5L1147.1 881.2L1148.9 880.2L1151.1 880.1L1153.0 880.4L1154.7 880.5L1156.4 881.4L1157.8 880.3L1159.4 880.9L1161.1 881.1L1163.2 881.4L1164.6 879.9L1166.7 881.3L1168.5 880.5L1169.9 880.4L1171.6 881.4L1173.1 880.3L1175.2 881.1L1176.6 880.4L1178.6 880.8L1180.1 881.0L1181.9 881.1L1183.8 880.0L1185.5 881.3L1187.4 881.0L1189.5 879.9L1191.1 880.3L1193.0 881.3L1194.8 880.8L1196.3 881.2L1198.3 881.0L1199.8 880.9L1201.7 880.4L1203.3 881.2L1204.6 880.7L1206.2 881.4L1207.5 881.4L1209.4 880.3L1211.1 880.2L1212.5 880.2L1214.6 879.9L1215.8 881.4L1218.0 881.4L1219.7 880.8L1221.5 880.3L1223.5 880.9L1225.4 881.2L1227.5 880.2L1229.0 880.4L1230.3 880.7L1231.9 881.3L1233.6 880.1L1235.1 879.9L1236.8 880.3L1238.0 880.2L1240.0 880.0L1241.8 881.4L1243.1 880.8L1244.8 879.9L1247.0 879.9L1249.1 881.4L1251.2 880.4L1253.2 880.7L1255.2 880.7L1257.0 880.9L1258.4 881.0L1260.5 880.8L1262.6 881.4L1264.5 881.2L1266.5 880.7L1268.4 881.0L1270.0 880.4L1271.5 881.1L1272.8 881.0L1274.5 880.5L1276.0 880.6L1277.7 881.1L1279.8 880.6L1282.0 881.2L1283.3 880.6L1285.2 881.4L1286.4 880.6L1288.5 880.1L1290.5 880.8L1292.6 881.3L1294.4 879.9L1296.3 881.4L1297.7 880.4L1299.0 881.2L1300.4 880.9L1302.3 880.0L1304.5 880.4L1306.0 880.9L1307.7 880.6L1309.3 880.8L1311.0 879.9L1312.9 880.8L1314.8 880.1L1316.0 881.4L1318.1 881.3L1319.9 880.0L1322.0 881.4L1323.4 881.3L1325.2 881.2L1327.3 880.7L1328.7 881.4" stroke="#00ffff" stroke-width="2.3"/>
<path d="M329.9 854.2L331.9 802.9L333.3 821.9L334.6 838.2L335.8 805.9L337.7 846.7L338.9 834.8L340.8 780.0L342.2 860.8L343.6 852.2L345.8 803.9L347.1 824.8L348.7 828.7L350.8 765.0L352.3 847.4L353.8 814.9L355.6 838.7" stroke="#dfff20" stroke-width="2.3"/>
<path d="M355.8 831.1L358.0 849.5L359.8 830.9L361.6 854.9L364.8 841.9L366.0 845.3L367.2 859.8L368.5 867.5L370.6 859.2L372.6 843.5L374.7 863.9L376.4 842.1L377.9 854.9L379.5 868.8L381.7 853.7L383.2 869.7L384.6 862.1L386.4 868.1L387.8 838.9L389.5 849.1L391.1 867.4L393.1 859.5L394.9 866.3L396.5 870.3L398.2 856.0L399.5 871.7" stroke="#dfff20" stroke-width="2.3"/>
<path d="M399.8 874.9L401.8 871.1L403.7 871.6L405.6 875.5L407.7 870.3L409.4 872.2L411.4 868.9L413.1 869.2L414.4 874.1L416.6 868.2L418.6 875.8L420.5 875.9L421.9 875.1L423.8 872.4L425.7 875.6L427.6 871.4L429.3 868.1L431.1 875.1L432.9 871.2L434.9 875.9L437.1 874.7L438.4 868.0L439.6 874.8L441.6 875.6L443.5 872.3L444.9 875.2L446.9 874.2L449.7 864.9L452.2 875.0L454.1 868.2L456.0 868.6L457.2 868.9L459.2 875.8L460.7 873.8L462.9 871.7L464.9 875.9L466.7 870.9L468.0 873.7L470.2 871.0L471.6 875.8L473.0 875.7L474.5 875.6L476.1 875.5L478.3 873.1L480.3 868.6L482.5 875.8L484.1 870.1L485.8 872.5L488.0 874.3L489.6 871.3" stroke="#dfff20" stroke-width="2.3"/>
<path d="M509.7 840.0L510.9 841.4L512.5 846.7L513.9 855.0L515.7 842.0L517.5 848.8L519.7 825.9L522.1 856.8L523.6 830.9L525.1 848.1L526.4 842.9L528.2 856.0L529.8 839.6L531.5 839.5L533.5 853.5" stroke="#dfff20" stroke-width="2.3"/>
<path d="M1139.8 839.8L1141.0 862.7L1142.4 860.0L1143.9 856.2L1145.9 850.7L1147.9 842.0L1150.0 871.2L1151.8 858.2L1153.8 853.6L1155.5 844.3L1156.8 870.9L1158.1 871.8L1159.8 845.9L1162.1 852.8L1164.0 871.6L1165.5 857.7L1167.5 850.8L1169.8 834.9L1170.9 869.1L1173.8 836.9" stroke="#dfff20" stroke-width="2.3"/>
<path d="M509.7 874.9L511.7 874.1L513.2 874.5L515.3 877.2L517.3 876.1L519.4 870.7L521.3 874.0L523.2 877.8L524.6 874.1L526.5 873.8L528.1 877.1L530.2 873.3L531.5 876.9L533.1 875.4L534.6 875.3L536.4 870.3L538.5 874.0L540.3 870.3L541.9 870.1L544.0 872.7L546.0 877.3L547.7 876.1L548.9 876.0L550.7 871.0L552.5 873.0L554.2 875.2L555.5 871.0L556.9 868.0L558.9 877.5L560.8 869.4L562.8 874.0L564.4 873.5L565.8 877.7L567.4 877.6L569.4 877.9" stroke="#ffdf00" stroke-width="2.3"/>
<path d="M570.0 882.6L571.6 882.2L573.2 882.6L575.3 881.1L577.2 882.2L578.8 882.5L580.6 882.2L582.6 882.0L584.8 881.7L586.3 882.6L587.9 882.3L590.1 882.5L591.5 882.2L592.8 881.3L594.2 881.4L595.5 882.1L597.3 882.0L599.0 882.0L600.7 882.0L602.8 882.6L604.3 881.5L606.5 882.6L608.2 882.3L609.6 881.7L610.8 882.2L612.0 881.4L614.2 881.2L615.9 881.8L617.3 881.6L618.6 882.5L619.9 881.2L621.7 881.8L623.0 882.1L624.9 881.3L626.9 881.7L628.1 882.6L630.2 881.6L631.8 882.1L633.7 882.0L635.0 881.8L636.8 881.2L638.9 882.1L640.2 882.0L641.8 882.6L643.1 882.1L644.7 882.3L646.6 882.4L648.7 881.9L650.1 882.6L652.1 881.8L653.3 881.7L655.3 881.4L656.7 881.6L658.0 882.6L659.8 882.3L661.2 881.1L662.9 882.6L664.3 881.9L666.0 881.8L667.8 881.2L669.7 882.3" stroke="#ffdf00" stroke-width="2.3"/>
<path d="M669.9 875.6L672.1 879.2L673.8 878.5L675.8 877.0L677.6 868.9L679.7 873.6L681.8 866.5L683.3 867.9L684.8 874.9L686.6 871.8L688.5 878.0L690.6 871.7L692.0 869.8L693.9 879.8L695.7 878.3L697.9 872.2L699.2 877.0L701.0 868.6L703.1 865.8L704.5 878.1L706.7 879.7L708.9 865.4L710.8 877.4L712.3 870.6L713.6 879.8L715.1 876.2L716.5 870.5L717.9 868.0L719.7 877.6L721.9 876.4L723.4 878.6L724.8 876.6L726.5 878.3L728.0 865.9L729.9 876.4L731.8 879.6L733.4 872.1L734.9 870.7L736.4 868.4L738.5 874.8L740.7 879.8L742.7 864.1L743.9 879.9L745.4 874.7L746.8 876.9L748.7 879.7L750.0 878.0L751.5 868.6L752.8 879.7L754.5 868.6L755.9 870.2L757.6 873.8L759.4 867.2L760.6 871.3L762.1 879.8L763.9 866.2L765.4 879.7L766.8 822.9L768.8 875.2L772.8 838.9" stroke="#ffdf00" stroke-width="2.3"/>
<path d="M1330.0 875.1L1332.2 880.5L1334.1 879.0L1336.1 880.8L1338.1 880.0L1340.0 877.1L1342.1 879.2L1344.2 874.7L1345.5 880.6L1347.0 878.3L1348.5 876.9L1349.8 876.5L1351.8 879.4L1353.5 880.2L1354.7 880.9L1356.9 877.7L1358.3 879.9L1360.4 870.8L1362.1 879.8L1363.8 879.3L1365.3 876.7L1367.2 881.2L1368.6 880.6L1370.1 881.3L1371.6 880.7L1372.9 878.5L1374.4 874.7L1376.0 880.3L1377.4 876.3L1379.6 879.6L1381.4 879.6L1383.1 878.8L1384.3 874.6L1386.0 879.6L1388.7 863.7L1390.1 881.3L1392.1 879.2L1394.0 881.3L1395.5 879.9L1396.9 881.0L1398.8 880.2L1400.4 876.5L1401.9 880.9L1403.9 877.8L1406.0 876.4L1407.4 874.4L1408.9 859.7L1410.6 877.2L1412.5 879.7L1414.1 881.1L1415.9 880.0L1417.3 880.6L1418.9 878.4L1421.1 876.9L1422.7 878.1L1425.1 851.6L1427.0 879.2L1428.4 881.2L1429.9 880.6" stroke="#ffdf00" stroke-width="2.3"/>
<path d="M1552.7 866.6L1554.8 878.7L1556.4 871.2L1558.5 877.8L1559.7 864.7L1561.3 874.3L1562.9 873.2L1564.6 875.9L1565.8 866.1L1567.9 873.1L1569.6 872.1L1570.9 868.7L1572.2 879.9L1574.1 879.2L1575.4 878.2L1577.6 871.4L1579.1 879.9L1580.5 875.5L1581.8 875.0L1583.6 866.0L1585.0 856.6L1586.8 870.7L1588.0 872.1L1589.9 879.6L1592.1 870.4L1594.0 877.0L1595.2 857.6L1596.6 876.2" stroke="#ffdf00" stroke-width="2.3"/>
<path d="M481.7 859.3L483.1 856.7L484.7 859.2L486.2 862.9L487.6 867.6L489.0 858.7L490.3 866.2L492.4 852.5L493.8 864.2L495.7 853.1L497.8 855.0L499.4 861.2L501.5 855.1L503.7 858.4L505.4 853.2L507.3 865.9L509.2 857.4" stroke="#ffbf00" stroke-width="2.3"/>
<path d="M859.7 867.4L861.3 860.6L863.0 863.5L865.0 869.7L866.5 857.6L867.7 831.9L870.0 860.1L871.5 860.7L873.3 867.1L874.7 826.9L876.6 860.9L878.1 868.4L879.4 864.6L880.9 863.5L882.2 842.4L884.4 848.5L886.2 870.7L888.4 861.2L889.6 864.0L891.6 869.8L892.9 838.9L894.7 869.4L896.1 844.7L898.2 869.4L899.4 867.2L901.5 860.7L903.4 865.9L905.2 836.6L906.8 871.1L909.6 835.9L910.9 851.5L913.6 836.9L914.7 871.7L916.9 847.4L918.2 845.8L920.1 866.2L921.3 841.4L923.4 867.4L925.3 852.1" stroke="#ff8000" stroke-width="2.3"/>
<path d="M1003.9 853.6L1005.7 874.7L1007.3 867.7L1008.6 857.4L1010.3 873.0L1011.8 844.0L1013.1 845.6L1015.0 863.2L1016.3 873.8L1018.2 874.5L1019.5 861.9L1021.4 871.5L1022.9 834.9L1024.7 860.8L1026.8 862.7L1028.2 858.3L1029.5 841.6L1031.4 843.7L1033.2 875.4L1035.3 860.6L1036.8 847.5L1038.2 875.8L1040.2 864.0L1042.1 847.2L1043.5 870.4L1044.9 843.9L1047.4 875.7L1048.8 868.7L1050.3 868.1L1052.0 841.6L1053.8 861.0L1055.4 874.9L1057.5 875.7L1058.9 833.9L1060.7 840.0L1062.9 809.9" stroke="#ff8000" stroke-width="2.3"/>
<path d="M1672.1 827.3L1673.3 865.8L1674.7 863.4L1676.6 837.4L1678.2 821.2L1680.0 874.2L1682.2 859.7L1683.6 834.2L1685.0 846.3L1687.0 854.9L1688.3 846.0L1690.5 840.0L1692.4 869.2L1693.6 859.3L1695.0 837.9L1697.0 868.1L1698.5 862.3L1700.2 875.5L1702.3 838.2L1704.4 833.9L1705.9 868.6L1707.3 855.2L1708.8 836.0" stroke="#ff8000" stroke-width="2.3"/>
<path d="M190.0 882.1L191.7 880.4L193.2 881.3L195.2 882.2L196.7 881.1L198.9 878.2L200.6 881.8L201.9 878.5L203.3 882.1L205.0 879.6L206.4 881.7L207.7 881.5L209.0 867.9L211.1 881.7L212.4 882.0L213.7 879.3L215.0 879.2L216.4 878.3L218.0 879.6L219.2 880.5L221.1 879.2L223.3 882.6L224.7 880.1L226.8 878.3L228.7 879.4L230.8 880.6L232.1 882.2L234.0 879.8L235.2 882.6L236.6 880.0L238.6 882.0L239.9 882.0L241.3 882.2L242.7 879.2L244.8 879.2L246.2 881.8L248.1 881.7L250.2 879.2L251.6 880.9L252.9 881.1L254.8 880.1L255.9 871.9L258.2 882.6L260.1 881.3L262.2 879.1L264.1 881.4L265.4 882.6L267.4 880.3L268.7 881.5L270.7 879.1L272.3 882.6L273.9 878.1L275.3 881.0L277.2 879.8L279.0 881.8L280.6 881.3L281.9 860.9" stroke="#ff6000" stroke-width="2.3"/>
<path d="M972.0 865.0L973.8 849.8L976.0 837.9L977.9 836.3L979.2 875.1L982.0 824.9L983.2 861.7L985.3 838.5L987.1 860.2L989.2 874.9L990.9 853.8L992.0 855.9L994.2 869.3L995.6 848.9" stroke="#ff6000" stroke-width="2.3"/>
<path d="M1003.9 856.2L1006.0 871.3L1007.7 877.9L1009.6 859.2L1011.2 862.7L1013.2 879.2L1014.7 869.6L1015.9 876.7L1017.4 852.3L1018.7 879.8L1020.0 872.9L1021.6 863.9L1022.9 874.2L1024.7 857.2L1026.9 875.9L1029.0 869.4L1031.0 876.5L1032.5 867.3L1033.9 874.5L1035.1 866.0L1037.2 879.2L1038.5 879.7L1040.1 862.6L1041.9 874.7L1043.3 879.6L1045.4 878.0L1047.4 860.4L1049.3 865.2L1050.7 879.7L1052.2 856.5L1053.6 854.4L1055.6 864.4L1057.6 857.9L1059.7 872.2L1060.9 860.0" stroke="#ff6000" stroke-width="2.3"/>
<path d="M1069.9 864.5L1071.2 877.8L1073.4 856.8L1075.1 877.6L1077.0 857.1L1078.6 868.1L1080.5 876.3L1081.9 857.9L1083.9 868.7L1085.5 870.6L1087.2 852.6L1089.1 877.3L1091.1 864.2L1093.1 872.5L1095.3 868.2L1097.5 873.5L1099.3 855.4L1101.3 865.7L1103.3 877.0L1105.5 848.0L1107.1 877.7L1108.4 877.4L1109.8 857.1L1111.8 845.9L1113.2 875.3L1114.6 876.1L1115.8 857.0L1117.1 857.6L1118.9 874.2L1120.8 843.9L1122.4 874.3L1124.3 863.5L1125.6 874.1L1127.3 874.9L1128.7 856.5L1130.0 868.3L1131.3 864.4L1132.6 870.3L1134.8 818.9L1137.3 867.6L1139.4 877.8" stroke="#ff6000" stroke-width="2.3"/>
<path d="M1140.8 852.7L1142.3 839.6L1143.8 801.9L1145.2 846.4L1147.8 763.0L1149.8 795.9L1152.8 738.0L1153.8 750.0" stroke="#ff6000" stroke-width="2.3"/>
<path d="M349.8 860.2L351.8 867.9L353.6 854.0L354.8 841.9L357.0 854.1L359.2 868.4L361.2 845.3L362.4 853.3L363.7 859.8L365.6 864.4L367.2 855.6L368.4 851.5L370.2 864.7L372.1 849.7L374.2 867.2L375.4 868.0L377.8 839.9L379.1 868.0L380.7 861.9L381.8 845.9L384.5 869.2L386.7 851.4" stroke="#ff2000" stroke-width="2.3"/>
<path d="M570.0 871.1L571.3 877.8L573.3 859.8L575.4 859.2L577.6 875.2L579.5 862.3L581.5 876.1L583.0 870.4L584.5 867.2L586.2 861.0L588.1 875.7L589.9 853.5L591.9 877.3L593.5 871.0L595.2 877.8L597.3 852.6L599.5 859.6L601.3 865.7L603.5 873.0L605.6 852.5L607.6 877.8L609.5 865.7L611.0 876.1L612.8 877.4L614.2 852.4L615.6 870.1L617.8 877.1L619.1 864.3L620.3 876.0L622.3 858.6L623.7 874.1L624.9 876.8L626.6 862.4L627.8 870.7L629.8 860.0L631.1 874.5L633.1 875.3L634.4 877.8L635.9 829.9L637.4 864.4L639.4 873.5L641.1 876.4L643.1 858.7L644.6 876.1L646.5 854.5L648.0 874.1L650.1 863.4L651.8 859.9L653.9 815.9L655.7 852.6L657.1 873.9L658.9 797.9L660.4 877.8L661.9 760.0" stroke="#ff2000" stroke-width="2.3"/>
<path d="M570.0 880.9L571.4 882.5L573.5 881.0L575.0 881.3L576.9 882.6L578.8 882.2L580.3 881.4L581.8 881.6L584.0 881.7L585.8 881.1L587.5 882.0L589.1 882.6L591.0 881.9L592.3 882.6L593.9 881.7L596.1 882.1L598.1 881.3L599.7 881.2L601.2 882.6L602.8 881.0L604.8 882.3L606.5 881.2L608.6 882.0L610.4 882.4L612.5 880.9L614.4 881.9L616.6 882.1L618.7 881.8L620.2 881.5L621.4 882.5L623.4 882.1L625.5 882.1L627.1 881.6L629.2 882.4L630.7 882.5L632.0 880.9L633.5 881.5L635.3 882.6L636.7 881.8L638.6 882.4L640.5 881.7L642.4 881.2L644.4 881.7L645.9 881.8L648.0 882.6L649.4 881.3L651.3 881.9L653.5 881.1L655.1 880.9L657.1 882.3L658.6 881.8L660.1 882.3L661.8 881.7L663.8 882.5L665.3 882.5L667.2 881.2L668.6 881.2L670.5 881.6L671.7 881.3L673.0 882.6L674.6 881.9L676.7 881.3L678.1 881.5L679.6 881.9L681.8 882.2L683.1 880.9L684.4 882.1L686.5 882.6L688.4 882.4L689.6 881.4L691.3 882.5L692.8 882.2L694.3 881.8L695.8 882.2L697.6 881.5L699.7 881.5L701.4 882.3L703.1 881.5L704.6 881.6L706.0 882.6L707.3 882.2L709.4 881.6L711.3 882.0L712.5 882.4L714.2 882.6L715.9 882.1L717.1 881.4L719.1 882.5L721.1 881.5L723.0 882.6L724.7 881.9L726.7 882.6L728.9 881.3L730.9 881.3L732.3 881.3L734.0 882.4L735.4 880.9L736.8 882.6L738.2 881.8L740.3 882.6L742.2 881.8L743.9 882.1L745.6 882.4L747.4 882.0L749.5 882.6L751.6 882.2L753.5 882.0L754.8 881.9L756.5 882.1L758.2 882.2L759.8 881.9L761.2 882.5L762.7 882.5L764.3 881.6L766.3 882.4L767.8 882.2L769.0 882.4L770.3 881.2L772.5 882.3L774.0 881.4L776.2 882.5L778.2 882.4L779.7 882.5L781.4 881.0L782.6 882.3L784.7 881.4L786.0 882.1L788.1 881.7L789.8 882.3L791.9 882.3L793.8 882.5L795.2 881.0L796.8 882.3L798.4 882.3L800.3 882.4L802.5 881.7L804.3 881.3L805.7 882.6L807.2 881.8L809.4 882.5L810.7 881.5L812.3 882.6L814.5 882.2L815.9 881.9L817.1 881.6L818.6 881.3L820.0 882.5L822.2 881.1L823.5 882.3L824.8 881.5L827.0 880.9L828.3 881.6L830.1 882.5L832.3 882.5L833.8 882.5L835.7 882.2L837.4 881.7L839.2 882.5L840.5 881.2L842.5 881.3L843.9 882.2L845.8 881.7L847.3 881.2L848.9 881.4L850.4 881.0L852.6 881.5L854.6 882.4L855.9 882.1L857.7 882.6L859.2 881.8L860.8 882.1L862.9 882.4L865.0 881.6L866.4 882.6L868.2 882.0L870.2 882.5L872.0 882.1L873.8 881.8L875.5 882.6L877.4 882.0L879.5 882.0L881.5 882.2L883.0 882.3L884.4 882.3L886.5 882.4L888.2 882.3L890.2 881.4L891.4 881.6L893.1 882.3L894.5 882.2L896.6 881.5L897.8 881.5L899.6 882.2L901.0 881.2L902.6 882.6L904.3 880.9L906.0 881.2L907.5 882.6L908.7 882.0L909.9 881.3L911.2 882.2L913.0 882.0L915.2 882.3L917.3 882.5L919.0 882.6L920.6 882.6L921.8 880.9L923.4 882.6L925.0 882.3L927.1 882.4L928.4 882.1L929.7 881.8L931.6 880.9L933.3 882.4L935.1 882.4L936.6 882.6L938.8 881.1L940.7 881.1L942.1 881.6L943.5 881.6L945.0 882.3L947.1 882.3L949.1 882.6" stroke="#ff2000" stroke-width="2.3"/>
<path d="M1330.0 878.4L1332.2 878.9L1333.9 879.7L1335.6 880.2L1337.3 880.1L1339.5 876.9L1340.9 877.9L1342.5 881.2L1344.4 879.8L1346.5 878.6L1348.4 880.8L1350.0 877.2L1351.6 880.7L1353.0 880.1L1354.7 879.3L1356.2 878.9L1358.1 877.9L1360.2 879.1L1362.2 879.7L1363.6 876.3L1365.4 878.9L1366.4 860.7L1368.2 881.3L1370.0 881.1L1372.0 878.7L1374.0 876.3L1375.4 880.8L1377.6 869.8L1379.1 880.9L1380.6 881.1L1382.0 879.1L1383.3 880.9L1384.6 880.8L1386.4 881.3L1387.8 881.2L1389.3 876.4L1390.5 881.1L1391.8 877.6L1393.8 879.9L1395.5 878.8L1397.6 878.3L1398.9 876.5L1400.5 876.2L1401.9 878.6L1403.4 881.2L1405.3 877.0L1407.4 881.2L1408.9 876.2L1410.3 880.4L1412.4 880.1L1413.8 880.4L1415.6 878.7L1417.4 881.3L1419.2 879.1L1420.5 881.3L1422.6 876.9L1424.6 881.3L1426.7 877.3L1428.0 877.0L1429.7 879.7L1431.1 881.3L1433.0 879.8L1434.7 880.1L1436.0 878.7L1437.8 881.3L1439.3 878.9L1441.3 861.7L1443.6 880.2L1445.2 880.4L1447.4 878.2L1449.4 876.5L1451.2 881.3L1453.5 859.7L1456.1 880.5L1457.6 880.8L1458.9 878.9L1460.2 879.8L1461.9 881.0L1463.8 880.4L1465.9 878.7L1467.5 878.9L1468.7 881.0L1470.5 881.3" stroke="#ff2000" stroke-width="2.3"/>
<path d="M1457.5 857.2L1459.0 850.8L1460.6 860.4L1461.8 855.8L1463.9 872.3L1465.6 868.2L1467.8 868.3L1469.1 863.8L1470.7 835.4L1472.5 866.0" stroke="#ff2000" stroke-width="2.3"/>
<path d="M309.9 880.3L311.7 882.0L313.2 882.4L315.3 882.1L317.0 878.4L318.3 881.3L319.8 882.3L321.5 882.4L323.4 880.4L324.8 882.4L326.3 882.4L328.0 878.3L329.3 882.6L331.5 878.7L333.3 880.1L334.6 880.5L336.7 880.1L338.6 879.0L340.8 877.9L342.7 878.9L344.3 878.0L346.3 877.5L347.9 877.8L349.7 880.1L351.3 881.2L352.6 882.5L354.2 880.7L355.8 882.6L357.3 877.1L358.6 882.6L360.6 879.7L362.7 876.1L364.4 876.7L366.0 880.4L368.2 879.4L369.4 879.8L370.7 880.7L372.1 879.1L373.8 879.8L375.6 881.6L377.7 879.1L379.3 882.5L381.1 881.4L382.5 879.9L383.9 878.6L386.0 882.4L387.8 882.6L389.3 880.8L390.5 878.2L391.8 881.9L393.1 881.9L395.0 882.3L396.2 881.8L398.3 880.5L399.9 882.4L401.4 882.6L403.4 880.1L405.6 879.3L407.5 879.2L408.8 880.2L410.6 879.3L411.9 882.6L413.2 882.2L414.4 882.0L416.3 881.8L418.5 881.0L419.9 882.6L421.8 882.3L423.8 877.3L425.2 875.9L427.4 875.9L429.0 881.4L430.4 879.1L432.0 882.2L434.0 879.6L435.5 882.1L436.8 877.6L438.9 880.5L440.4 876.9L441.9 879.2L443.6 879.5L445.2 882.6L447.2 880.3L448.5 882.3L449.9 882.6L451.2 877.8L452.7 882.6L454.3 881.5L455.9 877.6L457.3 882.6L458.9 877.3L461.0 882.6L462.6 881.1L464.2 876.4L465.6 881.5L467.6 880.3L469.2 879.3L471.2 882.6L473.4 882.6L474.6 881.7L475.9 879.8L477.3 879.6L479.4 881.5L480.8 879.2L482.0 882.5L483.6 876.2L485.5 882.6L486.8 882.6L488.1 876.4L490.1 882.6L491.8 876.1L493.7 882.2L495.2 878.2L497.3 882.4L498.8 881.3L500.6 882.3L501.9 881.6L503.4 878.9L505.2 882.5L506.5 880.4L508.0 880.0L510.1 882.3L512.1 880.4L513.6 877.4L515.0 881.6L517.0 877.9L518.5 882.5L520.2 880.2L522.2 876.7L523.8 882.6L525.0 882.1L526.6 881.5L528.5 877.6L530.0 881.2L531.7 881.5L533.2 877.0L534.9 881.5L536.7 877.0L538.2 880.4L540.2 877.8L542.4 880.4L543.9 876.4L545.1 880.9L547.0 882.5L548.5 876.5L550.2 881.0L551.8 881.5L553.2 882.6L554.7 879.1L556.1 878.5L558.2 882.2L559.6 877.5L561.7 882.6L563.6 882.3L565.0 878.9L566.4 880.8L568.4 882.1" stroke="#ff2000" stroke-width="2.3"/>
<path d="M1169.8 880.0L1171.3 881.3L1173.0 878.7L1175.1 881.4L1177.0 880.6L1178.7 880.7L1180.2 879.3L1181.7 878.1L1183.4 879.0L1185.1 879.3L1187.2 881.3L1188.6 881.3L1190.5 881.4L1192.4 880.4L1193.9 878.4L1195.6 878.0L1197.0 878.8L1198.6 881.4L1200.0 881.4L1201.3 878.8L1202.9 877.9L1205.1 880.3L1206.9 881.0L1209.0 879.0L1210.3 880.6L1211.5 878.9L1213.4 879.4L1215.2 881.4L1216.6 880.7L1218.4 880.0L1220.1 881.3L1221.9 878.0L1223.7 877.9L1225.3 881.3L1226.5 879.3L1227.9 878.0L1229.2 879.3L1230.9 881.3L1232.8 878.3L1234.6 881.2L1236.2 880.2L1238.0 879.8L1239.2 878.8L1240.6 880.8L1242.0 881.3L1243.9 880.6L1246.1 880.4L1247.8 880.7L1249.8 881.1L1251.9 881.1L1253.1 880.2L1255.2 879.8L1256.4 881.4L1258.2 878.9L1260.3 878.7L1262.2 881.4L1263.8 881.0L1265.7 878.8L1267.5 878.3L1269.4 881.2L1271.3 881.3L1273.1 879.2L1274.8 881.4L1277.0 880.3L1278.7 878.1L1280.2 880.3L1281.5 881.4L1282.8 881.2L1284.3 879.8L1285.6 880.0L1287.4 879.4L1289.2 881.4L1290.6 880.5L1291.9 880.5L1293.6 880.3L1294.9 879.1L1296.5 881.3L1298.7 880.3L1300.7 880.8L1302.6 880.7L1304.2 881.3L1306.2 881.1L1308.4 881.4L1309.8 881.3L1311.2 878.4L1313.1 878.1L1314.9 879.9L1316.9 881.1L1318.6 879.6L1320.2 879.9L1322.2 881.1L1324.3 881.2L1325.8 880.8L1327.4 880.1L1329.3 881.0" stroke="#ff2000" stroke-width="2.3"/>
<path d="M349.8 882.3L351.2 881.0L353.0 881.3L355.0 881.6L356.7 882.6L358.3 882.6L359.6 882.1L361.7 881.9L363.9 882.4L365.7 882.5L367.2 881.0L369.3 881.7L371.2 882.3L373.2 882.4L375.0 881.0L376.7 881.6L378.7 881.6L380.1 882.6L382.2 882.0L384.3 882.5L385.6 882.4L387.4 881.6L388.6 881.3L390.5 882.3L392.1 882.5L394.0 882.0L395.6 882.5L397.2 881.9L399.4 882.6L401.0 882.6L402.5 881.5L404.0 881.7L405.3 881.4L406.6 882.6L408.6 881.7L410.3 882.4L412.4 882.4L414.3 882.1L415.7 881.4L416.9 882.6L418.5 880.9L419.8 882.6L421.2 881.0L422.5 882.3L424.3 881.3L425.6 881.7L427.1 881.4L428.9 882.4L430.9 882.3L432.9 881.4L435.1 882.3L436.5 881.2L437.8 882.1L439.9 881.6L441.2 882.6L443.2 882.2L445.2 882.6L446.7 881.6L448.1 881.8L450.0 882.6L452.1 882.6L453.6 882.3L455.1 882.6L456.6 882.6L458.4 880.9L460.4 882.5L461.9 882.5L463.8 881.8L465.5 881.1L467.5 881.9L468.8 881.6L470.2 882.6L471.6 881.0L473.5 882.1L474.8 882.6L476.1 881.4L478.0 882.6L479.9 882.5L481.5 881.5L483.6 881.6L485.2 881.9L487.3 882.3L488.7 882.3L490.8 881.8L492.2 881.4L494.4 882.6L495.6 881.4L497.4 882.1L499.2 881.3L500.7 881.8L502.7 881.5L504.0 882.5L506.0 881.6L508.2 882.6L509.7 882.3L511.2 882.2L512.7 882.3L514.0 882.6L515.5 880.9L517.0 882.6L518.9 881.2L520.8 881.0L522.9 881.0L524.5 882.6L526.7 880.9L528.9 882.6L530.9 882.4L532.5 882.6L533.7 881.5L535.5 882.2L537.1 881.3L538.9 882.5L540.8 882.6L542.8 881.6L545.0 882.1L546.2 881.1L547.7 881.2L549.5 881.6L551.5 882.1L553.5 882.4L554.9 881.4L556.2 881.9L557.4 882.6L559.1 881.8L560.8 882.6L562.2 881.3L563.6 882.6L565.8 881.0L567.4 882.6L569.5 881.7" stroke="#ff0000" stroke-width="2.3"/>
<path d="M1265.7 865.9L1266.9 873.1L1268.1 864.0L1270.2 868.6L1272.3 870.7L1273.5 873.0L1275.5 870.8L1277.3 869.6L1279.4 871.2" stroke="#ff0000" stroke-width="2.3"/>
<path d="M1169.8 880.5L1171.4 881.3L1173.4 880.5L1175.4 880.0L1177.4 881.0L1178.8 880.3L1180.3 881.0L1181.9 880.9L1183.8 881.2L1185.9 879.9L1187.2 880.4L1189.1 881.0L1190.4 880.6L1191.8 881.4L1193.5 880.3L1195.1 880.0L1196.5 879.9L1198.4 881.4L1199.8 880.6L1201.2 881.4L1203.2 880.4L1204.5 881.4L1206.0 880.7L1207.6 879.8L1209.1 880.2L1210.8 880.7L1212.6 881.3L1214.8 880.7L1216.6 880.8L1218.1 881.4L1219.6 880.6L1220.9 880.6L1222.3 880.7L1224.1 881.4L1225.8 880.3L1227.3 881.2L1229.3 881.3L1230.8 880.8L1232.6 881.2L1234.0 880.3L1235.6 880.5L1237.4 881.1L1239.3 881.4L1241.1 879.9L1242.7 880.0L1244.6 881.3L1246.7 880.4L1248.0 881.1L1249.3 881.3L1251.4 880.9L1252.9 880.4L1254.8 880.4L1256.5 881.4L1257.7 881.2L1259.0 880.0L1260.7 880.7L1262.3 880.9L1264.3 879.9L1266.2 880.5L1268.4 881.4L1270.1 881.1L1271.5 880.8L1273.0 880.8L1274.5 881.2L1276.5 880.6L1277.9 880.1L1279.8 881.4L1282.0 880.7L1283.8 881.4L1285.4 881.3L1287.1 880.4L1288.5 880.3L1290.2 881.2L1291.7 881.3L1293.6 879.9L1295.0 880.4L1296.7 880.5L1298.5 881.3L1300.7 880.5L1302.7 881.0L1304.0 881.1L1306.1 880.4L1307.7 881.4L1309.3 881.4L1310.8 881.4L1312.3 881.0L1313.6 880.6L1315.1 880.0L1317.1 880.8L1319.1 881.4L1320.9 880.6L1322.8 881.3L1324.7 880.4L1326.7 880.6L1328.5 880.9" stroke="#ff0000" stroke-width="2.3"/>
<path d="M570.0 882.6L571.4 878.2L573.1 882.3L574.7 880.3L576.0 882.5L578.0 882.0L579.4 881.6L581.0 879.5L582.8 880.1L584.1 882.5L586.0 882.5L587.9 882.4L589.7 879.7L591.4 880.4L592.6 882.6L594.4 882.6L595.6 881.9L596.9 882.6L598.3 881.7L600.3 881.1L602.0 882.6L604.0 880.5L605.8 882.4L607.7 879.6L609.7 878.3L611.6 882.6L612.9 879.4L614.8 878.0L616.9 882.6L618.3 882.5L620.4 881.5L621.8 882.4L623.4 881.9L625.4 882.6L627.0 882.5L628.7 880.4L630.4 882.5L632.6 880.0L634.4 882.5L635.8 881.9L637.1 881.8L638.5 882.6L640.5 881.7L641.9 882.0L643.9 882.4L645.8 882.6L647.2 882.5L648.6 879.4L650.6 882.4L652.8 878.7L654.8 881.4L656.6 879.9L658.2 882.0L660.2 882.5L662.0 880.7L663.9 879.9L665.6 882.3L667.2 882.5L668.7 879.6L670.1 882.6L671.5 881.9L673.2 881.2L674.6 882.5L676.3 880.4L678.2 881.2L680.2 882.5L682.0 880.1L683.7 880.4L685.5 880.7L686.9 880.6L688.7 882.4L690.1 881.1L691.5 881.2L693.4 882.2L695.2 881.8L696.9 881.2L698.8 882.5L700.3 882.6L702.5 881.0L704.3 882.5L706.0 879.8L708.0 882.6L709.9 879.7L712.0 881.3L713.9 878.7L715.4 879.6L716.8 880.9L718.3 881.4L719.5 881.8L721.4 881.6L722.6 879.1L724.7 882.6L726.4 881.9L727.7 882.1L729.0 880.4L730.8 879.9L732.5 879.5L734.0 879.9L735.8 878.0L737.7 882.4L739.3 879.9L741.1 882.3L743.1 880.4L744.9 882.4L746.7 880.4L748.8 881.1L750.6 880.4L752.2 879.3L753.9 878.4L755.7 880.1L757.9 882.5L759.7 878.7L761.9 882.2L763.2 882.6L765.1 882.1L766.4 881.2L768.0 882.4L769.7 881.6L771.0 878.9L773.1 881.9L774.6 882.6L776.3 882.3L778.5 882.1L780.0 878.1L781.7 882.6L783.2 877.9L784.6 881.0L786.4 881.7L788.0 881.7L789.6 881.1L790.9 881.8L792.1 882.6L794.2 882.1L795.7 881.9L797.2 882.4L798.9 881.4L801.1 882.5L802.4 880.1L804.1 879.8L806.0 881.8L807.5 878.4L809.6 882.3L811.2 882.6L813.0 882.6L814.4 878.0L816.2 878.5L817.5 881.6L819.2 881.7L821.0 878.7L822.6 882.6L823.8 879.0L825.1 882.6L826.8 882.6L828.7 879.6L830.1 882.5L831.7 880.4L833.6 882.6L835.5 881.8L837.6 882.6L839.5 879.8L840.9 881.2L842.6 879.8L844.3 880.3L845.7 881.3L847.8 882.6L849.4 881.3L850.8 882.3L852.3 878.7L853.9 881.4L855.8 880.2L857.6 879.0L858.8 878.9L860.3 879.3L861.9 882.4L863.4 882.6L865.2 881.7L866.6 882.4L868.5 879.8L870.0 882.6L871.5 878.6L872.7 882.6L874.5 879.7L876.5 881.3L877.7 881.4L879.1 882.6L881.2 879.7L882.6 878.4L884.2 880.0L885.6 882.6L887.8 882.0L889.8 880.8L891.1 880.3L892.6 881.2L894.1 881.3L895.5 880.5L897.2 881.8L898.6 879.0L900.5 878.2L902.4 882.6L904.4 881.7L906.1 882.6L908.2 880.3L909.4 879.9L910.8 882.6L912.4 880.8L914.2 879.1L915.8 882.5L917.4 881.2L918.6 880.7L920.2 882.4L921.4 880.7L923.4 882.6L925.0 882.2L926.8 878.1L928.2 880.0L929.5 882.4L931.0 878.6L932.5 880.9L934.5 882.4L936.3 878.7L937.7 881.5L939.7 882.6L941.2 881.6L942.9 881.6L944.3 881.8L945.7 882.3L947.9 879.1" stroke="#ff0000" stroke-width="2.3"/>
<path d="M1289.6 872.0L1291.1 862.0L1293.1 870.1L1294.6 875.8L1296.3 870.9L1297.7 867.4L1299.4 853.9L1300.8 872.9L1302.0 871.9L1303.7 852.0L1305.8 875.8L1307.7 861.7L1309.3 861.3L1311.1 864.6L1312.4 863.7L1314.4 876.1L1315.8 867.3L1317.6 851.9L1319.2 863.7L1321.1 877.0L1322.7 871.4L1324.0 873.3L1325.5 869.0L1327.0 854.9L1329.6 863.8" stroke="#bf0000" stroke-width="2.3"/>
<path d="M1330.0 855.1L1332.1 853.8L1334.2 867.8L1336.0 841.5L1337.4 848.5L1339.0 844.1L1340.3 853.1L1342.4 869.8L1344.3 869.2L1345.9 842.5L1348.2 838.4L1349.6 855.3L1350.8 868.3L1352.7 851.4L1354.3 847.5L1356.3 846.5L1358.2 868.9" stroke="#bf0000" stroke-width="2.3"/>
<path d="M307.9 882.0L309.6 881.7L311.9 868.9L313.2 882.0L314.5 880.8L315.7 880.0L317.7 881.0L319.0 882.5L320.3 880.1L322.0 882.6L323.6 880.3L325.6 881.9L327.0 880.9L329.0 882.6L331.0 880.4L333.2 882.1L335.1 881.8L337.1 881.6L339.1 880.9L341.1 882.5L342.9 882.5L345.1 882.4L347.3 881.5L348.8 880.5L350.9 881.3L352.6 881.2L354.2 882.2L355.8 880.8L357.3 882.3L359.0 880.5L361.0 882.6L362.6 881.1L364.5 880.7L365.8 880.8L367.3 880.6L369.1 881.4L370.5 882.2L372.7 882.3L374.2 880.4L375.7 880.6L377.5 880.0L378.8 882.4L380.9 880.6L382.4 882.4L384.6 882.2L386.7 882.3L387.9 881.7L389.2 881.8L390.9 882.2L392.5 881.2L394.1 880.9L396.3 882.6L398.2 880.0L399.5 881.8L401.6 880.1L403.1 880.8L404.8 882.1L406.4 880.6L407.6 880.1L409.8 882.6L411.5 880.6L413.1 882.6L415.3 881.1L416.9 881.8L419.0 882.3L420.8 881.2L422.7 882.3L424.1 880.2L425.8 867.9L427.8 881.9L429.4 882.1L430.7 880.7L432.4 881.2L433.7 880.0L435.4 882.6L436.7 881.3L438.2 880.7L439.7 881.4L441.9 881.9L443.4 882.6L444.6 881.6L446.4 882.5L448.2 881.2L449.7 882.3L451.4 882.5L453.5 882.6L455.4 882.5L457.0 880.2L459.1 882.5L460.3 882.5L462.3 881.5L464.2 882.5L465.9 882.5L467.5 881.5L469.6 879.9L470.8 881.4L472.8 881.6L474.3 880.4L475.5 880.8L477.1 882.4L478.3 882.2L479.9 882.2L481.8 881.5L483.0 882.6L484.6 880.8L486.3 882.6L488.4 882.3L490.2 882.6L492.1 881.5L494.1 880.3L496.0 881.0L497.4 882.4L499.1 881.4L501.0 882.5L503.1 880.2L504.2 882.5L505.6 882.5L507.4 881.6L508.6 882.6L509.7 858.9L512.4 882.2L514.5 882.0L516.6 880.7L518.1 880.8L519.6 882.3L521.5 882.5L522.9 882.5L524.4 882.5L525.6 882.2L527.2 880.5L529.4 881.0L531.5 880.5L532.8 882.5L534.1 882.2L535.6 881.8L536.8 882.6L538.5 882.1L539.6 866.9L541.9 880.6L543.5 882.6L545.5 881.4L547.1 882.3L548.4 880.8L549.8 880.6L551.7 881.2L553.6 882.4L555.4 881.8L557.0 880.9L558.9 882.0L561.0 881.0L562.3 882.3L564.5 881.9L566.3 880.5L568.1 882.6" stroke="#9f0000" stroke-width="2.3"/>
<path d="M499.7 876.1L501.0 874.4L502.9 873.5L504.8 871.9L506.7 872.4L508.7 877.1L510.0 877.4L511.5 870.9L512.7 877.5L514.8 874.9L516.8 877.1L518.9 874.0L520.9 876.1L522.1 874.7L524.1 872.9L526.2 869.7L528.1 877.6L529.9 872.6L531.4 876.4L533.3 873.3L535.5 877.8L537.0 877.1L539.0 870.2" stroke="#9f0000" stroke-width="2.3"/>
<path d="M738.8 788.9L739.9 857.7L741.8 845.2L742.8 799.9L744.4 840.9L746.3 847.1L747.6 846.7L749.8 822.9L751.0 845.8L753.8 843.9L756.0 855.1L758.0 840.7L759.7 859.9L761.2 858.4" stroke="#9f0000" stroke-width="2.3"/>
<path d="M761.8 864.9L763.9 876.1L765.5 868.3L767.3 869.0L769.2 879.5L771.3 878.4L772.8 874.5L774.5 869.9L775.8 871.9L777.4 875.0L779.2 869.1L780.5 878.4L781.9 871.2L784.0 879.8L786.2 876.5L787.7 861.9L789.6 871.6L790.8 873.4L792.4 876.6L794.6 879.5L796.1 860.6L798.3 870.7L800.2 862.3L801.6 879.3L803.8 875.7L805.5 878.5L807.4 861.8L809.4 879.9L811.0 878.0L812.6 879.4L814.7 861.8L816.4 863.6L818.4 879.9L820.4 863.7L822.4 860.3L824.1 872.2L825.3 879.9L827.2 865.3L829.0 864.7L830.5 878.0L832.2 872.7L833.8 878.6L835.9 860.8L837.5 860.4L839.0 863.2L840.9 877.5L842.9 866.0L844.4 870.7L846.0 867.3L847.9 877.9L849.5 870.8L851.1 878.9L853.2 879.8L854.7 871.4L856.9 872.4L859.0 875.0L860.5 871.4L862.2 870.9L863.5 879.0L864.9 860.3L866.2 870.5L867.4 863.0L869.1 879.8L870.7 877.8L872.8 868.8L874.4 878.2L875.9 866.4L877.2 879.4L879.4 876.1L881.3 872.0L883.3 865.3L885.2 877.4L887.1 860.2L889.1 862.3L890.3 872.8L892.4 863.0L894.2 877.9L896.0 864.0L898.2 879.8L899.7 878.3L901.4 875.3L903.3 866.4L904.9 870.8L907.1 879.2L908.9 869.0L910.7 872.5L912.0 869.2L914.0 874.1L916.0 873.8L917.8 862.3L919.1 879.4L920.4 878.5L922.2 878.1L923.7 879.0L925.7 871.1L927.1 879.4L928.5 866.2L929.9 879.8L931.4 870.4L933.1 873.8L934.6 869.8L935.9 866.3L938.1 868.9L940.2 878.9L942.0 861.0L943.3 864.9L945.3 868.0L947.4 879.6" stroke="#9f0000" stroke-width="2.3"/>
<path d="M917.6 855.7L919.1 858.3L920.6 842.9L923.3 871.3L925.1 866.7L926.5 861.7L928.2 873.6L930.1 863.7L932.1 853.3L933.8 875.8L935.9 871.7L938.0 847.0L939.5 871.6L941.5 872.2L943.6 844.8L945.6 854.9L947.2 846.2L949.2 862.3" stroke="#9f0000" stroke-width="2.3"/>
<path d="M950.0 857.1L952.0 841.9L953.7 849.6L955.9 875.7L958.0 843.9L959.8 871.2L961.5 844.0L963.1 868.8L964.8 848.2L966.4 860.0L968.2 869.8L970.0 826.9L971.2 859.6" stroke="#9f0000" stroke-width="2.3"/>
<path d="M1175.8 878.4L1177.3 875.7L1179.8 851.9L1181.3 866.2L1182.7 864.3L1183.9 879.8L1185.8 863.8L1187.0 879.7L1188.7 860.4L1190.1 868.1L1191.9 871.8L1194.0 870.6L1195.7 865.1L1197.1 879.8L1198.9 870.2L1201.0 871.3L1202.7 879.6L1204.8 877.2L1206.6 872.1L1208.3 876.9" stroke="#9f0000" stroke-width="2.3"/>
<path d="M1556.3 877.9L1557.7 789.8L1558.7 801.0L1560.8 812.1L1562.8 849.5L1564.8 851.6L1567.8 877.9" stroke="#9f0000" stroke-width="2.3"/>
<path d="M1568.9 872.9L1570.7 873.3L1572.9 849.5L1574.4 875.9L1575.9 879.1L1577.8 880.6L1580.0 874.9L1581.6 876.4L1583.0 856.6L1585.0 881.0L1586.7 874.2L1588.9 879.8L1590.3 878.1L1591.8 878.6L1593.6 876.2L1594.8 876.7L1596.6 881.3L1598.0 877.3L1599.3 874.2L1601.4 881.3L1603.0 876.2L1604.7 877.3L1606.4 878.7L1608.0 873.4L1610.2 880.9L1611.7 872.1L1613.0 880.0L1614.9 880.8L1616.4 878.0L1618.4 877.7L1620.5 880.1L1622.7 875.8L1624.5 881.3L1626.4 879.4L1628.1 879.5L1629.9 874.9L1631.5 874.2L1633.6 870.8L1636.8 877.6L1638.5 876.3L1639.8 874.3L1641.3 880.6L1642.5 881.3L1643.7 866.8L1646.0 881.0L1647.2 881.1L1648.6 881.3L1650.3 876.8L1652.5 872.8L1654.5 873.4L1656.5 880.7L1658.5 872.0L1659.7 878.1L1661.8 879.8L1663.9 873.4L1665.2 880.6L1666.5 871.9L1667.8 874.2L1669.0 880.2L1670.3 874.7L1671.9 878.1L1673.3 881.3L1674.6 875.7L1676.7 875.1L1678.6 875.7L1680.3 880.3L1682.3 878.5L1684.3 874.8L1685.8 881.2L1687.8 874.1L1689.2 880.0L1691.2 877.6L1692.7 876.5L1694.5 879.8L1695.8 875.4L1697.1 877.3L1698.7 876.8L1700.5 873.0L1702.7 879.3L1704.7 881.2L1706.7 873.4L1708.2 880.8L1709.6 877.9" stroke="#9f0000" stroke-width="2.3"/>
<path d="M1633.6 880.2L1635.3 879.8L1637.0 881.1L1638.5 880.0L1639.9 880.4L1641.9 881.0L1643.8 880.8L1645.3 880.9L1646.7 881.2L1648.1 881.0L1649.9 881.0L1651.9 880.3L1653.2 881.2L1654.6 880.5L1656.2 881.2L1657.8 880.2L1659.2 880.0L1660.4 881.3L1661.7 881.1L1663.4 880.0L1664.6 881.0L1665.8 879.8L1667.1 880.9L1668.4 879.7L1670.4 881.3L1672.3 880.9L1674.4 880.8L1676.1 879.7L1678.2 881.2L1680.0 880.5L1682.0 881.3L1683.8 880.5L1685.2 880.4L1686.5 881.3L1688.6 881.3L1690.2 881.3L1691.8 880.4L1693.5 880.2L1695.1 880.8L1696.9 880.0L1698.6 880.9L1699.9 880.9L1701.4 880.5L1702.8 879.8L1704.3 880.9L1706.5 880.4L1708.2 880.4L1710.4 880.3" stroke="#9f0000" stroke-width="2.3"/>
</g>
<rect x="190.5" y="641.6" width="1521" height="247.8" stroke="#262626" stroke-width="4.2" fill="none"/>
<text class="tk" transform="translate(179.2,901.2) scale(1,1.06)" text-anchor="end">0</text>
<text class="tk" transform="translate(179.2,859.9) scale(1,1.06)" text-anchor="end">0.1</text>
<text class="tk" transform="translate(179.2,818.6) scale(1,1.06)" text-anchor="end">0.2</text>
<text class="tk" transform="translate(179.2,736) scale(1,1.06)" text-anchor="end">0.4</text>
</g>
<g>
<path d="M253.88 897.3V1144.6M317.25 897.3V1144.6M380.62 897.3V1144.6M444 897.3V1144.6M507.38 897.3V1144.6M570.75 897.3V1144.6M634.12 897.3V1144.6M697.5 897.3V1144.6M760.88 897.3V1144.6M824.25 897.3V1144.6M887.62 897.3V1144.6M951 897.3V1144.6M1014.38 897.3V1144.6M1077.75 897.3V1144.6M1141.12 897.3V1144.6M1204.5 897.3V1144.6M1267.88 897.3V1144.6M1331.25 897.3V1144.6M1394.62 897.3V1144.6M1458 897.3V1144.6M1521.38 897.3V1144.6M1584.75 897.3V1144.6M1648.12 897.3V1144.6" stroke="#262626" stroke-opacity="0.15" stroke-width="4.2" fill="none"/>
<path d="M190.5 1119.87H1711.5M190.5 1095.14H1711.5M190.5 1045.68H1711.5M190.5 996.22H1711.5M190.5 946.76H1711.5" stroke="#262626" stroke-opacity="0.15" stroke-width="4.2" fill="none"/>
<path d="M190.5 897.3v17M190.5 1144.6v-17M201.06 897.3v9M201.06 1144.6v-9M211.62 897.3v9M211.62 1144.6v-9M222.19 897.3v9M222.19 1144.6v-9M232.75 897.3v9M232.75 1144.6v-9M243.31 897.3v9M243.31 1144.6v-9M253.88 897.3v17M253.88 1144.6v-17M264.44 897.3v9M264.44 1144.6v-9M275 897.3v9M275 1144.6v-9M285.56 897.3v9M285.56 1144.6v-9M296.12 897.3v9M296.12 1144.6v-9M306.69 897.3v9M306.69 1144.6v-9M317.25 897.3v17M317.25 1144.6v-17M327.81 897.3v9M327.81 1144.6v-9M338.38 897.3v9M338.38 1144.6v-9M348.94 897.3v9M348.94 1144.6v-9M359.5 897.3v9M359.5 1144.6v-9M370.06 897.3v9M370.06 1144.6v-9M380.62 897.3v17M380.62 1144.6v-17M391.19 897.3v9M391.19 1144.6v-9M401.75 897.3v9M401.75 1144.6v-9M412.31 897.3v9M412.31 1144.6v-9M422.88 897.3v9M422.88 1144.6v-9M433.44 897.3v9M433.44 1144.6v-9M444 897.3v17M444 1144.6v-17M454.56 897.3v9M454.56 1144.6v-9M465.12 897.3v9M465.12 1144.6v-9M475.69 897.3v9M475.69 1144.6v-9M486.25 897.3v9M486.25 1144.6v-9M496.81 897.3v9M496.81 1144.6v-9M507.38 897.3v17M507.38 1144.6v-17M517.94 897.3v9M517.94 1144.6v-9M528.5 897.3v9M528.5 1144.6v-9M539.06 897.3v9M539.06 1144.6v-9M549.62 897.3v9M549.62 1144.6v-9M560.19 897.3v9M560.19 1144.6v-9M570.75 897.3v17M570.75 1144.6v-17M581.31 897.3v9M581.31 1144.6v-9M591.88 897.3v9M591.88 1144.6v-9M602.44 897.3v9M602.44 1144.6v-9M613 897.3v9M613 1144.6v-9M623.56 897.3v9M623.56 1144.6v-9M634.12 897.3v17M634.12 1144.6v-17M644.69 897.3v9M644.69 1144.6v-9M655.25 897.3v9M655.25 1144.6v-9M665.81 897.3v9M665.81 1144.6v-9M676.38 897.3v9M676.38 1144.6v-9M686.94 897.3v9M686.94 1144.6v-9M697.5 897.3v17M697.5 1144.6v-17M708.06 897.3v9M708.06 1144.6v-9M718.62 897.3v9M718.62 1144.6v-9M729.19 897.3v9M729.19 1144.6v-9M739.75 897.3v9M739.75 1144.6v-9M750.31 897.3v9M750.31 1144.6v-9M760.88 897.3v17M760.88 1144.6v-17M771.44 897.3v9M771.44 1144.6v-9M782 897.3v9M782 1144.6v-9M792.56 897.3v9M792.56 1144.6v-9M803.12 897.3v9M803.12 1144.6v-9M813.69 897.3v9M813.69 1144.6v-9M824.25 897.3v17M824.25 1144.6v-17M834.81 897.3v9M834.81 1144.6v-9M845.38 897.3v9M845.38 1144.6v-9M855.94 897.3v9M855.94 1144.6v-9M866.5 897.3v9M866.5 1144.6v-9M877.06 897.3v9M877.06 1144.6v-9M887.62 897.3v17M887.62 1144.6v-17M898.19 897.3v9M898.19 1144.6v-9M908.75 897.3v9M908.75 1144.6v-9M919.31 897.3v9M919.31 1144.6v-9M929.88 897.3v9M929.88 1144.6v-9M940.44 897.3v9M940.44 1144.6v-9M951 897.3v17M951 1144.6v-17M961.56 897.3v9M961.56 1144.6v-9M972.12 897.3v9M972.12 1144.6v-9M982.69 897.3v9M982.69 1144.6v-9M993.25 897.3v9M993.25 1144.6v-9M1003.81 897.3v9M1003.81 1144.6v-9M1014.38 897.3v17M1014.38 1144.6v-17M1024.94 897.3v9M1024.94 1144.6v-9M1035.5 897.3v9M1035.5 1144.6v-9M1046.06 897.3v9M1046.06 1144.6v-9M1056.62 897.3v9M1056.62 1144.6v-9M1067.19 897.3v9M1067.19 1144.6v-9M1077.75 897.3v17M1077.75 1144.6v-17M1088.31 897.3v9M1088.31 1144.6v-9M1098.88 897.3v9M1098.88 1144.6v-9M1109.44 897.3v9M1109.44 1144.6v-9M1120 897.3v9M1120 1144.6v-9M1130.56 897.3v9M1130.56 1144.6v-9M1141.12 897.3v17M1141.12 1144.6v-17M1151.69 897.3v9M1151.69 1144.6v-9M1162.25 897.3v9M1162.25 1144.6v-9M1172.81 897.3v9M1172.81 1144.6v-9M1183.38 897.3v9M1183.38 1144.6v-9M1193.94 897.3v9M1193.94 1144.6v-9M1204.5 897.3v17M1204.5 1144.6v-17M1215.06 897.3v9M1215.06 1144.6v-9M1225.62 897.3v9M1225.62 1144.6v-9M1236.19 897.3v9M1236.19 1144.6v-9M1246.75 897.3v9M1246.75 1144.6v-9M1257.31 897.3v9M1257.31 1144.6v-9M1267.88 897.3v17M1267.88 1144.6v-17M1278.44 897.3v9M1278.44 1144.6v-9M1289 897.3v9M1289 1144.6v-9M1299.56 897.3v9M1299.56 1144.6v-9M1310.12 897.3v9M1310.12 1144.6v-9M1320.69 897.3v9M1320.69 1144.6v-9M1331.25 897.3v17M1331.25 1144.6v-17M1341.81 897.3v9M1341.81 1144.6v-9M1352.38 897.3v9M1352.38 1144.6v-9M1362.94 897.3v9M1362.94 1144.6v-9M1373.5 897.3v9M1373.5 1144.6v-9M1384.06 897.3v9M1384.06 1144.6v-9M1394.62 897.3v17M1394.62 1144.6v-17M1405.19 897.3v9M1405.19 1144.6v-9M1415.75 897.3v9M1415.75 1144.6v-9M1426.31 897.3v9M1426.31 1144.6v-9M1436.88 897.3v9M1436.88 1144.6v-9M1447.44 897.3v9M1447.44 1144.6v-9M1458 897.3v17M1458 1144.6v-17M1468.56 897.3v9M1468.56 1144.6v-9M1479.12 897.3v9M1479.12 1144.6v-9M1489.69 897.3v9M1489.69 1144.6v-9M1500.25 897.3v9M1500.25 1144.6v-9M1510.81 897.3v9M1510.81 1144.6v-9M1521.38 897.3v17M1521.38 1144.6v-17M1531.94 897.3v9M1531.94 1144.6v-9M1542.5 897.3v9M1542.5 1144.6v-9M1553.06 897.3v9M1553.06 1144.6v-9M1563.62 897.3v9M1563.62 1144.6v-9M1574.19 897.3v9M1574.19 1144.6v-9M1584.75 897.3v17M1584.75 1144.6v-17M1595.31 897.3v9M1595.31 1144.6v-9M1605.88 897.3v9M1605.88 1144.6v-9M1616.44 897.3v9M1616.44 1144.6v-9M1627 897.3v9M1627 1144.6v-9M1637.56 897.3v9M1637.56 1144.6v-9M1648.12 897.3v17M1648.12 1144.6v-17M1658.69 897.3v9M1658.69 1144.6v-9M1669.25 897.3v9M1669.25 1144.6v-9M1679.81 897.3v9M1679.81 1144.6v-9M1690.38 897.3v9M1690.38 1144.6v-9M1700.94 897.3v9M1700.94 1144.6v-9M1711.5 897.3v17M1711.5 1144.6v-17M190.5 1144.6h17M1711.5 1144.6h-17M190.5 1119.87h17M1711.5 1119.87h-17M190.5 1095.14h17M1711.5 1095.14h-17M190.5 1045.68h17M1711.5 1045.68h-17M190.5 996.22h17M1711.5 996.22h-17M190.5 946.76h17M1711.5 946.76h-17M190.5 1139.65h9M1711.5 1139.65h-9M190.5 1134.71h9M1711.5 1134.71h-9M190.5 1129.76h9M1711.5 1129.76h-9M190.5 1124.82h9M1711.5 1124.82h-9M190.5 1114.92h9M1711.5 1114.92h-9M190.5 1109.98h9M1711.5 1109.98h-9M190.5 1105.03h9M1711.5 1105.03h-9M190.5 1100.09h9M1711.5 1100.09h-9M190.5 1082.77h9M1711.5 1082.77h-9M190.5 1070.41h9M1711.5 1070.41h-9M190.5 1058.04h9M1711.5 1058.04h-9M190.5 1033.31h9M1711.5 1033.31h-9M190.5 1020.95h9M1711.5 1020.95h-9M190.5 1008.58h9M1711.5 1008.58h-9M190.5 983.85h9M1711.5 983.85h-9M190.5 971.49h9M1711.5 971.49h-9M190.5 959.12h9M1711.5 959.12h-9M190.5 934.39h9M1711.5 934.39h-9M190.5 922.03h9M1711.5 922.03h-9M190.5 909.66h9M1711.5 909.66h-9M190.5 897.3h9M1711.5 897.3h-9" stroke="#262626" stroke-width="4.2" fill="none"/>
<clipPath id="c_sig"><rect x="190.5" y="897.3" width="1521" height="247.3"/></clipPath>
<g clip-path="url(#c_sig)" fill="none" stroke-linejoin="round" stroke-linecap="round">
<path d="M1542.5 1135.2L1545.6 1016.7L1547.6 1135.2L1558.9 1135.2L1560.9 1069.8L1563.0 1135.2" stroke="#0000bf" stroke-width="2.3"/>
<path d="M190.0 1134.6L192.0 1134.5L194.0 1133.9L196.0 1134.7L198.0 1134.8L200.0 1135.0L202.0 1134.5L204.0 1135.3L206.0 1135.4L208.0 1134.3L210.0 1132.7L212.0 1134.0L214.0 1135.0L216.0 1134.6L218.0 1135.6L220.0 1133.9L222.0 1135.3L224.0 1135.1L226.0 1134.8L228.0 1135.2L230.0 1134.6L232.0 1134.9L234.0 1134.9L236.0 1135.3L238.0 1136.5L240.0 1136.0L242.0 1135.1L244.0 1136.0L246.0 1135.7L248.0 1135.7L250.0 1136.1L252.0 1135.6L254.0 1135.2L256.0 1136.2L258.0 1135.1L260.0 1135.9L262.0 1136.1L264.0 1135.7L266.0 1136.8L268.0 1137.7L270.0 1136.2L272.0 1137.5L274.0 1136.2L276.0 1136.4L278.0 1135.4L280.0 1135.8L282.0 1135.3L284.0 1135.8L286.0 1135.1L288.0 1134.3L290.0 1133.0L292.0 1134.7L294.0 1136.1L296.0 1136.8L298.0 1137.7L300.0 1136.8L302.0 1137.6L304.0 1137.3L306.0 1137.8L308.0 1138.4" stroke="#0000ff" stroke-width="2.3"/>
<path d="M429.7 1136.7L431.7 1135.6L433.7 1135.0L435.7 1134.4L437.7 1135.7L439.7 1136.1L441.7 1135.7L443.7 1135.5L445.7 1136.3L447.7 1137.2L449.7 1137.0L451.7 1136.3L453.7 1135.9L455.7 1135.8L457.7 1136.5L459.7 1136.1L461.7 1134.9L463.7 1134.6L465.7 1134.5L467.7 1134.0L469.7 1133.7L471.7 1131.0L473.7 1135.9L475.7 1137.0L477.7 1137.1L479.7 1136.7L481.7 1135.9L483.7 1135.7L485.7 1135.9L487.7 1134.4L489.7 1135.5L491.7 1135.4L493.7 1134.5L495.7 1137.1L497.7 1137.3L499.7 1136.9L501.7 1134.4L503.7 1135.8L505.7 1136.0L507.7 1135.0L509.7 1134.2L511.7 1134.7L513.7 1135.9L515.7 1136.2L517.7 1135.8L519.7 1135.7L521.7 1136.5L523.7 1135.5L525.7 1135.9L527.7 1135.5L529.7 1136.0L531.7 1136.3L533.7 1135.4L535.7 1134.4L537.7 1135.2L539.7 1135.4L541.7 1134.5L543.7 1135.1L545.7 1134.9L547.7 1135.3L549.7 1133.7L551.7 1134.5L553.7 1133.4L555.7 1135.2L557.7 1134.8L559.6 1128.0L561.7 1133.2L563.7 1133.6L565.7 1134.6L567.6 1125.0" stroke="#0000ff" stroke-width="2.3"/>
<path d="M590.0 1135.3L592.0 1134.4L594.0 1134.4L596.0 1133.1L598.0 1133.2L600.0 1133.5L602.0 1132.5L604.0 1133.9L606.0 1134.1L608.0 1132.5L610.0 1132.4L612.0 1132.2L614.0 1132.8L616.0 1134.0L617.9 1131.0L620.0 1134.9L622.0 1136.2L624.0 1134.0L626.0 1132.6L628.0 1132.7L629.9 1129.6" stroke="#0000ff" stroke-width="2.3"/>
<path d="M759.8 1136.8L761.8 1136.9L763.8 1136.9L765.8 1135.4L767.8 1136.4L769.8 1136.8L771.8 1134.7L773.8 1135.2L775.8 1135.8L777.8 1135.1L779.8 1135.6L781.8 1134.8L783.8 1136.4L785.8 1135.9L787.8 1136.0L789.8 1136.4L791.8 1136.2L793.8 1135.7L795.8 1137.8L797.8 1138.0L799.8 1137.1L801.8 1136.2L803.8 1136.1L805.8 1136.8L807.8 1136.9L809.8 1136.7L811.8 1134.8L813.8 1137.2L815.8 1136.2L817.8 1136.2L819.8 1136.9L821.7 1131.0L823.8 1137.0L825.8 1137.0L827.8 1137.4L829.8 1136.4L831.8 1136.5L833.8 1137.7L835.8 1137.0L837.8 1136.4L839.8 1135.9L841.8 1136.1L843.8 1137.4L845.8 1135.3L847.8 1136.2L849.8 1136.8L851.8 1137.1L853.8 1136.8L855.8 1137.9L857.8 1136.5L859.8 1137.2L861.8 1137.2L863.8 1136.5L865.8 1136.3L867.8 1137.3L869.8 1138.5L871.8 1138.6L873.8 1136.1L875.8 1134.7L877.8 1136.3L879.8 1136.2L881.8 1136.7L883.8 1137.3L885.8 1134.0L887.8 1133.6L889.8 1133.5L891.8 1135.1L893.8 1136.0L895.8 1135.2L897.8 1135.4L899.8 1136.3L901.8 1136.5L903.8 1135.3L905.8 1135.0L907.8 1135.1L909.8 1134.5L911.8 1134.4L913.8 1133.3L915.8 1136.3L917.8 1135.4L919.8 1137.4L921.8 1136.0L923.8 1133.9L925.8 1134.1L927.8 1136.0L929.8 1135.6L931.8 1135.2L933.8 1135.9L935.8 1134.9L937.8 1134.1L939.6 1131.0L941.8 1135.0L943.8 1135.9L945.8 1135.0L947.8 1134.9" stroke="#0000ff" stroke-width="2.3"/>
<path d="M1149.8 1136.5L1151.8 1136.8L1153.8 1136.0L1155.8 1135.2L1157.8 1136.9L1159.8 1136.6L1161.8 1136.7L1163.8 1136.4L1165.8 1136.3L1167.8 1135.5" stroke="#0000ff" stroke-width="2.3"/>
<path d="M1452.6 1135.4L1454.6 1135.6L1456.6 1135.6L1458.6 1135.5L1460.6 1135.0L1462.6 1135.5L1464.6 1135.5L1466.6 1133.9L1468.6 1134.8L1470.6 1134.9L1472.6 1135.7L1474.6 1137.2L1476.6 1135.9L1478.6 1135.0L1480.6 1134.5L1482.6 1135.4L1484.6 1134.6L1486.6 1132.5L1488.6 1134.1L1490.6 1134.0L1492.6 1135.1L1494.6 1135.3L1496.6 1134.3L1498.6 1134.4L1500.6 1134.6L1502.6 1136.2L1504.6 1135.4L1506.6 1135.9L1508.6 1134.2L1510.6 1134.6L1512.6 1136.2L1514.6 1135.4L1516.6 1135.7L1518.6 1134.7L1520.6 1136.1L1522.6 1135.0L1524.6 1135.0L1526.6 1134.0L1528.6 1134.2L1530.6 1133.9L1532.6 1132.6L1534.6 1133.3L1536.6 1134.7L1538.6 1135.7L1540.6 1135.6" stroke="#0000ff" stroke-width="2.3"/>
<path d="M1029.9 1136.5L1031.9 1135.9L1033.9 1136.4L1035.9 1134.7L1037.9 1135.1L1039.9 1135.2L1041.9 1136.1L1043.9 1136.1L1045.9 1135.0L1047.9 1135.2L1049.9 1135.7L1051.9 1134.6L1053.9 1135.7L1055.9 1134.0L1057.9 1134.6L1059.9 1135.8L1061.9 1136.4L1063.9 1135.4L1065.9 1135.2L1067.9 1135.8L1069.9 1131.0" stroke="#0020ff" stroke-width="2.3"/>
<path d="M1539.5 1135.2L1543.5 1063.7L1546.6 1135.2L1552.3 1135.2L1554.2 885.9L1556.0 1135.2L1580.3 1135.2L1582.0 1035.1L1583.4 1135.2" stroke="#0020ff" stroke-width="2.3"/>
<path d="M571.0 1121.0L573.0 1130.0L576.0 1133.6L578.0 1128.0L580.0 1132.8L582.0 1133.0L584.0 1133.2L586.0 1135.0L588.0 1134.7L590.0 1134.5L592.0 1133.2L594.0 1132.3L596.0 1131.2L598.0 1132.0L600.0 1132.5L602.0 1132.6L604.0 1134.4L606.0 1132.6L608.0 1132.9L610.0 1133.2L612.0 1134.0L614.0 1133.1L616.0 1133.6L618.0 1132.7L620.0 1131.6L622.0 1130.8L624.0 1131.5L626.0 1133.1L628.0 1131.6L630.0 1133.2L632.0 1133.4L634.0 1134.4L636.0 1133.2L638.0 1132.6L640.0 1131.9L642.0 1133.2L644.0 1133.2L646.0 1132.7L648.0 1131.4L650.0 1131.6L652.0 1131.7L654.0 1132.1L656.0 1133.4L658.0 1133.4L660.0 1133.0L662.0 1132.5L664.0 1133.5L666.0 1134.3L668.0 1133.9L670.0 1131.7L672.0 1133.1L674.0 1132.7L676.0 1133.8L678.0 1132.4L680.0 1131.9L682.0 1133.5L684.0 1134.2L686.0 1133.5L688.0 1131.5L690.0 1131.7L692.0 1133.7L694.0 1134.3L696.0 1132.0L698.0 1133.6L700.0 1132.8L702.0 1133.6L704.0 1133.0L706.0 1133.3L708.0 1132.4L710.0 1134.1L712.0 1133.1L714.0 1133.7L716.0 1135.0L718.0 1135.3L720.0 1136.3L722.0 1136.3L724.0 1134.3L726.0 1135.4L728.0 1134.3" stroke="#009fff" stroke-width="2.3"/>
<path d="M645.9 1134.1L647.9 1135.3L649.9 1134.6L651.9 1132.9L653.9 1133.5L655.9 1131.2L657.9 1132.0L659.9 1133.1" stroke="#009fff" stroke-width="2.3"/>
<path d="M669.9 1135.4L671.9 1136.5L673.9 1135.6L675.9 1135.9L677.9 1135.5L679.9 1134.1L681.9 1134.6L683.9 1134.8L685.9 1134.8L687.9 1135.9L689.9 1135.8L691.9 1135.7L693.9 1136.1L695.9 1136.9L697.9 1136.7L699.9 1136.6L701.9 1137.4L703.9 1135.2L705.9 1134.5L707.9 1133.2L709.9 1133.1L711.9 1132.7L713.9 1133.7L715.9 1133.5L717.9 1134.0L719.9 1135.7L721.9 1135.2L723.9 1135.3L725.9 1135.8L727.9 1134.9" stroke="#009fff" stroke-width="2.3"/>
<path d="M839.7 1132.6L841.7 1132.4L843.7 1133.5L845.7 1134.3L847.7 1134.8L849.7 1135.2L851.7 1135.5L853.7 1136.0L855.7 1136.0L857.7 1136.2" stroke="#009fff" stroke-width="2.3"/>
<path d="M950.0 1136.5L952.0 1136.8L954.0 1138.5L956.0 1137.5L958.0 1137.2L960.0 1137.3L962.0 1137.1L964.0 1137.2L966.0 1137.1L968.0 1137.4L970.0 1137.5L972.0 1137.3L974.0 1137.4L976.0 1136.5L978.0 1135.7L980.0 1137.1L982.0 1136.4L984.0 1137.4L986.0 1136.8L988.0 1136.7L990.0 1137.6L992.0 1136.7L994.0 1136.6L996.0 1135.3L998.0 1136.1L1000.0 1136.0L1002.0 1136.6L1004.0 1134.9L1006.0 1135.0L1008.0 1136.5L1010.0 1136.6L1012.0 1137.2L1014.0 1137.0L1016.0 1136.6L1018.0 1137.3L1020.0 1137.6L1022.0 1136.8L1024.0 1136.2L1026.0 1136.5L1028.0 1136.5L1030.0 1136.7L1032.0 1136.8L1034.0 1136.2L1036.0 1136.5L1038.0 1136.5L1040.0 1137.0L1042.0 1135.6L1044.0 1135.8L1046.0 1135.5L1048.0 1136.5L1050.0 1136.8L1052.0 1136.4L1054.0 1137.4L1056.0 1137.7L1058.0 1138.4L1060.0 1138.7L1062.0 1138.3L1064.0 1137.4L1066.0 1137.4L1068.0 1136.4L1070.0 1136.6L1072.0 1136.9L1074.0 1136.3L1076.0 1137.0L1078.0 1137.8L1080.0 1136.8L1082.0 1136.5L1084.0 1137.2L1086.0 1137.5L1088.0 1137.5L1090.0 1137.7L1092.0 1137.8L1094.0 1138.2L1096.0 1138.7L1098.0 1139.2L1100.0 1137.5L1102.0 1137.8L1104.0 1136.9L1106.0 1137.7L1108.0 1137.0L1110.0 1136.1L1112.0 1136.6L1114.0 1136.8L1116.0 1137.0L1118.0 1136.3L1120.0 1137.2L1122.0 1137.1L1124.0 1137.3L1126.0 1137.4L1128.0 1137.8L1130.0 1138.1L1132.0 1137.9L1134.0 1137.4L1136.0 1137.3L1138.0 1136.4L1140.0 1136.2L1142.0 1137.4L1144.0 1136.9L1146.0 1137.4L1148.0 1136.6L1150.0 1137.0L1152.0 1137.6L1154.0 1138.4L1156.0 1138.4L1158.0 1138.0L1160.0 1137.9L1162.0 1137.8L1164.0 1137.1L1166.0 1136.8L1168.0 1137.2L1170.0 1136.9L1172.0 1135.9L1174.0 1135.5L1176.0 1136.4L1178.0 1136.0L1180.0 1136.8L1182.0 1137.3L1184.0 1137.1L1186.0 1137.2L1188.0 1135.6L1190.0 1137.0L1192.0 1136.5L1194.0 1137.0L1196.0 1136.4L1198.0 1137.3L1200.0 1137.2L1202.0 1137.3L1204.0 1136.3L1206.0 1136.4L1208.0 1135.8L1210.0 1135.7L1212.0 1136.1L1214.0 1136.3L1216.0 1137.3L1218.0 1136.9L1220.0 1136.7L1222.0 1137.4L1224.0 1137.3L1226.0 1137.2L1228.0 1136.6L1230.0 1136.2L1232.0 1137.4L1234.0 1135.5L1236.0 1135.6L1238.0 1136.6L1240.0 1136.7L1242.0 1136.8L1244.0 1137.0L1246.0 1137.4L1248.0 1136.5L1250.0 1135.5L1252.0 1135.8L1254.0 1136.6L1256.0 1136.7L1258.0 1137.1L1260.0 1137.9L1262.0 1136.5L1264.0 1137.7L1266.0 1136.9L1268.0 1136.9L1270.0 1137.7L1272.0 1136.8L1274.0 1137.1L1276.0 1136.4L1278.0 1136.4L1280.0 1136.1L1282.0 1136.8L1284.0 1137.8L1286.0 1138.0L1288.0 1136.9L1290.0 1136.5L1292.0 1136.1L1294.0 1136.5L1296.0 1137.3L1298.0 1136.1L1300.0 1136.1L1302.0 1135.8L1304.0 1136.1L1306.0 1136.5L1308.0 1138.2L1310.0 1137.8L1312.0 1138.2L1314.0 1138.2L1316.0 1137.3L1318.0 1137.1L1320.0 1137.8L1322.0 1137.1L1324.0 1137.4L1326.0 1136.4L1328.0 1136.9" stroke="#009fff" stroke-width="2.3"/>
<path d="M1546.6 1135.2L1549.7 955.4L1551.7 1135.2L1567.0 1135.2L1569.1 978.9L1570.7 1135.2" stroke="#009fff" stroke-width="2.3"/>
<path d="M1585.4 1134.0L1587.4 1132.8L1589.4 1133.6L1591.4 1134.3L1593.4 1136.0L1595.4 1132.9L1597.4 1134.0L1599.4 1133.3L1601.4 1132.0L1603.4 1134.3L1605.4 1135.1L1607.4 1134.5L1609.4 1134.7L1611.4 1133.2L1613.4 1134.7L1615.4 1135.7L1617.4 1134.4L1619.4 1135.2L1621.4 1135.1L1623.4 1134.2L1625.4 1134.4L1627.4 1134.4L1629.4 1134.6L1631.4 1133.6L1633.4 1133.3L1635.4 1134.3L1637.4 1133.6L1639.4 1133.0L1641.4 1134.7L1643.4 1134.1L1645.4 1133.0L1647.4 1133.9L1649.4 1133.3L1651.4 1133.4L1653.4 1134.2L1655.4 1134.0L1657.4 1132.7L1659.4 1132.9L1661.4 1132.5L1663.4 1132.9L1665.4 1131.9L1667.4 1131.6L1669.4 1132.0L1671.4 1133.0L1673.4 1133.9L1675.4 1134.4L1677.4 1136.2L1679.4 1136.0L1681.4 1134.8L1683.4 1134.6L1685.4 1134.2L1687.4 1135.8L1689.4 1134.2L1691.4 1133.1L1693.4 1131.8L1695.4 1133.0L1697.4 1133.2L1699.4 1133.4L1701.4 1133.8L1703.4 1133.3L1705.4 1133.8L1707.4 1134.5L1709.4 1133.5L1711.4 1134.6L1713.4 1134.2" stroke="#009fff" stroke-width="2.3"/>
<path d="M231.0 1121.7L233.0 1123.8L235.0 1125.1L237.0 1127.4L239.0 1126.2L241.0 1125.5L243.0 1126.7L245.0 1127.5L247.0 1129.4L249.0 1129.5L251.0 1127.4L253.0 1127.7L255.0 1126.5L257.0 1125.5L259.0 1125.1L261.0 1125.1L263.0 1123.6L265.0 1123.1L267.0 1126.6L269.0 1128.3L271.0 1128.8L273.0 1128.7L275.0 1129.3L277.0 1128.1L279.0 1128.7L281.0 1129.2L283.0 1129.2L285.0 1129.0L287.0 1128.9L289.0 1129.1L291.0 1129.1L293.0 1130.9L295.0 1132.9L297.0 1130.5L299.0 1132.1L301.0 1132.5L303.0 1130.5L305.0 1131.3L307.0 1132.1L309.0 1133.1L311.0 1132.5L313.0 1131.9L315.0 1133.3L317.0 1132.5L319.0 1133.6L321.0 1134.1L323.0 1132.2L325.0 1133.3L327.0 1132.9L329.0 1132.1L331.0 1131.1L333.0 1130.7L335.0 1130.9L337.0 1130.1L339.0 1129.6L341.0 1129.7L343.0 1129.6L345.0 1131.8L347.0 1131.3L349.0 1129.2L351.0 1128.9L353.0 1130.1L355.0 1131.6L357.0 1132.1L359.0 1131.1L361.0 1132.4L363.0 1130.4L365.0 1128.0L367.0 1128.5L369.0 1129.7L371.0 1131.8L373.0 1129.8L375.0 1128.4L377.0 1128.8L379.0 1127.7L381.0 1127.7L383.0 1126.7L385.0 1126.0L387.0 1126.4L389.0 1126.4L391.0 1126.1L393.0 1125.7L395.0 1127.1L397.0 1124.6L399.0 1124.3L401.0 1126.2L403.0 1124.9L405.0 1125.1L407.0 1123.5L409.0 1125.5L411.0 1125.8L413.0 1124.6L415.0 1124.7L417.0 1126.0L419.0 1124.4L421.0 1121.6L423.0 1122.3L425.0 1124.3L427.0 1124.7L429.0 1124.8" stroke="#00dfff" stroke-width="2.3"/>
<path d="M190.0 1135.2L192.0 1135.4L194.0 1136.1L196.0 1135.8L198.0 1134.4L200.0 1134.4L202.0 1134.0L204.0 1134.7L206.0 1135.6L208.0 1133.6L210.0 1133.9L212.0 1133.6L214.0 1134.2L216.0 1135.2L218.0 1135.3L220.0 1135.8L222.0 1136.3L224.0 1136.0L226.0 1135.7L228.0 1134.8" stroke="#00dfff" stroke-width="2.3"/>
<path d="M1002.9 1132.4L1004.9 1131.7L1006.9 1131.1L1008.9 1133.0L1010.9 1132.9L1012.9 1131.9L1014.9 1133.4L1016.9 1133.3L1018.9 1132.5L1020.9 1132.8L1022.9 1134.4L1024.9 1134.8L1026.9 1133.9L1028.9 1134.4" stroke="#00dfff" stroke-width="2.3"/>
<path d="M1135.8 1128.6L1137.8 1130.2L1139.8 1130.2L1141.8 1129.2L1143.8 1130.9L1145.8 1132.0L1147.8 1131.0L1149.8 1128.4L1151.8 1127.4L1153.8 1129.3L1155.8 1131.1L1157.8 1131.2L1159.8 1129.3L1161.8 1128.9L1163.8 1130.1L1165.8 1129.7L1167.8 1130.7L1169.8 1131.0L1171.8 1131.0L1173.8 1131.7L1175.8 1131.0L1177.8 1129.7L1179.8 1129.8L1181.8 1129.7L1183.8 1129.9L1185.8 1129.3L1187.8 1128.0L1189.8 1129.7L1191.8 1131.1L1193.8 1130.2L1195.8 1130.5L1197.8 1131.1L1199.8 1129.0L1201.8 1130.1L1203.8 1131.2L1205.8 1130.8L1207.8 1128.8L1209.8 1131.6L1211.8 1130.9L1213.8 1132.8L1215.8 1131.6L1217.8 1130.4L1219.8 1130.7L1221.8 1128.9L1223.8 1128.7L1225.8 1127.4L1227.8 1129.1L1229.8 1130.4L1231.7 1128.0L1233.7 1126.0L1236.7 1130.0L1239.8 1129.9L1241.8 1130.5L1243.8 1130.4L1245.8 1129.9L1247.8 1128.3L1249.8 1128.6L1251.8 1132.7L1253.8 1130.5L1255.8 1130.6L1257.8 1131.5L1259.8 1129.0L1261.8 1128.8L1263.8 1129.2L1265.8 1130.3L1267.8 1129.4L1269.8 1130.6L1271.8 1129.7L1273.8 1130.2L1275.8 1129.1L1277.8 1129.0L1279.8 1129.0L1281.8 1130.2L1283.8 1132.5L1285.8 1132.7L1287.8 1134.3L1289.8 1133.4L1291.8 1131.2L1293.8 1131.8L1295.8 1129.9L1297.8 1128.8L1299.8 1129.7L1301.8 1128.9L1303.8 1129.8L1305.8 1129.7L1307.8 1128.4L1309.8 1128.4L1311.8 1129.6L1313.8 1129.7L1315.8 1129.9L1317.8 1131.6L1319.8 1132.4L1321.8 1130.2L1323.8 1130.4L1325.8 1131.5L1327.8 1132.3" stroke="#00dfff" stroke-width="2.3"/>
<path d="M240.9 1130.3L242.9 1129.6L244.9 1128.7L246.9 1131.1L248.9 1131.4L250.9 1131.3L252.9 1130.5L254.9 1129.7L256.9 1132.1L258.9 1130.7L260.9 1131.3L262.9 1130.3L264.9 1131.0L266.9 1133.5L268.9 1130.4L270.9 1130.1L272.9 1132.6L274.9 1130.5L276.9 1129.4L278.9 1130.7L280.9 1129.0" stroke="#00ffff" stroke-width="2.3"/>
<path d="M329.9 1130.0L331.9 1131.1L333.9 1130.6L335.9 1130.4L337.9 1130.8L339.9 1131.3L341.9 1133.6L343.9 1132.8L345.9 1130.4L347.9 1132.1L349.9 1132.5L351.9 1131.3L353.9 1131.6L355.9 1133.3L357.9 1132.2L359.9 1130.6L361.9 1129.1L363.9 1130.3L365.9 1128.9L367.9 1129.4" stroke="#dfff20" stroke-width="2.3"/>
<path d="M381.8 1133.7L383.8 1134.1L385.8 1134.2L387.8 1135.3L389.8 1134.7L391.8 1134.8L393.8 1134.0L395.8 1134.3L397.8 1133.1L399.8 1134.2L401.8 1135.2L403.8 1134.2L405.8 1134.3L407.8 1135.2L409.8 1133.7L411.8 1132.4L413.8 1132.1L415.8 1134.1L417.8 1133.0L419.8 1132.9L421.8 1134.1L423.8 1133.9L425.8 1133.8L427.8 1133.9" stroke="#dfff20" stroke-width="2.3"/>
<path d="M499.7 1133.0L501.7 1129.9L503.7 1132.1L505.7 1131.8L507.7 1130.7L509.7 1130.2L511.7 1131.3L513.7 1129.5L515.7 1129.5L517.7 1130.0L519.7 1129.0L521.7 1131.2L523.7 1129.7L525.7 1129.3L527.7 1128.9L529.7 1127.7L531.7 1128.8" stroke="#dfff20" stroke-width="2.3"/>
<path d="M1141.8 1131.1L1143.8 1130.8L1145.8 1132.6L1147.8 1132.2L1149.8 1132.7L1151.8 1132.6L1153.8 1134.0L1155.8 1131.8L1157.8 1133.5L1159.8 1134.3L1161.8 1131.6L1163.8 1131.9L1165.8 1133.0L1167.8 1134.0" stroke="#dfff20" stroke-width="2.3"/>
<path d="M1340.2 1135.2L1345.3 1109.7L1347.4 1135.2L1350.4 1114.8L1352.5 1135.2L1370.9 1134.2L1375.0 1125.0L1377.0 1024.9L1379.0 1125.0L1381.1 1131.1L1383.1 1014.7L1385.2 1131.1L1391.3 1133.2" stroke="#dfff20" stroke-width="2.3"/>
<path d="M1391.3 1133.8L1393.3 1134.2L1395.3 1135.1L1397.3 1135.4L1399.3 1132.6L1401.3 1133.9L1403.3 1135.1L1405.3 1134.0L1407.3 1134.6L1409.3 1133.2L1411.3 1133.7L1413.3 1129.9L1415.3 1130.9L1417.3 1131.0L1419.3 1130.0L1421.3 1130.3L1423.3 1130.6L1425.3 1129.3L1427.3 1131.5L1429.3 1132.7L1431.3 1130.5L1433.3 1131.6L1435.3 1131.3L1437.3 1130.6L1439.3 1130.5L1441.3 1130.7L1443.3 1132.8L1445.3 1133.1" stroke="#dfff20" stroke-width="2.3"/>
<path d="M509.7 1135.4L511.7 1136.3L513.7 1135.8L515.7 1136.7L517.7 1136.1L519.7 1135.7L521.7 1136.6L523.7 1137.3L525.7 1136.6L527.7 1136.5L529.7 1137.7L531.7 1137.2L533.7 1137.5L535.7 1137.1L537.7 1136.9L539.7 1135.6L541.7 1134.3L543.7 1134.3L545.7 1134.4L547.6 1132.0L549.7 1135.3L551.7 1136.3L553.7 1136.2L555.7 1135.5L557.7 1135.3L559.7 1136.4L561.7 1136.8L563.7 1135.4L565.7 1136.5L567.7 1135.4" stroke="#ffdf00" stroke-width="2.3"/>
<path d="M669.9 1138.2L671.9 1138.3L673.9 1137.3L675.9 1136.9L677.9 1136.6L679.9 1137.1L681.9 1138.1L683.9 1136.5L685.9 1136.4L687.9 1136.5L689.9 1136.1L691.9 1136.8L693.9 1137.0L695.9 1136.2L697.9 1135.9L699.9 1136.2L701.9 1136.2L703.9 1137.0L705.9 1136.7L707.9 1136.4L709.9 1136.0L711.9 1136.4L713.9 1137.0L715.9 1137.1L717.9 1135.8L719.9 1136.7L721.9 1136.6L723.9 1137.8L725.9 1137.4L727.9 1138.3L729.9 1138.3L731.9 1138.2L733.9 1137.0" stroke="#ffdf00" stroke-width="2.3"/>
<path d="M1354.5 1136.2L1357.6 1113.8L1359.6 1135.2L1373.9 1131.1L1378.0 1115.8L1381.1 1125.0L1383.1 1067.8L1386.2 1135.2L1391.3 1136.2" stroke="#ffdf00" stroke-width="2.3"/>
<path d="M1553.8 1136.2L1556.8 1125.0L1559.9 1057.6L1561.9 1092.3L1564.0 1135.2L1570.1 1135.2L1571.5 1084.1L1573.2 1135.2L1574.6 1070.9L1576.2 1135.2" stroke="#ffdf00" stroke-width="2.3"/>
<path d="M1452.6 1136.7L1454.6 1137.5L1456.6 1136.9L1458.6 1138.0L1460.6 1137.7L1462.6 1137.9L1464.6 1136.0L1466.6 1137.0L1468.6 1136.8L1470.6 1136.7L1472.6 1137.2L1474.6 1137.2L1476.6 1136.5L1478.6 1136.8L1480.6 1137.3L1482.6 1137.8L1484.6 1137.6L1486.6 1136.4L1488.6 1136.4L1490.6 1135.3L1492.6 1135.0L1494.6 1135.8L1496.6 1135.7L1498.6 1135.7L1500.6 1136.6L1502.6 1136.7L1504.6 1136.6L1506.6 1136.9L1508.6 1137.9L1510.6 1136.6L1512.6 1137.1L1514.6 1136.7L1516.6 1136.9L1518.6 1137.0L1520.6 1136.4L1522.6 1136.6L1524.6 1136.9L1526.6 1137.0L1528.6 1136.4L1530.6 1136.6L1532.6 1137.4L1534.6 1137.6L1536.6 1136.9L1538.6 1136.2L1540.6 1136.1L1542.6 1136.5L1544.6 1136.9L1546.6 1136.6L1548.6 1136.7L1550.6 1136.5L1552.6 1137.7" stroke="#ffdf00" stroke-width="2.3"/>
<path d="M190.0 1135.8L192.0 1135.9L194.0 1134.9L196.0 1135.5L198.0 1135.9L200.0 1135.7L202.0 1137.1L204.0 1138.4L206.0 1137.0L208.0 1135.0L210.0 1136.2L212.0 1136.6L214.0 1136.4L216.0 1135.2L218.0 1135.1L220.0 1135.5L222.0 1135.5L224.0 1136.1L226.0 1136.2L228.0 1137.7L230.0 1138.6L232.0 1137.5L234.0 1136.9L236.0 1138.1L238.0 1138.3L240.0 1135.7L242.0 1135.5L244.0 1136.7L246.0 1135.7L248.0 1135.8L250.0 1136.0L252.0 1136.4L254.0 1134.6L256.0 1134.8L258.0 1134.6L260.0 1135.4L262.0 1136.0L264.0 1136.1L266.0 1136.6L268.0 1136.7L270.0 1137.6L272.0 1137.1L274.0 1136.6L276.0 1135.1L278.0 1134.8L280.0 1135.9L282.0 1134.4L284.0 1135.4L286.0 1137.6L288.0 1138.2" stroke="#ff8000" stroke-width="2.3"/>
<path d="M859.7 1134.2L861.7 1133.5L863.7 1133.3L865.7 1133.7L867.7 1134.0L869.7 1133.3L871.7 1133.4L873.7 1134.5L875.7 1133.0L877.7 1133.5L879.7 1133.6L881.7 1134.6L883.7 1135.5L885.7 1134.4L887.7 1133.8L889.7 1133.3L891.7 1133.6L893.7 1133.8L895.7 1133.7L897.7 1135.0L899.7 1134.2L901.7 1135.2L903.7 1135.3L905.7 1134.2L907.7 1133.7L909.7 1134.9L911.7 1134.5L913.7 1134.0L915.7 1133.7L917.7 1133.0L919.7 1134.0L921.7 1133.1L923.7 1134.2L925.7 1133.5L927.7 1133.9" stroke="#ff8000" stroke-width="2.3"/>
<path d="M1667.2 1133.9L1669.2 1134.5L1671.2 1134.0L1673.2 1132.5L1675.2 1132.3L1677.2 1133.2L1679.2 1131.8L1681.2 1132.2L1683.2 1134.1L1685.2 1133.6L1687.2 1133.4L1689.2 1133.5L1691.2 1134.5L1693.2 1134.3L1695.2 1132.9L1697.2 1135.6L1699.2 1133.9L1701.2 1132.2L1703.2 1134.1L1705.2 1132.2L1707.2 1133.0L1709.2 1135.0L1711.2 1135.7L1713.2 1133.3" stroke="#ff8000" stroke-width="2.3"/>
<path d="M970.0 1136.3L972.0 1135.0L974.0 1135.6L976.0 1135.8L978.0 1133.0L980.0 1136.0L982.0 1135.4L984.0 1136.4L986.0 1137.0L988.0 1136.0L990.0 1136.4L992.0 1134.9L994.0 1135.1L996.0 1135.9L998.0 1135.2L1000.0 1133.7L1002.0 1135.2L1004.0 1134.8L1006.0 1136.3L1008.0 1135.2L1010.0 1135.8L1012.0 1136.9L1014.0 1136.7L1016.0 1136.9L1018.0 1136.5L1020.0 1136.1L1022.0 1136.9L1024.0 1136.4L1026.0 1136.5L1028.0 1136.6L1030.0 1136.2L1032.0 1137.3L1034.0 1137.5L1036.0 1136.4L1038.0 1136.5L1040.0 1136.6L1042.0 1137.2L1044.0 1137.1L1046.0 1137.3L1048.0 1137.8L1050.0 1135.6L1052.0 1137.5L1054.0 1135.5L1056.0 1135.3L1058.0 1137.7L1060.0 1137.3L1062.0 1136.4L1064.0 1135.3L1066.0 1135.7L1068.0 1138.0L1070.0 1136.4L1072.0 1138.4L1074.0 1135.6L1076.0 1136.6L1078.0 1134.7L1080.0 1135.9L1082.0 1135.9L1084.0 1135.4L1086.0 1134.3L1088.0 1136.3L1090.0 1134.5L1092.0 1133.7L1094.0 1134.5L1096.0 1134.6L1098.0 1136.2L1100.0 1134.4L1102.0 1134.1L1104.0 1135.7L1106.0 1134.9L1108.0 1136.5L1110.0 1137.1L1112.0 1136.0L1114.0 1135.0L1116.0 1134.1L1118.0 1133.6L1120.0 1134.5L1122.0 1135.7L1124.0 1136.0L1126.0 1136.2L1128.0 1137.2L1130.0 1135.2L1132.0 1136.0L1134.0 1136.0L1136.0 1137.3L1138.0 1139.3L1140.0 1137.7L1142.0 1138.0L1144.0 1137.8L1146.0 1137.7L1148.0 1136.8" stroke="#ff6000" stroke-width="2.3"/>
<path d="M570.0 1137.5L572.0 1137.1L574.0 1136.4L576.0 1135.7L578.0 1134.8L580.0 1135.6L582.0 1136.5L584.0 1136.8L586.0 1136.6L588.0 1136.4L590.0 1136.5L592.0 1136.0L594.0 1136.7L596.0 1137.3L598.0 1137.6L600.0 1136.8L602.0 1137.8L604.0 1137.2L606.0 1137.5L608.0 1136.9L610.0 1137.2L612.0 1137.5L614.0 1138.7L616.0 1136.9L618.0 1136.0L620.0 1136.6L622.0 1136.4L624.0 1137.2L626.0 1137.1L628.0 1138.2L630.0 1137.4L632.0 1137.0L634.0 1137.6L636.0 1136.9L638.0 1137.2L640.0 1136.5L642.0 1137.0L644.0 1137.5L646.0 1136.6L648.0 1137.5L650.0 1137.5L652.0 1136.9L654.0 1137.0L656.0 1137.1L658.0 1137.6L660.0 1137.4L662.0 1137.4L664.0 1136.2L666.0 1136.7L668.0 1136.6L670.0 1137.2L672.0 1137.2L674.0 1136.8L676.0 1137.1L678.0 1137.1L680.0 1137.7L682.0 1137.8L684.0 1137.7L686.0 1137.8L688.0 1138.0L690.0 1137.4L692.0 1138.5L694.0 1139.5L696.0 1138.9L698.0 1138.9L700.0 1139.9L702.0 1138.9L704.0 1140.1L706.0 1139.7L708.0 1138.7L710.0 1138.1L712.0 1137.0L714.0 1138.4L716.0 1137.5L718.0 1137.7L720.0 1137.4L722.0 1136.6L724.0 1137.1L726.0 1137.5L728.0 1137.2L730.0 1136.1L732.0 1136.4L734.0 1136.2L736.0 1136.3L738.0 1136.3L740.0 1136.7L742.0 1136.8L744.0 1137.1L746.0 1137.0L748.0 1136.6L750.0 1136.5L752.0 1136.6L754.0 1136.9L756.0 1137.1L758.0 1136.6L760.0 1136.4L762.0 1136.2L764.0 1137.3L766.0 1137.1L768.0 1136.8L770.0 1137.4L772.0 1136.1L774.0 1136.6L776.0 1136.4L778.0 1137.4L780.0 1138.6L782.0 1139.2L784.0 1138.8L786.0 1137.7L788.0 1137.7L790.0 1138.0L792.0 1138.1L794.0 1138.7L796.0 1136.9L798.0 1137.5L800.0 1136.9L802.0 1136.0L804.0 1136.3L806.0 1136.6L808.0 1136.5L810.0 1137.3L812.0 1137.3L814.0 1137.6L816.0 1137.7L818.0 1137.3L820.0 1136.6L822.0 1137.1L824.0 1137.7L826.0 1137.6L828.0 1137.9L830.0 1137.9L832.0 1137.3L834.0 1137.2L836.0 1136.9L838.0 1139.1L840.0 1138.3L842.0 1136.4L844.0 1136.0L846.0 1136.3L848.0 1136.5L850.0 1137.1L852.0 1136.9L854.0 1136.9L856.0 1136.8L858.0 1137.1L860.0 1135.8L862.0 1136.7L864.0 1137.1L866.0 1137.1L868.0 1137.2L870.0 1136.5L872.0 1136.7L874.0 1137.7L876.0 1137.3L878.0 1138.1L880.0 1137.7L882.0 1136.9L884.0 1136.8L886.0 1136.6L888.0 1136.4L890.0 1137.6L892.0 1137.3L894.0 1136.6L896.0 1137.0L898.0 1136.9L900.0 1135.8L902.0 1135.5L904.0 1135.5L906.0 1136.3L908.0 1136.0L910.0 1137.0L912.0 1136.1L914.0 1135.8L916.0 1135.5L918.0 1135.6L920.0 1136.4L922.0 1136.9L924.0 1136.6L926.0 1136.5L928.0 1136.5L930.0 1136.7L932.0 1137.1L934.0 1137.0L936.0 1137.6L938.0 1137.6L940.0 1137.8L942.0 1138.1L944.0 1137.4L946.0 1137.8L948.0 1136.9" stroke="#ff2000" stroke-width="2.3"/>
<path d="M1358.6 1136.2L1360.2 1130.1L1362.7 1136.2L1382.1 1134.2L1385.2 1096.4L1387.2 1131.1L1389.3 1120.9L1391.3 1135.2" stroke="#ff2000" stroke-width="2.3"/>
<path d="M1330.0 1136.8L1332.0 1135.1L1334.0 1135.0L1336.0 1134.1L1338.0 1135.4L1340.0 1134.9L1342.0 1135.1L1344.0 1136.6L1346.0 1137.4L1348.0 1137.7L1350.0 1137.8L1352.0 1136.8L1354.0 1137.6L1356.0 1135.8L1358.0 1136.6L1360.0 1136.4L1362.0 1136.0L1364.0 1138.0L1366.0 1138.2L1368.0 1136.2L1370.0 1136.6L1372.0 1135.9L1374.0 1136.4L1376.0 1136.7L1378.0 1137.3L1380.0 1134.9L1382.0 1137.1L1384.0 1136.3L1386.0 1136.3L1388.0 1136.0L1390.0 1135.9L1392.0 1134.4L1394.0 1134.8L1396.0 1134.2L1398.0 1136.2L1400.0 1136.0L1402.0 1136.8L1404.0 1135.7L1406.0 1133.5L1408.0 1135.8L1410.0 1136.4L1412.0 1136.9L1414.0 1138.5L1416.0 1137.8L1418.0 1137.0L1420.0 1138.5L1422.0 1136.1L1424.0 1135.6L1426.0 1136.2L1428.0 1138.2L1430.0 1136.5L1432.0 1135.8L1434.0 1136.4L1436.0 1136.0L1438.0 1138.5L1440.0 1137.2L1442.0 1136.9L1444.0 1135.5L1446.0 1134.0L1448.0 1135.4L1450.0 1135.7L1452.0 1135.6L1454.0 1136.6L1456.0 1136.7L1458.0 1133.9L1460.0 1134.2L1462.0 1135.4L1464.0 1134.8L1466.0 1137.5L1468.0 1136.3L1470.0 1135.8L1472.0 1135.1L1474.0 1134.5L1476.0 1134.8L1478.0 1134.8L1480.0 1135.2L1482.0 1134.8L1484.0 1135.0L1486.0 1134.8L1488.0 1136.0L1490.0 1134.9L1492.0 1134.8L1494.0 1135.1L1496.0 1135.8L1498.0 1134.3L1500.0 1134.4L1502.0 1135.5L1504.0 1137.0L1506.0 1138.7L1508.0 1137.8L1510.0 1136.2L1512.0 1137.3L1514.0 1136.1L1516.0 1137.0L1518.0 1136.5L1520.0 1134.7L1522.0 1136.3L1524.0 1137.0L1526.0 1137.0L1528.0 1137.6L1530.0 1135.6L1532.0 1135.5L1534.0 1134.9L1536.0 1136.0L1538.0 1135.8L1540.0 1135.7L1542.0 1136.5L1544.0 1133.1L1546.0 1132.9L1548.0 1132.4L1550.0 1134.2L1552.0 1136.1L1554.0 1136.9L1556.0 1135.3L1558.0 1135.2L1560.0 1135.2L1562.0 1137.7L1564.0 1137.2L1566.0 1135.9L1568.0 1135.2L1570.0 1137.5L1572.0 1136.2L1574.0 1137.6L1576.0 1137.8L1578.0 1137.6L1580.0 1135.7L1582.0 1136.3L1584.0 1135.7L1586.0 1137.0L1588.0 1136.8L1590.0 1136.3L1592.0 1137.0L1594.0 1138.2L1596.0 1138.2L1598.0 1137.4L1600.0 1137.2L1602.0 1137.0L1604.0 1136.7L1606.0 1137.0L1608.0 1136.2L1610.0 1135.5L1612.0 1134.1L1614.0 1134.0L1616.0 1135.9L1618.0 1133.3L1620.0 1135.6L1622.0 1136.2L1624.0 1137.9L1626.0 1138.6L1628.0 1137.2L1630.0 1138.0L1632.0 1136.4L1634.0 1136.6L1636.0 1136.1L1638.0 1136.9L1640.0 1136.9L1642.0 1137.2L1644.0 1137.3L1646.0 1137.9L1648.0 1136.1L1650.0 1137.5L1652.0 1136.3L1654.0 1135.6L1656.0 1135.8L1658.0 1134.3L1660.0 1135.1L1662.0 1136.9L1664.0 1136.6L1666.0 1138.3L1668.0 1137.8L1670.0 1138.9L1672.0 1138.8L1674.0 1139.5L1676.0 1137.5L1678.0 1137.7L1680.0 1136.7L1682.0 1136.9L1684.0 1136.6L1686.0 1136.5L1688.0 1137.8L1690.0 1137.5L1692.0 1135.8L1694.0 1134.8L1696.0 1133.5L1698.0 1135.6L1700.0 1134.5L1702.0 1134.1L1704.0 1136.3L1706.0 1135.3L1708.0 1137.4L1710.0 1137.3L1712.0 1137.8L1714.0 1136.8" stroke="#ff2000" stroke-width="2.3"/>
<path d="M309.9 1137.0L311.9 1136.2L313.9 1136.6L315.9 1136.1L317.9 1134.9L319.9 1135.5L321.9 1134.6L323.9 1135.6L325.9 1134.4L327.9 1135.5L329.9 1136.3L331.9 1137.1L333.9 1137.9L335.9 1137.4L337.9 1137.8L339.9 1136.4L341.9 1135.4L343.9 1136.1L345.9 1136.4L347.9 1137.1L349.9 1137.9L351.9 1137.8L353.9 1137.6L355.9 1136.6L357.9 1137.3L359.9 1137.4L361.9 1136.7L363.9 1137.1L365.9 1137.2L367.9 1136.7L369.9 1137.8L371.9 1138.0L373.9 1137.8L375.9 1136.9L377.9 1136.8L379.9 1138.0L381.9 1137.8L383.9 1138.4L385.9 1138.8L387.9 1138.4L389.9 1136.6L391.9 1133.8L393.9 1134.3L395.9 1134.2L397.9 1136.5L399.9 1136.9L401.9 1137.1L403.9 1136.3L405.9 1136.3L407.9 1136.8L409.9 1137.9L411.9 1136.8L413.9 1136.7L415.9 1137.5L417.9 1138.2L419.9 1136.6L421.9 1136.8L423.9 1136.9L425.9 1136.0L427.9 1136.5L429.9 1137.9L431.9 1136.9L433.9 1137.8L435.9 1136.2L437.7 1131.0L439.9 1136.3L441.9 1135.8L443.9 1135.6L445.9 1138.2L447.9 1137.5L449.9 1136.9L451.9 1137.0L453.9 1136.6L455.9 1136.7L457.9 1136.5L459.9 1135.7L461.9 1135.7L463.9 1137.1L465.9 1137.2L467.9 1136.8L469.9 1137.8L471.9 1137.8L473.9 1138.2L475.9 1137.4L477.9 1137.8L479.9 1137.6L481.9 1136.0L483.9 1136.7L485.9 1136.2L487.9 1137.1L489.9 1137.1L491.9 1135.8L493.9 1136.7L495.9 1137.4L497.9 1137.5L499.9 1138.0L501.9 1137.3L503.9 1136.4L505.9 1136.8L507.9 1137.7L509.9 1137.0L511.9 1137.2L513.9 1137.3L515.9 1138.0L517.9 1137.1L519.9 1137.2L521.9 1137.2L523.9 1136.7L525.9 1137.2L527.9 1136.7L529.9 1136.5L531.9 1137.3L533.9 1137.6L535.9 1138.5L537.9 1138.1L539.9 1138.6L541.9 1137.4L543.9 1136.4L545.9 1137.1L547.9 1136.6L549.9 1137.4L551.9 1138.3L553.9 1137.8L555.9 1136.6L557.9 1137.7L559.9 1136.5L561.9 1136.0L563.9 1137.2L565.9 1136.0L567.9 1138.0" stroke="#ff0000" stroke-width="2.3"/>
<path d="M570.0 1137.1L572.0 1136.1L574.0 1135.3L576.0 1134.9L578.0 1135.2L580.0 1135.9L582.0 1134.5L584.0 1136.0L586.0 1136.7L588.0 1137.3L590.0 1137.1L592.0 1135.8L594.0 1138.1L596.0 1137.5L598.0 1136.9L600.0 1136.4L602.0 1137.5L604.0 1139.2L606.0 1137.9L608.0 1138.2L610.0 1137.8L612.0 1136.8L614.0 1137.7L616.0 1136.8L618.0 1137.3L620.0 1136.5L622.0 1135.9L624.0 1136.3L626.0 1137.8L628.0 1137.5L630.0 1138.0L632.0 1138.0L634.0 1138.6L636.0 1137.2L638.0 1136.2L640.0 1136.8L642.0 1137.4L644.0 1137.2L646.0 1137.6L648.0 1136.3L650.0 1137.0L652.0 1136.8L654.0 1136.5L656.0 1136.0L658.0 1136.2L660.0 1134.2" stroke="#ff0000" stroke-width="2.3"/>
<path d="M1169.8 1135.7L1171.8 1135.1L1173.8 1134.9L1175.8 1136.6L1177.8 1136.7L1179.8 1138.1L1181.8 1138.8L1183.8 1136.8L1185.8 1136.2L1187.8 1136.2L1189.8 1137.3L1191.8 1137.5L1193.8 1136.5L1195.8 1138.2L1197.8 1138.2L1199.8 1136.3L1201.8 1137.1L1203.8 1137.6L1205.8 1138.5L1207.8 1137.7L1209.8 1139.2L1211.8 1137.4L1213.8 1137.5L1215.8 1135.7L1217.8 1135.6L1219.8 1135.4L1221.8 1136.2L1223.8 1136.4L1225.8 1137.4L1227.8 1135.7L1229.8 1135.6L1231.8 1137.7L1233.8 1137.0L1235.8 1136.6L1237.8 1135.6L1239.8 1135.6L1241.8 1137.4L1243.8 1138.7L1245.8 1137.3L1247.8 1136.8L1249.8 1138.4L1251.8 1138.6L1253.8 1139.4L1255.8 1139.0L1257.8 1138.2L1259.8 1137.4L1261.8 1138.0L1263.8 1137.3L1265.8 1138.2L1267.8 1136.9L1269.8 1137.0L1271.8 1136.5L1273.8 1137.3L1275.8 1137.4L1277.8 1137.1L1279.8 1136.1L1281.8 1136.9L1283.8 1136.7L1285.8 1136.2L1287.8 1137.3L1289.8 1137.6L1291.8 1138.2L1293.8 1138.5L1295.8 1139.2L1297.8 1137.8L1299.8 1137.7L1301.8 1137.0L1303.8 1138.5L1305.8 1137.9L1307.8 1137.9L1309.8 1138.2L1311.8 1139.6L1313.8 1137.8L1315.8 1137.7L1317.8 1137.6L1319.8 1138.0L1321.8 1137.8L1323.8 1138.3L1325.8 1137.8L1327.8 1136.9" stroke="#ff0000" stroke-width="2.3"/>
<path d="M309.9 1135.8L311.9 1134.6L313.9 1136.0L315.9 1136.7L317.9 1136.9L319.9 1136.4L321.9 1138.1L323.9 1135.8L325.9 1137.1L327.9 1137.9L329.9 1136.9L331.9 1135.9L333.9 1136.1L335.9 1136.1L337.9 1136.5L339.9 1136.5L341.9 1134.9L343.9 1135.4L345.9 1136.6L347.9 1135.4L349.9 1137.1L351.9 1135.9L353.9 1136.4L355.9 1136.5L357.9 1136.0L359.9 1136.1L361.9 1135.9L363.9 1136.6L365.9 1137.7L367.9 1137.6L369.9 1136.2L371.9 1137.1L373.9 1136.9L375.9 1136.8L377.9 1137.5L379.9 1136.8L381.9 1136.6L383.9 1135.6L385.9 1135.2L387.9 1135.4L389.9 1136.2L391.9 1135.8L393.9 1136.6L395.9 1135.7L397.9 1136.2L399.9 1135.5L401.9 1134.7L403.9 1135.2L405.9 1133.5L407.9 1135.5L409.9 1136.3L411.9 1136.8L413.9 1137.1L415.9 1137.4L417.9 1136.4L419.9 1136.3L421.9 1136.6L423.9 1136.2L425.9 1137.1L427.9 1136.7L429.9 1136.5L431.9 1137.2L433.9 1135.3L435.9 1136.2L437.9 1136.1L439.9 1135.0L441.9 1135.1L443.9 1135.9L445.9 1135.4L447.9 1135.0L449.9 1135.7L451.9 1136.1L453.9 1136.8L455.9 1137.1L457.9 1137.5L459.9 1136.2L461.9 1136.6L463.9 1137.4L465.9 1137.7L467.9 1137.7L469.9 1138.1L471.9 1136.8L473.9 1136.2L475.9 1137.8L477.9 1137.5L479.9 1136.2L481.9 1138.0L483.9 1136.5L485.9 1136.4L487.9 1136.0L489.9 1135.4L491.9 1135.7L493.9 1137.0L495.9 1136.5L497.9 1136.9L499.9 1135.8L501.9 1135.1L503.9 1134.8L505.9 1132.6L507.9 1134.8L509.9 1135.1L511.9 1136.1L513.9 1136.3L515.9 1136.3L517.9 1135.2L519.9 1135.8L521.9 1136.4L523.9 1135.4L525.9 1135.4L527.9 1135.7L529.9 1136.0L531.9 1135.8L533.9 1136.3L535.9 1136.9L537.9 1136.8L539.9 1135.2L541.9 1135.9L543.9 1137.6L545.9 1138.5L547.9 1139.1L549.9 1137.2L551.9 1136.6L553.9 1136.8L555.9 1136.5L557.9 1135.7L559.9 1135.2L561.9 1135.0L563.9 1134.8L565.9 1135.7L567.9 1135.7" stroke="#9f0000" stroke-width="2.3"/>
<path d="M737.8 1136.0L739.8 1136.9L741.8 1135.0L743.8 1136.3L745.8 1136.2L747.8 1134.2L749.8 1134.0L751.8 1136.4L753.8 1136.3L755.8 1136.3L757.8 1136.7L759.8 1136.1L761.8 1135.7L763.8 1135.3L765.8 1136.6L767.8 1137.2L769.8 1137.5L771.8 1138.1L773.8 1136.9L775.8 1134.8L777.8 1136.7L779.8 1137.5L781.8 1135.3L783.8 1135.9L785.8 1133.7L787.8 1134.2L789.8 1135.5L791.8 1134.5L793.8 1133.7L795.8 1135.3L797.8 1135.7L799.8 1134.9L801.8 1134.3L803.8 1134.8L805.8 1134.3L807.8 1135.2L809.8 1137.2L811.8 1134.4L813.8 1133.9L815.8 1135.2L817.8 1135.2L819.8 1134.5L821.8 1136.7L823.8 1135.6L825.8 1136.5L827.8 1135.8L829.8 1137.5L831.8 1137.6L833.8 1138.0L835.8 1135.6L837.8 1135.3L839.8 1135.3L841.8 1134.4L843.8 1132.8L845.8 1133.7L847.8 1135.5L849.8 1135.9L851.8 1134.8L853.8 1135.4L855.8 1135.0L857.8 1136.6L859.8 1136.4L861.8 1137.1L863.8 1135.9L865.8 1135.9L867.8 1137.3L869.8 1136.8L871.8 1136.6L873.8 1137.4L875.8 1137.5L877.8 1137.4L879.8 1137.6L881.8 1138.1L883.8 1137.2L885.8 1138.0L887.8 1137.5L889.8 1137.7L891.8 1137.1L893.8 1137.4L895.8 1137.0L897.8 1137.7L899.8 1136.9L901.8 1136.0L903.8 1136.6L905.8 1135.0L907.8 1136.8L909.8 1137.7L911.8 1139.7L913.8 1136.4L915.8 1135.2L917.8 1133.7L919.8 1133.8L921.8 1135.3L923.8 1135.9L925.8 1136.3L927.8 1135.8L929.8 1134.2L931.8 1135.0L933.8 1137.8L935.8 1136.3L937.8 1137.0L939.8 1133.7L941.8 1135.7L943.8 1135.6L945.8 1135.3L947.8 1134.6" stroke="#9f0000" stroke-width="2.3"/>
<path d="M950.0 1135.0L952.0 1135.4L954.0 1134.8L956.0 1136.4L958.0 1134.4L960.0 1134.0L962.0 1136.6L964.0 1133.7L966.0 1135.0L968.0 1135.3L970.0 1135.1L972.0 1135.1L974.0 1134.8L976.0 1134.6L978.0 1134.3L980.0 1136.5L982.0 1135.8L984.0 1136.0L986.0 1135.0L988.0 1136.3L990.0 1136.3L992.0 1138.4L994.0 1135.7L996.0 1136.3L998.0 1135.2L1000.0 1135.6L1002.0 1135.9L1004.0 1136.6L1006.0 1138.2L1008.0 1137.2" stroke="#9f0000" stroke-width="2.3"/>
<path d="M1179.8 1136.7L1181.8 1135.0L1183.8 1135.8L1185.8 1134.4L1187.8 1134.4L1189.8 1134.6L1191.8 1134.9L1193.8 1135.0L1195.8 1134.0L1197.8 1135.3L1199.8 1135.7L1201.8 1136.8L1203.8 1137.5L1205.8 1137.7L1207.8 1138.6L1209.8 1137.9L1211.8 1139.3L1213.8 1136.5L1215.8 1136.4L1217.8 1137.3L1219.8 1136.0L1221.8 1137.5L1223.8 1136.8L1225.8 1137.5L1227.8 1138.4L1229.8 1135.5L1231.8 1136.7L1233.8 1136.4L1235.8 1136.7L1237.8 1136.2L1239.8 1136.5L1241.8 1135.5L1243.8 1134.9L1245.8 1135.8L1247.8 1136.9L1249.8 1138.3L1251.8 1138.1L1253.8 1136.2L1255.8 1134.5L1257.8 1133.9L1259.8 1134.0L1261.8 1135.1L1263.8 1132.5L1265.8 1133.8L1267.8 1134.5L1269.8 1135.2L1271.8 1137.1L1273.8 1137.4L1275.8 1135.7L1277.8 1135.1L1279.8 1135.1L1281.8 1136.1L1283.8 1135.8L1285.8 1134.2L1287.8 1133.6L1289.8 1133.9L1291.8 1135.0L1293.8 1135.9L1295.8 1137.2L1297.8 1136.2L1299.8 1135.6L1301.8 1134.7L1303.8 1134.1L1305.8 1135.9L1307.8 1136.8L1309.8 1136.7L1311.8 1135.7L1313.8 1136.1L1315.8 1136.2L1317.8 1137.2L1319.8 1136.4L1321.8 1136.1L1323.8 1135.6L1325.8 1136.3L1327.8 1135.6" stroke="#9f0000" stroke-width="2.3"/>
<path d="M1565.0 1136.2L1569.1 1134.2L1572.2 1115.8L1574.2 1135.2L1584.4 1135.2L1586.1 1104.6L1587.5 1135.2L1593.6 1134.2L1602.8 1135.2L1604.9 1066.8L1606.9 1135.2" stroke="#9f0000" stroke-width="2.3"/>
<path d="M1606.9 1134.4L1608.9 1134.8L1610.9 1132.3L1612.9 1133.3L1614.9 1133.6L1616.9 1135.5L1618.9 1134.1L1620.9 1133.9L1622.9 1134.6L1624.9 1134.8L1626.9 1135.7L1628.9 1132.9L1630.9 1134.9L1632.9 1135.1L1634.5 1132.2L1636.9 1133.4L1638.9 1133.0L1640.6 1131.1L1642.9 1134.5L1644.9 1134.5L1646.9 1136.5L1648.9 1139.0L1650.9 1137.1L1652.9 1133.2L1654.9 1136.8L1656.9 1137.7L1658.9 1138.3L1660.9 1134.1L1662.9 1135.6L1664.9 1137.2L1666.9 1137.0L1668.9 1137.5L1670.9 1136.3L1672.9 1136.0L1674.9 1136.7L1676.9 1134.2L1678.9 1134.1L1680.9 1135.2L1682.9 1135.5L1684.9 1137.2L1686.9 1135.6L1688.9 1135.0L1690.9 1135.8L1692.9 1137.0L1694.9 1137.4L1696.9 1137.3L1698.9 1138.6L1700.9 1138.5L1702.9 1138.1L1704.9 1136.9L1706.9 1137.3L1708.9 1135.0L1710.9 1133.7L1712.9 1135.2" stroke="#9f0000" stroke-width="2.3"/>
<path d="M1330.0 1134.6L1332.0 1133.9L1334.0 1134.6L1336.0 1134.1L1338.0 1135.3L1340.0 1135.6L1342.0 1137.0L1344.0 1136.9L1346.0 1136.6L1348.0 1136.6L1350.0 1135.3L1352.0 1136.0L1354.0 1134.1L1356.0 1135.3L1358.0 1135.5L1360.0 1135.9L1362.0 1136.2L1364.0 1135.0L1366.0 1133.4L1368.0 1134.7L1370.0 1135.7L1372.0 1134.6L1374.0 1134.5L1376.0 1136.3L1378.0 1136.9L1380.0 1135.0L1382.0 1135.2L1384.0 1135.5L1386.0 1136.3L1388.0 1135.6L1390.0 1134.6L1392.0 1133.6L1394.0 1134.9L1396.0 1135.1L1398.0 1133.9L1400.0 1133.7L1402.0 1132.8L1404.0 1133.9L1406.0 1136.8L1408.0 1136.8L1410.0 1136.6L1412.0 1136.5L1414.0 1137.4L1416.0 1136.9L1418.0 1136.5L1420.0 1135.2L1422.0 1136.7L1424.0 1136.9L1426.0 1136.2L1428.0 1133.9L1430.0 1135.6L1432.0 1136.0L1434.0 1136.8L1436.0 1137.4L1438.0 1135.9L1440.0 1135.4L1442.0 1135.0L1444.0 1135.5L1446.0 1134.5L1448.0 1133.4L1450.0 1135.3L1452.0 1137.8L1454.0 1135.6L1456.0 1134.4L1458.0 1134.9L1460.0 1134.9L1462.0 1134.7L1464.0 1134.0L1466.0 1133.0L1468.0 1133.7L1470.0 1134.9L1472.0 1134.2L1474.0 1136.6L1476.0 1137.1L1478.0 1135.9L1480.0 1135.0L1482.0 1133.8L1484.0 1133.5L1486.0 1135.0L1488.0 1135.1L1490.0 1136.0L1492.0 1135.4L1494.0 1135.7L1496.0 1136.8L1498.0 1137.8L1500.0 1135.2L1502.0 1135.3L1504.0 1135.0L1506.0 1134.6L1508.0 1135.9L1510.0 1134.5L1512.0 1135.8L1514.0 1135.6L1516.0 1135.8L1518.0 1136.3L1520.0 1135.9L1522.0 1136.5L1524.0 1134.8L1526.0 1134.9L1528.0 1137.1L1530.0 1137.0L1532.0 1135.1L1534.0 1136.4L1536.0 1134.6L1538.0 1135.6L1540.0 1136.1L1542.0 1135.7L1544.0 1134.8" stroke="#9f0000" stroke-width="2.3"/>
</g>
<rect x="190.5" y="897.3" width="1521" height="247.3" stroke="#262626" stroke-width="4.2" fill="none"/>
<text class="tk" transform="translate(179.2,1156.4) scale(1,1.06)" text-anchor="end">0</text>
<text class="tk" transform="translate(179.2,1131.67) scale(1,1.06)" text-anchor="end">0.1</text>
<text class="tk" transform="translate(179.2,1106.94) scale(1,1.06)" text-anchor="end">0.2</text>
<text class="tk" transform="translate(179.2,1057.48) scale(1,1.06)" text-anchor="end">0.4</text>
<text class="tk" transform="translate(179.2,1008.02) scale(1,1.06)" text-anchor="end">0.6</text>
<text class="tk" transform="translate(179.2,958.56) scale(1,1.06)" text-anchor="end">0.8</text>
</g>
<text class="tk" transform="translate(190.5,1185.6) scale(1,1.06)" text-anchor="middle">00</text>
<text class="tk" transform="translate(253.88,1185.6) scale(1,1.06)" text-anchor="middle">01</text>
<text class="tk" transform="translate(317.25,1185.6) scale(1,1.06)" text-anchor="middle">02</text>
<text class="tk" transform="translate(380.62,1185.6) scale(1,1.06)" text-anchor="middle">03</text>
<text class="tk" transform="translate(444,1185.6) scale(1,1.06)" text-anchor="middle">04</text>
<text class="tk" transform="translate(507.38,1185.6) scale(1,1.06)" text-anchor="middle">05</text>
<text class="tk" transform="translate(570.75,1185.6) scale(1,1.06)" text-anchor="middle">06</text>
<text class="tk" transform="translate(634.12,1185.6) scale(1,1.06)" text-anchor="middle">07</text>
<text class="tk" transform="translate(697.5,1185.6) scale(1,1.06)" text-anchor="middle">08</text>
<text class="tk" transform="translate(760.88,1185.6) scale(1,1.06)" text-anchor="middle">09</text>
<text class="tk" transform="translate(824.25,1185.6) scale(1,1.06)" text-anchor="middle">10</text>
<text class="tk" transform="translate(887.62,1185.6) scale(1,1.06)" text-anchor="middle">11</text>
<text class="tk" transform="translate(951,1185.6) scale(1,1.06)" text-anchor="middle">12</text>
<text class="tk" transform="translate(1014.38,1185.6) scale(1,1.06)" text-anchor="middle">13</text>
<text class="tk" transform="translate(1077.75,1185.6) scale(1,1.06)" text-anchor="middle">14</text>
<text class="tk" transform="translate(1141.12,1185.6) scale(1,1.06)" text-anchor="middle">15</text>
<text class="tk" transform="translate(1204.5,1185.6) scale(1,1.06)" text-anchor="middle">16</text>
<text class="tk" transform="translate(1267.88,1185.6) scale(1,1.06)" text-anchor="middle">17</text>
<text class="tk" transform="translate(1331.25,1185.6) scale(1,1.06)" text-anchor="middle">18</text>
<text class="tk" transform="translate(1394.62,1185.6) scale(1,1.06)" text-anchor="middle">19</text>
<text class="tk" transform="translate(1458,1185.6) scale(1,1.06)" text-anchor="middle">20</text>
<text class="tk" transform="translate(1521.38,1185.6) scale(1,1.06)" text-anchor="middle">21</text>
<text class="tk" transform="translate(1584.75,1185.6) scale(1,1.06)" text-anchor="middle">22</text>
<text class="tk" transform="translate(1648.12,1185.6) scale(1,1.06)" text-anchor="middle">23</text>
<text class="tk" transform="translate(1711.5,1185.6) scale(1,1.06)" text-anchor="middle">00</text>
<text class="lb" transform="translate(951,1227) scale(1,1.06)" text-anchor="middle">UT</text>
<text class="lb" transform="translate(950.3,121.6) scale(1,1.06)" text-anchor="middle" style="fill:#000">20190807-calibrated-HOR-GALILEO</text>
<text class="lb" transform="translate(133.3,260) rotate(-90) scale(1,1.06)" text-anchor="middle">VTEC[TECU]</text>
<text class="lb" transform="translate(140,512) rotate(-90) scale(1,1.06)" text-anchor="middle">ROT [TECU/min]</text>
<text class="lb" transform="translate(111,766.5) rotate(-90) scale(1,1.06)" text-anchor="middle">S<tspan font-size="25.8" dy="15.5">4</tspan><tspan dy="-15.5"> (&quot;ism.mat&quot;)</tspan></text>
<text class="lb" transform="translate(112.3,1021.2) rotate(-90) scale(1,1.06)" text-anchor="middle"><tspan class="sym" font-size="34">&#963;</tspan><tspan class="sym" font-size="29" dx="2.5" dy="14.5">&#981;</tspan><tspan dx="1" dy="-14.5">[rad]</tspan></text>
<rect x="1731.6" y="993.74" width="21.7" height="24.46" fill="#00009f"/>
<rect x="1731.6" y="969.89" width="21.7" height="24.46" fill="#0000bf"/>
<rect x="1731.6" y="946.03" width="21.7" height="24.46" fill="#0000df"/>
<rect x="1731.6" y="922.17" width="21.7" height="24.46" fill="#0000ff"/>
<rect x="1731.6" y="898.32" width="21.7" height="24.46" fill="#0020ff"/>
<rect x="1731.6" y="874.46" width="21.7" height="24.46" fill="#0040ff"/>
<rect x="1731.6" y="850.61" width="21.7" height="24.46" fill="#0060ff"/>
<rect x="1731.6" y="826.75" width="21.7" height="24.46" fill="#0080ff"/>
<rect x="1731.6" y="802.89" width="21.7" height="24.46" fill="#009fff"/>
<rect x="1731.6" y="779.04" width="21.7" height="24.46" fill="#00bfff"/>
<rect x="1731.6" y="755.18" width="21.7" height="24.46" fill="#00dfff"/>
<rect x="1731.6" y="731.33" width="21.7" height="24.46" fill="#00ffff"/>
<rect x="1731.6" y="707.47" width="21.7" height="24.46" fill="#20ffdf"/>
<rect x="1731.6" y="683.61" width="21.7" height="24.46" fill="#40ffbf"/>
<rect x="1731.6" y="659.76" width="21.7" height="24.46" fill="#60ff9f"/>
<rect x="1731.6" y="635.9" width="21.7" height="24.46" fill="#80ff80"/>
<rect x="1731.6" y="612.04" width="21.7" height="24.46" fill="#9fff60"/>
<rect x="1731.6" y="588.19" width="21.7" height="24.46" fill="#bfff40"/>
<rect x="1731.6" y="564.33" width="21.7" height="24.46" fill="#dfff20"/>
<rect x="1731.6" y="540.47" width="21.7" height="24.46" fill="#ffff00"/>
<rect x="1731.6" y="516.62" width="21.7" height="24.46" fill="#ffdf00"/>
<rect x="1731.6" y="492.76" width="21.7" height="24.46" fill="#ffbf00"/>
<rect x="1731.6" y="468.91" width="21.7" height="24.46" fill="#ff9f00"/>
<rect x="1731.6" y="445.05" width="21.7" height="24.46" fill="#ff8000"/>
<rect x="1731.6" y="421.19" width="21.7" height="24.46" fill="#ff6000"/>
<rect x="1731.6" y="397.34" width="21.7" height="24.46" fill="#ff4000"/>
<rect x="1731.6" y="373.48" width="21.7" height="24.46" fill="#ff2000"/>
<rect x="1731.6" y="349.62" width="21.7" height="24.46" fill="#ff0000"/>
<rect x="1731.6" y="325.77" width="21.7" height="24.46" fill="#df0000"/>
<rect x="1731.6" y="301.91" width="21.7" height="24.46" fill="#bf0000"/>
<rect x="1731.6" y="278.06" width="21.7" height="24.46" fill="#9f0000"/>
<rect x="1731.6" y="254.2" width="21.7" height="24.46" fill="#800000"/>
<path d="M1753.3 993.57h-17M1753.3 944.32h-17M1753.3 895.07h-17M1753.3 845.82h-17M1753.3 796.57h-17M1753.3 747.32h-17M1753.3 698.06h-17M1753.3 648.81h-17M1753.3 599.56h-17M1753.3 550.31h-17M1753.3 501.06h-17M1753.3 451.81h-17M1753.3 402.55h-17M1753.3 353.3h-17M1753.3 304.05h-17M1753.3 254.8h-17" stroke="#262626" stroke-width="4.2" fill="none"/>
<rect x="1731.6" y="254.2" width="21.7" height="763.4" stroke="#262626" stroke-width="4.2" fill="none"/>
<text class="cb" transform="translate(1765.2,1006.07) scale(1,1.06)">2</text>
<text class="cb" transform="translate(1765.2,956.82) scale(1,1.06)">4</text>
<text class="cb" transform="translate(1765.2,907.57) scale(1,1.06)">6</text>
<text class="cb" transform="translate(1765.2,858.32) scale(1,1.06)">8</text>
<text class="cb" transform="translate(1765.2,809.07) scale(1,1.06)">10</text>
<text class="cb" transform="translate(1765.2,759.82) scale(1,1.06)">12</text>
<text class="cb" transform="translate(1765.2,710.56) scale(1,1.06)">14</text>
<text class="cb" transform="translate(1765.2,661.31) scale(1,1.06)">16</text>
<text class="cb" transform="translate(1765.2,612.06) scale(1,1.06)">18</text>
<text class="cb" transform="translate(1765.2,562.81) scale(1,1.06)">20</text>
<text class="cb" transform="translate(1765.2,513.56) scale(1,1.06)">22</text>
<text class="cb" transform="translate(1765.2,464.31) scale(1,1.06)">24</text>
<text class="cb" transform="translate(1765.2,415.05) scale(1,1.06)">26</text>
<text class="cb" transform="translate(1765.2,365.8) scale(1,1.06)">28</text>
<text class="cb" transform="translate(1765.2,316.55) scale(1,1.06)">30</text>
<text class="cb" transform="translate(1765.2,267.3) scale(1,1.06)">32</text>
<text class="pr" transform="translate(1718,234.7) scale(1,1.06)" style="fill:#000">#PRN</text>
</svg></body></html>
